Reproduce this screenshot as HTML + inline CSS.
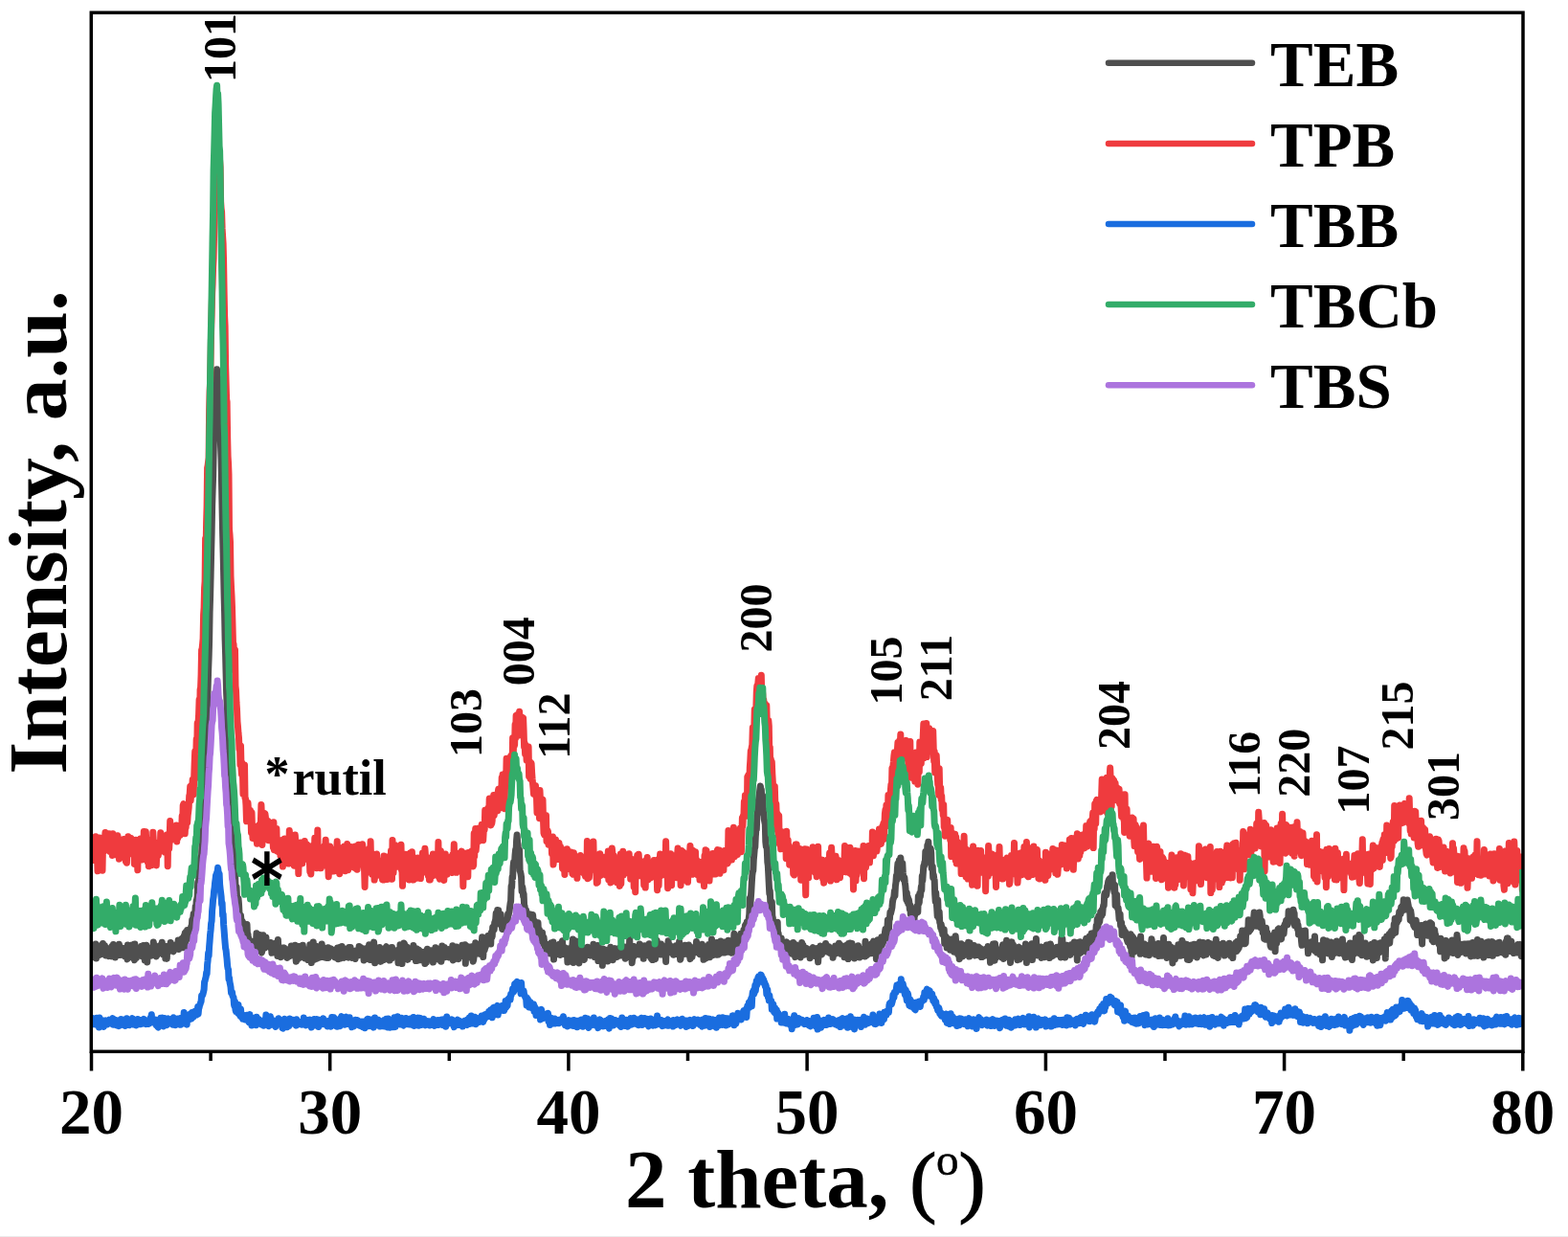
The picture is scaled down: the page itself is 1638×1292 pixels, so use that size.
<!DOCTYPE html>
<html><head><meta charset="utf-8"><style>
html,body{margin:0;padding:0;background:#fff;width:1638px;height:1292px;overflow:hidden}
svg{display:block}
</style></head><body>
<svg width="1638" height="1292" viewBox="0 0 1638 1292">
<rect x="0" y="0" width="1638" height="1292" fill="#fff"/>
<defs><clipPath id="pc"><rect x="95.3" y="13.2" width="1495.7" height="1085.1"/></clipPath></defs>
<g fill="none" stroke-linejoin="round" stroke-linecap="butt" clip-path="url(#pc)">
<path d="M95.5 994.2 96.0 1000.0 96.5 999.4 97.0 991.8 97.5 992.7 98.0 991.7 98.5 996.5 99.0 993.8 99.5 997.3 100.0 985.9 100.5 1000.9 101.0 993.6 101.5 997.0 102.0 993.4 102.5 992.4 103.0 996.1 103.5 997.7 104.0 993.1 104.5 993.4 105.0 997.0 105.5 990.2 106.0 987.4 106.5 995.8 107.0 991.1 107.5 985.6 108.0 990.5 108.5 992.0 109.0 988.8 109.5 987.5 110.0 994.2 110.5 998.0 111.0 993.0 111.4 990.8 111.9 995.7 112.4 997.2 112.9 992.7 113.4 996.4 113.9 998.6 114.4 993.1 114.9 990.5 115.4 995.6 115.9 995.1 116.4 998.9 116.9 988.4 117.4 991.1 117.9 990.4 118.4 986.4 118.9 994.6 119.4 996.4 119.9 990.8 120.4 1000.1 120.9 997.7 121.4 996.8 121.9 995.8 122.4 998.2 122.9 988.2 123.4 996.7 123.9 996.7 124.4 986.3 124.9 995.6 125.4 992.9 125.9 997.5 126.4 992.1 126.9 993.9 127.4 995.5 127.9 990.2 128.4 996.7 128.9 993.6 129.4 996.2 129.9 991.7 130.4 998.8 130.9 996.7 131.4 993.2 131.9 996.8 132.4 999.5 132.9 1001.9 133.4 987.1 133.9 997.9 134.4 996.0 134.9 993.6 135.4 989.6 135.9 999.5 136.4 988.4 136.9 996.5 137.4 999.7 137.9 986.9 138.4 992.6 138.9 988.2 139.4 995.0 139.9 1000.6 140.4 1002.8 140.9 986.1 141.4 991.4 141.9 997.0 142.4 1000.9 142.9 995.8 143.3 990.6 143.8 995.2 144.3 993.8 144.8 993.0 145.3 990.6 145.8 995.6 146.3 995.2 146.8 993.4 147.3 992.8 147.8 988.2 148.3 991.7 148.8 999.1 149.3 992.9 149.8 987.4 150.3 999.6 150.8 996.1 151.3 1003.0 151.8 994.0 152.3 991.7 152.8 987.3 153.3 999.5 153.8 1005.0 154.3 990.0 154.8 990.8 155.3 996.2 155.8 989.9 156.3 992.4 156.8 992.0 157.3 994.4 157.8 998.3 158.3 993.6 158.8 997.5 159.3 991.6 159.8 994.8 160.3 984.0 160.8 987.0 161.3 996.8 161.8 990.7 162.3 995.8 162.8 995.6 163.3 999.0 163.8 996.7 164.3 997.6 164.8 992.6 165.3 989.9 165.8 989.8 166.3 990.8 166.8 987.9 167.3 990.4 167.8 992.4 168.3 993.8 168.8 991.2 169.3 984.2 169.8 992.2 170.3 993.5 170.8 997.2 171.3 994.9 171.8 989.5 172.3 989.0 172.8 1001.0 173.3 995.4 173.8 1000.0 174.3 1001.3 174.8 988.2 175.2 993.4 175.7 993.6 176.2 994.0 176.7 993.8 177.2 992.2 177.7 991.9 178.2 984.4 178.7 990.2 179.2 987.5 179.7 991.2 180.2 988.4 180.7 993.0 181.2 993.7 181.7 991.3 182.2 991.2 182.7 990.0 183.2 987.4 183.7 988.4 184.2 986.7 184.7 990.4 185.2 988.5 185.7 990.7 186.2 982.0 186.7 991.5 187.2 983.9 187.7 983.7 188.2 985.7 188.7 983.7 189.2 987.1 189.7 982.8 190.2 980.2 190.7 980.7 191.2 989.7 191.7 983.6 192.2 977.7 192.7 982.3 193.2 974.8 193.7 988.8 194.2 973.5 194.7 981.6 195.2 981.1 195.7 971.4 196.2 978.2 196.7 980.3 197.2 976.9 197.7 974.9 198.2 976.7 198.7 972.0 199.2 971.4 199.7 967.8 200.2 969.6 200.7 961.0 201.2 966.8 201.7 959.2 202.2 954.5 202.7 958.7 203.2 962.1 203.7 956.3 204.2 947.0 204.7 949.3 205.2 941.0 205.7 939.0 206.2 936.2 206.7 921.5 207.1 928.2 207.6 918.1 208.1 914.5 208.6 905.5 209.1 899.4 209.6 895.6 210.1 896.4 210.6 892.7 211.1 877.2 211.6 873.5 212.1 858.2 212.6 840.9 213.1 839.2 213.6 829.0 214.1 812.7 214.6 802.7 215.1 789.7 215.6 768.3 216.1 749.6 216.6 738.2 217.1 720.3 217.6 700.9 218.1 687.2 218.6 670.0 219.1 639.4 219.6 622.6 220.1 601.6 220.6 578.3 221.1 557.4 221.6 529.1 222.1 512.5 222.6 497.5 223.1 472.6 223.6 448.4 224.1 437.6 224.6 426.4 225.1 410.9 225.6 397.8 226.1 401.0 226.6 385.7 227.1 393.4 227.6 394.2 228.1 395.1 228.6 414.6 229.1 422.4 229.6 429.8 230.1 453.8 230.6 467.2 231.1 480.3 231.6 506.3 232.1 532.0 232.6 555.7 233.1 575.9 233.6 597.7 234.1 621.7 234.6 640.4 235.1 667.6 235.6 683.5 236.1 703.8 236.6 723.7 237.1 734.6 237.6 753.1 238.1 778.9 238.6 788.8 239.0 800.2 239.5 816.2 240.0 825.0 240.5 839.9 241.0 846.5 241.5 860.7 242.0 861.9 242.5 883.3 243.0 883.2 243.5 886.0 244.0 898.9 244.5 904.6 245.0 912.8 245.5 912.6 246.0 924.5 246.5 943.4 247.0 926.2 247.5 937.4 248.0 938.3 248.5 944.0 249.0 938.4 249.5 944.3 250.0 954.2 250.5 954.6 251.0 964.4 251.5 956.3 252.0 962.3 252.5 976.3 253.0 961.9 253.5 963.0 254.0 968.3 254.5 969.8 255.0 975.0 255.5 973.2 256.0 970.5 256.5 975.8 257.0 987.6 257.5 982.5 258.0 965.6 258.5 978.0 259.0 975.6 259.5 982.9 260.0 980.1 260.5 990.0 261.0 986.2 261.5 986.6 262.0 984.0 262.5 983.5 263.0 985.6 263.5 990.3 264.0 987.3 264.5 983.8 265.0 991.2 265.5 986.8 266.0 985.8 266.5 982.9 267.0 984.1 267.5 984.0 268.0 974.7 268.5 991.6 269.0 989.7 269.5 986.3 270.0 991.9 270.5 989.2 270.9 988.9 271.4 976.4 271.9 986.2 272.4 989.5 272.9 994.1 273.4 995.0 273.9 993.0 274.4 981.5 274.9 976.8 275.4 988.8 275.9 986.2 276.4 990.2 276.9 985.2 277.4 986.6 277.9 979.0 278.4 987.5 278.9 983.5 279.4 987.0 279.9 987.6 280.4 985.2 280.9 987.2 281.4 986.0 281.9 989.6 282.4 988.8 282.9 984.5 283.4 984.7 283.9 995.3 284.4 987.5 284.9 992.7 285.4 990.4 285.9 986.6 286.4 986.1 286.9 990.3 287.4 991.2 287.9 993.1 288.4 985.1 288.9 988.4 289.4 990.8 289.9 998.6 290.4 981.4 290.9 993.9 291.4 989.8 291.9 994.2 292.4 990.3 292.9 994.3 293.4 999.7 293.9 994.5 294.4 995.0 294.9 994.8 295.4 990.0 295.9 995.8 296.4 992.6 296.9 990.0 297.4 993.5 297.9 992.7 298.4 997.1 298.9 993.7 299.4 991.6 299.9 1000.4 300.4 998.4 300.9 999.7 301.4 996.8 301.9 993.7 302.3 992.4 302.8 993.1 303.3 998.5 303.8 994.8 304.3 987.9 304.8 994.3 305.3 988.2 305.8 995.2 306.3 989.2 306.8 989.0 307.3 995.1 307.8 994.2 308.3 987.3 308.8 997.9 309.3 1004.2 309.8 988.2 310.3 1002.7 310.8 991.7 311.3 992.6 311.8 994.0 312.3 988.4 312.8 1000.5 313.3 997.0 313.8 991.5 314.3 993.6 314.8 988.2 315.3 993.3 315.8 999.0 316.3 987.3 316.8 993.0 317.3 995.6 317.8 999.5 318.3 1000.9 318.8 992.9 319.3 991.7 319.8 997.0 320.3 993.4 320.8 993.6 321.3 999.8 321.8 1002.5 322.3 996.2 322.8 994.2 323.3 997.6 323.8 986.8 324.3 995.0 324.8 990.4 325.3 1005.6 325.8 998.3 326.3 995.7 326.8 994.3 327.3 984.0 327.8 998.3 328.3 1002.3 328.8 991.9 329.3 998.2 329.8 998.3 330.3 988.3 330.8 999.3 331.3 1001.1 331.8 996.2 332.3 994.9 332.8 998.7 333.3 988.4 333.8 995.6 334.2 999.9 334.7 989.8 335.2 999.6 335.7 993.4 336.2 986.1 336.7 994.8 337.2 991.0 337.7 996.7 338.2 990.1 338.7 999.9 339.2 992.0 339.7 996.8 340.2 992.7 340.7 993.9 341.2 1000.5 341.7 996.2 342.2 993.6 342.7 989.8 343.2 1000.4 343.7 998.5 344.2 993.9 344.7 996.4 345.2 990.8 345.7 990.9 346.2 991.7 346.7 996.9 347.2 996.7 347.7 992.1 348.2 998.6 348.7 998.8 349.2 996.1 349.7 999.9 350.2 994.1 350.7 994.9 351.2 997.5 351.7 995.2 352.2 998.9 352.7 989.9 353.2 1001.7 353.7 992.0 354.2 994.7 354.7 989.4 355.2 998.1 355.7 1001.0 356.2 1000.1 356.7 999.1 357.2 988.6 357.7 992.0 358.2 993.4 358.7 991.3 359.2 1000.4 359.7 996.3 360.2 995.4 360.7 997.6 361.2 991.3 361.7 991.5 362.2 991.6 362.7 997.7 363.2 997.0 363.7 998.0 364.2 1000.2 364.7 989.5 365.2 993.0 365.7 996.2 366.1 989.6 366.6 993.2 367.1 1000.0 367.6 1000.4 368.1 1000.3 368.6 995.7 369.1 994.6 369.6 1000.3 370.1 993.9 370.6 997.0 371.1 1001.4 371.6 993.9 372.1 992.9 372.6 995.5 373.1 998.2 373.6 997.7 374.1 996.3 374.6 998.0 375.1 988.5 375.6 991.8 376.1 996.3 376.6 991.5 377.1 989.7 377.6 990.3 378.1 991.6 378.6 994.8 379.1 991.1 379.6 996.6 380.1 1003.1 380.6 995.0 381.1 1001.2 381.6 996.9 382.1 990.7 382.6 994.5 383.1 991.3 383.6 999.0 384.1 990.6 384.6 1001.5 385.1 998.2 385.6 986.7 386.1 999.1 386.6 1002.5 387.1 992.2 387.6 1000.0 388.1 987.8 388.6 996.8 389.1 988.4 389.6 997.8 390.1 987.8 390.6 984.1 391.1 997.4 391.6 1005.8 392.1 993.1 392.6 999.3 393.1 996.2 393.6 994.3 394.1 998.4 394.6 1002.9 395.1 990.3 395.6 998.2 396.1 997.2 396.6 989.5 397.1 1002.8 397.6 1004.3 398.0 991.5 398.5 1003.4 399.0 996.0 399.5 995.0 400.0 1002.4 400.5 996.7 401.0 997.2 401.5 1002.4 402.0 1001.4 402.5 999.7 403.0 989.6 403.5 988.8 404.0 1000.7 404.5 991.7 405.0 996.4 405.5 991.0 406.0 995.0 406.5 990.2 407.0 1003.0 407.5 991.3 408.0 995.2 408.5 995.0 409.0 1001.1 409.5 989.5 410.0 995.7 410.5 994.9 411.0 998.1 411.5 997.9 412.0 993.8 412.5 996.9 413.0 994.2 413.5 997.9 414.0 995.4 414.5 992.9 415.0 995.7 415.5 997.4 416.0 1005.8 416.5 993.7 417.0 997.2 417.5 1002.3 418.0 986.7 418.5 988.2 419.0 990.6 419.5 995.4 420.0 1006.6 420.5 997.6 421.0 1001.2 421.5 994.9 422.0 985.0 422.5 985.7 423.0 1000.4 423.5 996.7 424.0 990.2 424.5 1000.8 425.0 989.1 425.5 1000.9 426.0 1002.3 426.5 992.5 427.0 991.0 427.5 999.6 428.0 991.1 428.5 999.7 429.0 990.6 429.5 999.5 429.9 996.3 430.4 994.0 430.9 992.0 431.4 997.0 431.9 987.6 432.4 994.7 432.9 994.2 433.4 998.9 433.9 990.4 434.4 1003.5 434.9 994.6 435.4 990.9 435.9 1002.0 436.4 1003.3 436.9 995.1 437.4 992.0 437.9 996.0 438.4 992.9 438.9 994.6 439.4 1002.8 439.9 997.7 440.4 996.6 440.9 997.5 441.4 995.7 441.9 999.7 442.4 999.8 442.9 994.3 443.4 996.4 443.9 1006.6 444.4 997.8 444.9 995.2 445.4 1005.0 445.9 996.0 446.4 991.2 446.9 999.0 447.4 992.0 447.9 993.8 448.4 997.4 448.9 995.4 449.4 992.6 449.9 993.6 450.4 993.4 450.9 1001.1 451.4 992.8 451.9 993.5 452.4 1005.0 452.9 993.5 453.4 1002.5 453.9 1001.8 454.4 995.3 454.9 989.7 455.4 998.0 455.9 998.9 456.4 1000.2 456.9 996.3 457.4 1001.3 457.9 1002.1 458.4 991.3 458.9 1002.2 459.4 996.7 459.9 993.5 460.4 994.5 460.9 1004.2 461.4 1000.3 461.8 988.1 462.3 996.3 462.8 995.3 463.3 995.1 463.8 993.7 464.3 989.5 464.8 999.7 465.3 991.8 465.8 994.3 466.3 993.2 466.8 992.7 467.3 999.1 467.8 997.6 468.3 992.9 468.8 991.7 469.3 993.8 469.8 1000.1 470.3 996.4 470.8 996.9 471.3 994.4 471.8 994.7 472.3 996.8 472.8 987.7 473.3 1002.9 473.8 992.3 474.3 993.3 474.8 1001.7 475.3 996.7 475.8 995.9 476.3 993.2 476.8 988.9 477.3 996.5 477.8 1001.0 478.3 991.7 478.8 1001.7 479.3 990.7 479.8 992.4 480.3 997.9 480.8 995.6 481.3 998.7 481.8 992.3 482.3 991.0 482.8 987.3 483.3 990.2 483.8 990.8 484.3 989.2 484.8 996.8 485.3 992.5 485.8 986.7 486.3 1006.3 486.8 991.7 487.3 989.8 487.8 1000.8 488.3 1000.4 488.8 990.2 489.3 988.7 489.8 990.7 490.3 1000.1 490.8 993.7 491.3 991.4 491.8 994.8 492.3 1000.2 492.8 988.7 493.2 993.1 493.7 988.6 494.2 1004.2 494.7 1002.5 495.2 998.6 495.7 993.7 496.2 997.1 496.7 984.8 497.2 995.2 497.7 988.0 498.2 987.9 498.7 990.4 499.2 991.8 499.7 995.7 500.2 996.0 500.7 993.9 501.2 988.3 501.7 995.2 502.2 991.4 502.7 996.8 503.2 987.2 503.7 978.7 504.2 988.4 504.7 999.5 505.2 991.6 505.7 988.2 506.2 992.3 506.7 990.0 507.2 989.1 507.7 984.1 508.2 985.8 508.7 985.5 509.2 980.8 509.7 977.6 510.2 982.0 510.7 984.5 511.2 981.8 511.7 979.7 512.2 978.3 512.7 986.0 513.2 974.2 513.7 976.0 514.2 978.4 514.7 968.4 515.2 967.7 515.7 969.6 516.2 971.0 516.7 963.6 517.2 962.6 517.7 960.4 518.2 953.9 518.7 963.5 519.2 957.1 519.7 950.4 520.2 957.4 520.7 950.7 521.2 954.3 521.7 959.4 522.2 956.0 522.7 965.5 523.2 955.1 523.7 963.6 524.2 965.7 524.7 970.4 525.1 968.6 525.6 966.1 526.1 965.7 526.6 965.3 527.1 970.5 527.6 962.3 528.1 966.9 528.6 963.4 529.1 963.8 529.6 960.2 530.1 969.0 530.6 954.7 531.1 956.2 531.6 953.5 532.1 951.7 532.6 947.4 533.1 943.3 533.6 941.3 534.1 925.5 534.6 927.0 535.1 916.1 535.6 917.0 536.1 905.1 536.6 900.5 537.1 899.1 537.6 900.5 538.1 892.5 538.6 887.5 539.1 889.6 539.6 877.6 540.1 871.9 540.6 879.7 541.1 882.0 541.6 891.3 542.1 898.8 542.6 887.8 543.1 909.5 543.6 910.7 544.1 913.0 544.6 916.4 545.1 931.0 545.6 925.9 546.1 928.5 546.6 935.9 547.1 933.5 547.6 945.6 548.1 946.5 548.6 951.6 549.1 954.5 549.6 950.6 550.1 963.1 550.6 954.6 551.1 964.4 551.6 954.6 552.1 964.2 552.6 959.7 553.1 964.0 553.6 961.4 554.1 954.9 554.6 959.7 555.1 965.1 555.6 967.6 556.1 958.4 556.6 955.5 557.0 961.1 557.5 964.2 558.0 962.5 558.5 962.0 559.0 969.6 559.5 970.6 560.0 970.2 560.5 963.4 561.0 968.6 561.5 968.2 562.0 963.7 562.5 974.8 563.0 972.4 563.5 970.9 564.0 980.3 564.5 978.5 565.0 980.0 565.5 982.6 566.0 981.6 566.5 973.9 567.0 978.7 567.5 985.8 568.0 979.0 568.5 983.4 569.0 985.8 569.5 991.2 570.0 991.3 570.5 990.2 571.0 986.1 571.5 991.6 572.0 990.4 572.5 987.9 573.0 995.1 573.5 991.7 574.0 986.7 574.5 996.0 575.0 989.6 575.5 993.7 576.0 984.7 576.5 991.6 577.0 987.8 577.5 987.9 578.0 984.0 578.5 1002.1 579.0 992.2 579.5 994.1 580.0 998.0 580.5 992.8 581.0 995.7 581.5 987.6 582.0 994.6 582.5 992.0 583.0 996.2 583.5 994.9 584.0 988.1 584.5 986.1 585.0 989.8 585.5 997.6 586.0 996.3 586.5 996.3 587.0 985.7 587.5 982.8 588.0 991.9 588.5 993.3 588.9 992.1 589.4 996.4 589.9 994.1 590.4 989.7 590.9 991.1 591.4 995.6 591.9 995.3 592.4 994.7 592.9 1005.0 593.4 993.9 593.9 995.6 594.4 990.8 594.9 993.6 595.4 997.5 595.9 997.7 596.4 994.5 596.9 997.0 597.4 995.5 597.9 987.0 598.4 980.9 598.9 1005.4 599.4 998.9 599.9 995.1 600.4 987.7 600.9 989.7 601.4 1001.3 601.9 983.1 602.4 993.9 602.9 999.2 603.4 996.0 603.9 998.7 604.4 994.8 604.9 1005.9 605.4 990.9 605.9 989.4 606.4 996.6 606.9 1001.7 607.4 995.2 607.9 1000.0 608.4 993.1 608.9 990.2 609.4 1001.6 609.9 1002.4 610.4 1002.2 610.9 993.5 611.4 990.4 611.9 990.3 612.4 994.5 612.9 998.0 613.4 997.7 613.9 989.2 614.4 996.3 614.9 995.6 615.4 995.9 615.9 995.4 616.4 994.6 616.9 998.1 617.4 996.0 617.9 996.5 618.4 992.5 618.9 997.2 619.4 995.0 619.9 986.2 620.4 997.6 620.8 994.3 621.3 999.6 621.8 994.8 622.3 995.1 622.8 996.4 623.3 995.4 623.8 993.5 624.3 987.6 624.8 1003.6 625.3 988.6 625.8 994.0 626.3 998.4 626.8 997.2 627.3 998.0 627.8 998.9 628.3 1001.1 628.8 996.8 629.3 1008.3 629.8 991.0 630.3 996.5 630.8 993.9 631.3 993.1 631.8 996.8 632.3 1001.9 632.8 992.3 633.3 992.3 633.8 998.6 634.3 997.8 634.8 1004.0 635.3 999.9 635.8 996.4 636.3 993.9 636.8 996.3 637.3 994.6 637.8 989.3 638.3 995.4 638.8 994.5 639.3 994.3 639.8 993.4 640.3 1002.7 640.8 998.3 641.3 999.4 641.8 992.5 642.3 990.7 642.8 994.0 643.3 996.3 643.8 993.6 644.3 994.3 644.8 999.4 645.3 996.4 645.8 990.8 646.3 993.2 646.8 992.2 647.3 995.9 647.8 989.9 648.3 994.3 648.8 998.1 649.3 995.1 649.8 991.0 650.3 992.3 650.8 995.5 651.3 997.1 651.8 998.6 652.3 994.3 652.7 989.1 653.2 1001.2 653.7 996.2 654.2 996.7 654.7 996.2 655.2 990.3 655.7 993.4 656.2 996.0 656.7 999.4 657.2 995.1 657.7 981.1 658.2 993.7 658.7 996.3 659.2 1000.4 659.7 997.9 660.2 1005.7 660.7 1001.0 661.2 1000.6 661.7 998.8 662.2 988.6 662.7 998.4 663.2 997.3 663.7 992.3 664.2 997.2 664.7 996.4 665.2 992.5 665.7 994.0 666.2 993.4 666.7 995.5 667.2 992.7 667.7 996.9 668.2 986.1 668.7 993.2 669.2 987.1 669.7 992.3 670.2 996.7 670.7 994.5 671.2 993.9 671.7 994.7 672.2 1001.3 672.7 989.5 673.2 998.3 673.7 987.7 674.2 992.3 674.7 995.0 675.2 990.5 675.7 995.2 676.2 997.5 676.7 989.0 677.2 993.9 677.7 992.6 678.2 985.7 678.7 993.4 679.2 990.7 679.7 1000.1 680.2 990.3 680.7 1001.6 681.2 991.8 681.7 1002.6 682.2 996.5 682.7 996.1 683.2 997.6 683.7 998.0 684.1 1000.2 684.6 1001.6 685.1 992.5 685.6 988.5 686.1 982.2 686.6 992.3 687.1 997.3 687.6 995.6 688.1 994.4 688.6 992.4 689.1 991.1 689.6 992.6 690.1 995.6 690.6 986.1 691.1 997.0 691.6 987.4 692.1 993.1 692.6 991.0 693.1 992.2 693.6 989.2 694.1 988.7 694.6 992.7 695.1 988.9 695.6 1004.5 696.1 991.8 696.6 990.8 697.1 991.2 697.6 988.9 698.1 982.8 698.6 992.5 699.1 994.9 699.6 986.9 700.1 993.6 700.6 988.2 701.1 993.4 701.6 995.1 702.1 995.6 702.6 995.4 703.1 990.4 703.6 997.3 704.1 991.4 704.6 994.9 705.1 996.5 705.6 992.0 706.1 987.7 706.6 996.0 707.1 988.4 707.6 989.4 708.1 988.4 708.6 997.0 709.1 992.5 709.6 983.4 710.1 996.5 710.6 1002.3 711.1 1001.1 711.6 990.7 712.1 993.5 712.6 995.4 713.1 997.1 713.6 993.3 714.1 988.3 714.6 996.4 715.1 995.8 715.6 987.2 716.0 991.4 716.5 994.2 717.0 993.0 717.5 995.3 718.0 996.5 718.5 995.3 719.0 992.4 719.5 987.0 720.0 995.7 720.5 999.1 721.0 1001.6 721.5 992.8 722.0 992.8 722.5 999.3 723.0 999.3 723.5 994.4 724.0 996.1 724.5 989.6 725.0 995.5 725.5 989.3 726.0 992.3 726.5 992.4 727.0 990.8 727.5 983.6 728.0 989.3 728.5 994.4 729.0 992.6 729.5 991.2 730.0 994.8 730.5 995.9 731.0 996.6 731.5 989.3 732.0 993.0 732.5 991.4 733.0 989.0 733.5 986.3 734.0 992.4 734.5 989.0 735.0 1002.3 735.5 992.4 736.0 991.8 736.5 991.0 737.0 1001.0 737.5 988.6 738.0 992.1 738.5 989.4 739.0 992.2 739.5 992.6 740.0 997.6 740.5 986.5 741.0 992.6 741.5 999.8 742.0 990.4 742.5 991.9 743.0 988.8 743.5 981.1 744.0 992.2 744.5 997.8 745.0 990.5 745.5 984.4 746.0 993.7 746.5 992.9 747.0 996.9 747.5 996.5 747.9 991.3 748.4 994.2 748.9 984.5 749.4 997.3 749.9 993.2 750.4 997.1 750.9 997.0 751.4 991.0 751.9 991.6 752.4 988.3 752.9 983.0 753.4 991.5 753.9 992.7 754.4 987.2 754.9 995.1 755.4 992.3 755.9 993.8 756.4 988.4 756.9 983.9 757.4 995.1 757.9 994.2 758.4 991.0 758.9 989.5 759.4 990.1 759.9 990.6 760.4 988.9 760.9 982.2 761.4 994.3 761.9 984.2 762.4 989.2 762.9 989.1 763.4 991.5 763.9 983.1 764.4 995.3 764.9 992.7 765.4 993.0 765.9 995.0 766.4 985.7 766.9 975.2 767.4 990.2 767.9 994.2 768.4 993.2 768.9 985.4 769.4 987.0 769.9 988.3 770.4 978.7 770.9 983.3 771.4 982.9 771.9 992.1 772.4 981.7 772.9 990.9 773.4 983.4 773.9 975.2 774.4 991.5 774.9 976.6 775.4 982.7 775.9 986.4 776.4 975.5 776.9 971.2 777.4 979.8 777.9 974.1 778.4 966.8 778.9 965.7 779.4 966.8 779.8 970.6 780.3 962.9 780.8 964.5 781.3 966.2 781.8 961.5 782.3 959.0 782.8 954.6 783.3 938.3 783.8 946.6 784.3 938.2 784.8 931.4 785.3 922.1 785.8 914.3 786.3 910.6 786.8 909.2 787.3 897.6 787.8 892.4 788.3 886.3 788.8 884.8 789.3 873.4 789.8 866.9 790.3 866.3 790.8 852.3 791.3 850.0 791.8 836.9 792.3 837.9 792.8 832.7 793.3 829.6 793.8 824.6 794.3 820.9 794.8 824.1 795.3 824.6 795.8 833.4 796.3 836.2 796.8 831.2 797.3 844.3 797.8 845.3 798.3 855.7 798.8 858.4 799.3 861.0 799.8 879.2 800.3 883.9 800.8 883.7 801.3 887.7 801.8 900.5 802.3 904.1 802.8 913.9 803.3 924.1 803.8 933.4 804.3 930.5 804.8 942.9 805.3 946.4 805.8 943.5 806.3 941.9 806.8 956.5 807.3 958.7 807.8 969.3 808.3 968.0 808.8 967.6 809.3 973.9 809.8 964.0 810.3 971.4 810.8 971.1 811.3 981.5 811.7 977.8 812.2 963.2 812.7 984.0 813.2 975.1 813.7 983.5 814.2 979.0 814.7 983.0 815.2 985.5 815.7 984.3 816.2 980.0 816.7 991.0 817.2 987.1 817.7 985.8 818.2 989.5 818.7 984.5 819.2 995.6 819.7 988.7 820.2 989.7 820.7 989.9 821.2 984.7 821.7 983.8 822.2 990.2 822.7 991.0 823.2 995.7 823.7 991.9 824.2 985.4 824.7 992.6 825.2 994.1 825.7 995.1 826.2 992.3 826.7 985.6 827.2 996.2 827.7 988.0 828.2 993.9 828.7 984.5 829.2 994.9 829.7 988.2 830.2 996.5 830.7 999.6 831.2 997.1 831.7 986.8 832.2 987.9 832.7 988.3 833.2 995.1 833.7 993.8 834.2 993.0 834.7 993.7 835.2 995.0 835.7 995.3 836.2 999.9 836.7 992.3 837.2 993.5 837.7 984.4 838.2 986.8 838.7 989.6 839.2 987.5 839.7 993.7 840.2 997.3 840.7 990.9 841.2 990.7 841.7 990.6 842.2 993.4 842.7 990.5 843.1 994.8 843.6 994.2 844.1 994.5 844.6 996.3 845.1 993.1 845.6 993.6 846.1 1000.7 846.6 992.8 847.1 996.5 847.6 993.3 848.1 991.0 848.6 991.1 849.1 989.5 849.6 993.1 850.1 990.4 850.6 991.2 851.1 998.5 851.6 992.5 852.1 998.2 852.6 994.3 853.1 996.9 853.6 990.5 854.1 993.8 854.6 1004.8 855.1 996.8 855.6 997.6 856.1 994.2 856.6 997.0 857.1 988.1 857.6 989.5 858.1 995.1 858.6 996.8 859.1 991.4 859.6 992.4 860.1 991.6 860.6 992.4 861.1 988.0 861.6 986.9 862.1 992.9 862.6 985.6 863.1 988.9 863.6 990.3 864.1 988.6 864.6 994.3 865.1 991.3 865.6 992.9 866.1 988.8 866.6 990.0 867.1 995.5 867.6 994.8 868.1 991.2 868.6 994.8 869.1 994.0 869.6 993.9 870.1 1000.2 870.6 991.4 871.1 995.0 871.6 995.0 872.1 992.2 872.6 988.1 873.1 996.2 873.6 994.3 874.1 993.4 874.6 993.3 875.0 993.3 875.5 989.2 876.0 994.4 876.5 985.2 877.0 993.0 877.5 986.5 878.0 991.6 878.5 996.3 879.0 992.0 879.5 991.0 880.0 995.3 880.5 991.9 881.0 991.3 881.5 991.3 882.0 999.7 882.5 996.0 883.0 995.1 883.5 987.8 884.0 995.7 884.5 987.3 885.0 995.1 885.5 988.1 886.0 1001.6 886.5 985.5 887.0 998.3 887.5 996.5 888.0 985.1 888.5 991.8 889.0 999.2 889.5 997.9 890.0 985.6 890.5 990.6 891.0 987.7 891.5 988.3 892.0 990.0 892.5 1000.9 893.0 993.3 893.5 991.7 894.0 991.2 894.5 995.6 895.0 995.7 895.5 988.6 896.0 999.1 896.5 987.8 897.0 991.4 897.5 994.5 898.0 1000.0 898.5 991.0 899.0 993.7 899.5 998.2 900.0 995.1 900.5 997.3 901.0 996.9 901.5 993.4 902.0 995.0 902.5 996.2 903.0 992.0 903.5 999.1 904.0 983.3 904.5 987.9 905.0 998.2 905.5 993.7 906.0 988.9 906.5 993.3 906.9 996.4 907.4 989.0 907.9 994.8 908.4 990.7 908.9 990.7 909.4 990.8 909.9 995.8 910.4 985.9 910.9 989.1 911.4 993.4 911.9 985.0 912.4 983.2 912.9 992.5 913.4 989.8 913.9 989.0 914.4 990.0 914.9 984.9 915.4 1001.7 915.9 984.3 916.4 986.4 916.9 981.7 917.4 985.8 917.9 993.9 918.4 986.9 918.9 989.0 919.4 983.8 919.9 993.4 920.4 985.5 920.9 978.7 921.4 987.0 921.9 981.2 922.4 984.8 922.9 981.9 923.4 981.5 923.9 980.0 924.4 974.3 924.9 970.6 925.4 980.2 925.9 974.0 926.4 974.4 926.9 969.6 927.4 961.0 927.9 962.5 928.4 972.3 928.9 960.6 929.4 960.1 929.9 952.9 930.4 954.5 930.9 952.5 931.4 950.3 931.9 947.9 932.4 942.3 932.9 939.3 933.4 938.3 933.9 936.4 934.4 930.8 934.9 935.6 935.4 925.3 935.9 921.7 936.4 914.8 936.9 919.1 937.4 907.3 937.9 902.1 938.4 902.7 938.8 907.9 939.3 898.8 939.8 908.6 940.3 902.4 940.8 895.9 941.3 902.2 941.8 912.1 942.3 901.9 942.8 901.8 943.3 912.0 943.8 918.0 944.3 919.4 944.8 916.4 945.3 921.7 945.8 925.3 946.3 932.2 946.8 939.5 947.3 932.5 947.8 941.6 948.3 937.0 948.8 943.7 949.3 939.4 949.8 942.3 950.3 949.4 950.8 945.4 951.3 954.8 951.8 949.8 952.3 953.7 952.8 953.9 953.3 953.4 953.8 955.9 954.3 960.3 954.8 969.2 955.3 950.1 955.8 956.2 956.3 953.4 956.8 949.2 957.3 953.3 957.8 946.8 958.3 948.7 958.8 952.7 959.3 936.2 959.8 943.9 960.3 942.2 960.8 933.2 961.3 936.7 961.8 932.8 962.3 926.3 962.8 929.7 963.3 914.9 963.8 919.8 964.3 912.2 964.8 904.8 965.3 905.0 965.8 900.8 966.3 902.6 966.8 889.4 967.3 892.4 967.8 889.0 968.3 896.1 968.8 883.0 969.3 891.9 969.8 879.3 970.3 889.0 970.7 887.9 971.2 891.7 971.7 889.1 972.2 886.1 972.7 890.9 973.2 906.8 973.7 905.6 974.2 904.7 974.7 916.5 975.2 913.3 975.7 917.5 976.2 919.5 976.7 934.1 977.2 941.5 977.7 932.5 978.2 941.7 978.7 948.3 979.2 956.7 979.7 940.0 980.2 954.2 980.7 959.2 981.2 952.5 981.7 963.3 982.2 964.7 982.7 969.1 983.2 965.4 983.7 971.6 984.2 968.8 984.7 975.7 985.2 975.2 985.7 974.2 986.2 970.9 986.7 985.5 987.2 984.2 987.7 984.1 988.2 978.3 988.7 980.5 989.2 990.1 989.7 986.8 990.2 980.4 990.7 985.0 991.2 985.9 991.7 985.0 992.2 982.2 992.7 992.3 993.2 989.8 993.7 986.7 994.2 981.0 994.7 985.7 995.2 988.6 995.7 992.7 996.2 987.5 996.7 994.3 997.2 990.3 997.7 986.6 998.2 977.8 998.7 985.1 999.2 983.9 999.7 990.0 1000.2 992.2 1000.7 997.0 1001.2 991.0 1001.7 986.1 1002.2 1001.7 1002.6 992.8 1003.1 990.4 1003.6 990.5 1004.1 985.8 1004.6 994.6 1005.1 993.6 1005.6 999.0 1006.1 996.9 1006.6 996.0 1007.1 997.8 1007.6 991.1 1008.1 990.4 1008.6 992.2 1009.1 987.0 1009.6 991.9 1010.1 991.1 1010.6 995.6 1011.1 992.6 1011.6 984.3 1012.1 992.9 1012.6 999.1 1013.1 984.8 1013.6 989.6 1014.1 993.0 1014.6 987.1 1015.1 990.6 1015.6 993.3 1016.1 987.3 1016.6 994.4 1017.1 994.9 1017.6 987.6 1018.1 993.3 1018.6 998.0 1019.1 992.5 1019.6 995.2 1020.1 996.1 1020.6 992.3 1021.1 997.6 1021.6 995.0 1022.1 989.0 1022.6 995.7 1023.1 997.2 1023.6 997.0 1024.1 990.6 1024.6 995.5 1025.1 999.5 1025.6 994.5 1026.1 998.7 1026.6 999.2 1027.1 993.4 1027.6 996.5 1028.1 992.3 1028.6 998.3 1029.1 993.2 1029.6 991.2 1030.1 993.5 1030.6 993.3 1031.1 995.3 1031.6 995.7 1032.1 988.5 1032.6 990.8 1033.1 995.3 1033.6 995.8 1034.0 994.1 1034.5 1005.3 1035.0 998.7 1035.5 993.4 1036.0 997.0 1036.5 999.7 1037.0 995.4 1037.5 986.1 1038.0 994.2 1038.5 994.0 1039.0 1003.2 1039.5 985.8 1040.0 1000.7 1040.5 993.2 1041.0 998.0 1041.5 992.6 1042.0 994.7 1042.5 998.9 1043.0 994.3 1043.5 998.6 1044.0 993.6 1044.5 992.1 1045.0 993.0 1045.5 991.7 1046.0 993.4 1046.5 1000.0 1047.0 988.8 1047.5 986.7 1048.0 993.9 1048.5 1001.4 1049.0 998.6 1049.5 999.8 1050.0 999.5 1050.5 990.8 1051.0 994.6 1051.5 982.3 1052.0 991.4 1052.5 996.7 1053.0 987.2 1053.5 985.0 1054.0 988.4 1054.5 995.0 1055.0 999.2 1055.5 1005.5 1056.0 1000.4 1056.5 987.4 1057.0 983.9 1057.5 994.8 1058.0 998.8 1058.5 987.0 1059.0 991.9 1059.5 992.2 1060.0 994.3 1060.5 993.4 1061.0 996.4 1061.5 998.7 1062.0 994.3 1062.5 997.3 1063.0 1002.7 1063.5 989.4 1064.0 989.2 1064.5 996.1 1065.0 1001.9 1065.5 994.5 1065.9 998.5 1066.4 992.3 1066.9 997.6 1067.4 990.8 1067.9 996.5 1068.4 995.2 1068.9 995.2 1069.4 999.5 1069.9 998.1 1070.4 990.7 1070.9 997.3 1071.4 985.9 1071.9 997.7 1072.4 1005.5 1072.9 995.7 1073.4 995.6 1073.9 993.7 1074.4 997.1 1074.9 991.4 1075.4 996.4 1075.9 992.2 1076.4 991.6 1076.9 994.0 1077.4 993.2 1077.9 985.8 1078.4 1002.6 1078.9 994.1 1079.4 986.0 1079.9 998.2 1080.4 993.3 1080.9 994.4 1081.4 996.6 1081.9 989.5 1082.4 980.5 1082.9 993.0 1083.4 994.5 1083.9 997.9 1084.4 990.1 1084.9 992.3 1085.4 995.2 1085.9 992.0 1086.4 992.3 1086.9 994.5 1087.4 989.0 1087.9 1000.4 1088.4 989.3 1088.9 993.5 1089.4 991.9 1089.9 990.2 1090.4 995.7 1090.9 997.8 1091.4 999.7 1091.9 995.9 1092.4 991.4 1092.9 997.1 1093.4 986.9 1093.9 993.5 1094.4 995.6 1094.9 995.8 1095.4 988.2 1095.9 986.6 1096.4 1000.5 1096.9 991.0 1097.4 985.9 1097.8 987.7 1098.3 993.2 1098.8 998.3 1099.3 993.1 1099.8 998.4 1100.3 994.1 1100.8 995.1 1101.3 997.4 1101.8 991.4 1102.3 994.3 1102.8 991.3 1103.3 990.2 1103.8 995.8 1104.3 989.3 1104.8 993.3 1105.3 989.4 1105.8 992.5 1106.3 990.5 1106.8 997.6 1107.3 993.1 1107.8 993.1 1108.3 1000.0 1108.8 979.9 1109.3 987.7 1109.8 980.5 1110.3 992.5 1110.8 994.5 1111.3 995.3 1111.8 993.6 1112.3 988.6 1112.8 1000.1 1113.3 993.7 1113.8 991.2 1114.3 987.3 1114.8 994.1 1115.3 990.0 1115.8 990.2 1116.3 993.0 1116.8 993.0 1117.3 988.4 1117.8 997.4 1118.3 987.5 1118.8 986.9 1119.3 993.1 1119.8 992.3 1120.3 992.0 1120.8 989.8 1121.3 991.7 1121.8 989.0 1122.3 984.1 1122.8 994.5 1123.3 986.7 1123.8 990.1 1124.3 994.2 1124.8 991.0 1125.3 1002.9 1125.8 984.6 1126.3 987.3 1126.8 990.9 1127.3 996.3 1127.8 989.1 1128.3 983.8 1128.8 995.0 1129.3 985.7 1129.7 988.7 1130.2 993.3 1130.7 986.3 1131.2 987.0 1131.7 990.9 1132.2 987.7 1132.7 989.6 1133.2 983.9 1133.7 987.2 1134.2 982.7 1134.7 980.3 1135.2 994.5 1135.7 988.4 1136.2 990.1 1136.7 981.4 1137.2 985.0 1137.7 983.8 1138.2 977.9 1138.7 986.0 1139.2 979.9 1139.7 981.5 1140.2 975.1 1140.7 985.4 1141.2 983.6 1141.7 981.2 1142.2 974.6 1142.7 975.2 1143.2 982.0 1143.7 974.3 1144.2 975.6 1144.7 973.8 1145.2 967.0 1145.7 977.2 1146.2 960.3 1146.7 968.4 1147.2 965.4 1147.7 957.0 1148.2 963.7 1148.7 962.6 1149.2 958.5 1149.7 952.6 1150.2 956.0 1150.7 956.7 1151.2 950.4 1151.7 954.7 1152.2 948.5 1152.7 945.6 1153.2 945.9 1153.7 934.5 1154.2 932.7 1154.7 935.0 1155.2 932.8 1155.7 935.1 1156.2 931.6 1156.7 925.6 1157.2 924.3 1157.7 920.8 1158.2 919.4 1158.7 918.3 1159.2 923.8 1159.7 917.6 1160.2 918.3 1160.7 921.0 1161.2 918.8 1161.6 921.1 1162.1 913.7 1162.6 926.5 1163.1 925.3 1163.6 929.4 1164.1 932.2 1164.6 924.6 1165.1 945.7 1165.6 938.2 1166.1 940.7 1166.6 934.6 1167.1 947.6 1167.6 949.1 1168.1 948.2 1168.6 953.2 1169.1 960.0 1169.6 955.1 1170.1 954.7 1170.6 966.6 1171.1 963.9 1171.6 963.8 1172.1 976.4 1172.6 968.6 1173.1 968.7 1173.6 972.1 1174.1 970.6 1174.6 974.6 1175.1 975.5 1175.6 973.1 1176.1 975.9 1176.6 979.4 1177.1 980.7 1177.6 982.4 1178.1 984.1 1178.6 982.5 1179.1 984.4 1179.6 981.1 1180.1 982.3 1180.6 988.5 1181.1 975.8 1181.6 986.6 1182.1 999.3 1182.6 977.7 1183.1 992.9 1183.6 978.9 1184.1 988.5 1184.6 994.4 1185.1 994.1 1185.6 983.8 1186.1 982.4 1186.6 982.0 1187.1 991.7 1187.6 987.0 1188.1 989.0 1188.6 990.3 1189.1 991.1 1189.6 991.8 1190.1 990.2 1190.6 982.7 1191.1 996.3 1191.6 977.9 1192.1 995.6 1192.6 987.6 1193.1 989.5 1193.5 988.2 1194.0 988.9 1194.5 990.6 1195.0 989.5 1195.5 986.0 1196.0 994.6 1196.5 988.4 1197.0 997.0 1197.5 990.4 1198.0 988.1 1198.5 993.2 1199.0 995.2 1199.5 987.3 1200.0 990.1 1200.5 997.7 1201.0 987.1 1201.5 987.8 1202.0 992.3 1202.5 986.3 1203.0 980.8 1203.5 984.3 1204.0 993.3 1204.5 994.6 1205.0 994.4 1205.5 993.5 1206.0 986.4 1206.5 994.8 1207.0 996.9 1207.5 988.8 1208.0 996.1 1208.5 990.3 1209.0 992.8 1209.5 993.6 1210.0 985.5 1210.5 998.5 1211.0 988.3 1211.5 991.6 1212.0 989.9 1212.5 994.1 1213.0 994.0 1213.5 992.2 1214.0 998.3 1214.5 993.4 1215.0 990.4 1215.5 979.5 1216.0 990.9 1216.5 990.9 1217.0 988.3 1217.5 988.4 1218.0 994.8 1218.5 996.8 1219.0 1000.5 1219.5 997.2 1220.0 989.1 1220.5 993.3 1221.0 986.2 1221.5 995.4 1222.0 993.8 1222.5 989.5 1223.0 991.8 1223.5 991.1 1224.0 989.4 1224.5 998.1 1224.9 1005.9 1225.4 995.9 1225.9 996.9 1226.4 993.0 1226.9 990.7 1227.4 1001.9 1227.9 990.7 1228.4 994.0 1228.9 991.8 1229.4 994.9 1229.9 992.1 1230.4 994.9 1230.9 986.7 1231.4 991.8 1231.9 998.3 1232.4 987.7 1232.9 989.3 1233.4 998.3 1233.9 994.1 1234.4 997.0 1234.9 982.4 1235.4 992.9 1235.9 986.7 1236.4 986.1 1236.9 994.1 1237.4 997.5 1237.9 985.7 1238.4 987.4 1238.9 989.7 1239.4 991.7 1239.9 986.4 1240.4 1002.2 1240.9 994.8 1241.4 990.7 1241.9 989.9 1242.4 1002.5 1242.9 1002.1 1243.4 990.1 1243.9 993.7 1244.4 997.8 1244.9 987.0 1245.4 989.6 1245.9 998.2 1246.4 989.1 1246.9 990.3 1247.4 986.2 1247.9 988.8 1248.4 995.2 1248.9 988.5 1249.4 986.4 1249.9 989.3 1250.4 999.9 1250.9 992.9 1251.4 989.6 1251.9 992.8 1252.4 994.0 1252.9 992.6 1253.4 984.1 1253.9 993.4 1254.4 991.1 1254.9 995.8 1255.4 986.0 1255.9 996.7 1256.4 989.8 1256.8 984.4 1257.3 997.9 1257.8 989.7 1258.3 993.6 1258.8 991.2 1259.3 996.8 1259.8 996.8 1260.3 996.9 1260.8 995.1 1261.3 984.7 1261.8 984.4 1262.3 992.8 1262.8 987.6 1263.3 993.9 1263.8 992.6 1264.3 985.6 1264.8 987.2 1265.3 986.8 1265.8 987.9 1266.3 990.9 1266.8 994.8 1267.3 997.7 1267.8 987.4 1268.3 989.2 1268.8 998.6 1269.3 995.7 1269.8 992.7 1270.3 981.2 1270.8 987.2 1271.3 992.3 1271.8 989.0 1272.3 1000.4 1272.8 991.9 1273.3 992.8 1273.8 986.6 1274.3 986.8 1274.8 988.5 1275.3 988.6 1275.8 990.3 1276.3 993.0 1276.8 992.3 1277.3 995.7 1277.8 985.2 1278.3 992.1 1278.8 992.2 1279.3 998.1 1279.8 990.1 1280.3 992.4 1280.8 987.3 1281.3 992.7 1281.8 992.6 1282.3 987.9 1282.8 988.7 1283.3 990.4 1283.8 993.1 1284.3 985.3 1284.8 994.2 1285.3 988.7 1285.8 998.5 1286.3 996.5 1286.8 988.1 1287.3 986.9 1287.8 1000.5 1288.3 992.2 1288.7 991.8 1289.2 987.2 1289.7 988.3 1290.2 992.3 1290.7 991.2 1291.2 984.6 1291.7 993.6 1292.2 989.1 1292.7 983.2 1293.2 991.6 1293.7 986.1 1294.2 990.0 1294.7 983.6 1295.2 987.3 1295.7 978.0 1296.2 986.4 1296.7 977.5 1297.2 984.5 1297.7 971.9 1298.2 982.2 1298.7 985.1 1299.2 983.3 1299.7 985.7 1300.2 974.8 1300.7 985.7 1301.2 985.0 1301.7 971.6 1302.2 972.4 1302.7 972.4 1303.2 973.8 1303.7 973.6 1304.2 960.7 1304.7 973.1 1305.2 968.2 1305.7 963.7 1306.2 971.3 1306.7 964.4 1307.2 969.9 1307.7 966.2 1308.2 961.5 1308.7 967.2 1309.2 964.8 1309.7 958.4 1310.2 952.9 1310.7 957.2 1311.2 962.2 1311.7 958.3 1312.2 967.2 1312.7 960.7 1313.2 960.7 1313.7 962.1 1314.2 957.0 1314.7 961.1 1315.2 959.5 1315.7 952.9 1316.2 956.4 1316.7 968.6 1317.2 964.4 1317.7 966.9 1318.2 961.9 1318.7 966.9 1319.2 974.1 1319.7 972.1 1320.2 970.3 1320.6 980.4 1321.1 974.2 1321.6 973.8 1322.1 981.3 1322.6 969.3 1323.1 980.1 1323.6 973.4 1324.1 975.5 1324.6 976.5 1325.1 980.6 1325.6 980.9 1326.1 982.2 1326.6 982.1 1327.1 987.7 1327.6 989.2 1328.1 985.1 1328.6 985.4 1329.1 980.5 1329.6 977.4 1330.1 984.9 1330.6 982.4 1331.1 985.9 1331.6 973.9 1332.1 993.7 1332.6 975.9 1333.1 981.4 1333.6 985.4 1334.1 974.4 1334.6 977.7 1335.1 970.7 1335.6 972.8 1336.1 969.9 1336.6 978.3 1337.1 978.4 1337.6 974.9 1338.1 981.1 1338.6 980.8 1339.1 973.6 1339.6 971.7 1340.1 970.4 1340.6 968.5 1341.1 975.1 1341.6 969.2 1342.1 965.5 1342.6 964.7 1343.1 966.9 1343.6 961.5 1344.1 963.5 1344.6 960.8 1345.1 965.9 1345.6 964.0 1346.1 951.7 1346.6 956.4 1347.1 959.6 1347.6 954.0 1348.1 959.1 1348.6 956.8 1349.1 957.9 1349.6 955.1 1350.1 957.0 1350.6 958.4 1351.1 950.2 1351.6 953.3 1352.1 953.7 1352.5 966.7 1353.0 961.6 1353.5 963.1 1354.0 963.4 1354.5 961.6 1355.0 961.9 1355.5 970.2 1356.0 966.1 1356.5 976.0 1357.0 971.1 1357.5 971.9 1358.0 971.7 1358.5 973.5 1359.0 975.1 1359.5 982.7 1360.0 987.3 1360.5 972.8 1361.0 979.9 1361.5 982.8 1362.0 976.4 1362.5 978.4 1363.0 979.9 1363.5 971.9 1364.0 986.0 1364.5 983.5 1365.0 983.8 1365.5 985.1 1366.0 986.3 1366.5 995.8 1367.0 986.8 1367.5 990.1 1368.0 984.4 1368.5 988.6 1369.0 985.9 1369.5 986.9 1370.0 983.9 1370.5 984.5 1371.0 990.3 1371.5 991.8 1372.0 990.8 1372.5 985.9 1373.0 990.5 1373.5 978.0 1374.0 993.5 1374.5 989.3 1375.0 990.8 1375.5 994.9 1376.0 988.0 1376.5 994.2 1377.0 988.1 1377.5 992.6 1378.0 988.4 1378.5 991.7 1379.0 996.8 1379.5 987.6 1380.0 987.8 1380.5 989.1 1381.0 992.0 1381.5 1002.8 1382.0 988.2 1382.5 981.8 1383.0 988.0 1383.5 983.9 1384.0 988.5 1384.4 991.0 1384.9 986.8 1385.4 988.0 1385.9 982.8 1386.4 991.9 1386.9 987.8 1387.4 995.9 1387.9 995.8 1388.4 987.4 1388.9 989.6 1389.4 991.5 1389.9 994.6 1390.4 983.9 1390.9 991.0 1391.4 999.5 1391.9 990.9 1392.4 992.3 1392.9 991.4 1393.4 986.1 1393.9 995.6 1394.4 992.6 1394.9 992.1 1395.4 994.6 1395.9 994.9 1396.4 983.1 1396.9 993.6 1397.4 988.9 1397.9 992.2 1398.4 988.3 1398.9 987.7 1399.4 995.7 1399.9 991.5 1400.4 990.3 1400.9 990.2 1401.4 991.9 1401.9 991.4 1402.4 981.1 1402.9 987.7 1403.4 990.5 1403.9 994.8 1404.4 997.6 1404.9 987.4 1405.4 1000.1 1405.9 992.0 1406.4 993.7 1406.9 989.2 1407.4 988.9 1407.9 997.9 1408.4 990.6 1408.9 991.1 1409.4 996.7 1409.9 999.2 1410.4 985.0 1410.9 990.8 1411.4 991.5 1411.9 999.6 1412.4 1002.5 1412.9 991.4 1413.4 993.2 1413.9 995.4 1414.4 996.7 1414.9 990.2 1415.4 995.4 1415.8 988.5 1416.3 979.8 1416.8 985.5 1417.3 992.5 1417.8 995.0 1418.3 981.6 1418.8 983.6 1419.3 991.4 1419.8 976.6 1420.3 994.0 1420.8 996.1 1421.3 978.3 1421.8 994.9 1422.3 990.6 1422.8 997.7 1423.3 992.7 1423.8 990.4 1424.3 991.9 1424.8 995.5 1425.3 992.2 1425.8 991.5 1426.3 984.9 1426.8 993.4 1427.3 991.4 1427.8 999.3 1428.3 991.1 1428.8 990.7 1429.3 988.3 1429.8 994.2 1430.3 990.1 1430.8 987.8 1431.3 997.9 1431.8 998.7 1432.3 988.8 1432.8 986.2 1433.3 995.6 1433.8 986.9 1434.3 1002.9 1434.8 989.8 1435.3 994.6 1435.8 984.5 1436.3 990.0 1436.8 994.8 1437.3 991.9 1437.8 987.4 1438.3 1000.5 1438.8 992.8 1439.3 988.4 1439.8 986.6 1440.3 987.9 1440.8 994.9 1441.3 985.3 1441.8 988.7 1442.3 984.7 1442.8 993.7 1443.3 987.2 1443.8 991.4 1444.3 989.9 1444.8 984.5 1445.3 989.9 1445.8 990.6 1446.3 981.0 1446.8 988.8 1447.3 1001.0 1447.7 983.6 1448.2 987.2 1448.7 978.0 1449.2 985.4 1449.7 980.2 1450.2 985.6 1450.7 981.3 1451.2 975.7 1451.7 985.0 1452.2 978.4 1452.7 974.0 1453.2 977.9 1453.7 972.4 1454.2 977.4 1454.7 974.3 1455.2 971.8 1455.7 975.2 1456.2 965.4 1456.7 974.0 1457.2 959.5 1457.7 974.1 1458.2 966.3 1458.7 962.8 1459.2 959.1 1459.7 963.2 1460.2 958.5 1460.7 956.8 1461.2 960.5 1461.7 952.4 1462.2 951.7 1462.7 953.2 1463.2 954.6 1463.7 947.8 1464.2 948.0 1464.7 946.4 1465.2 948.5 1465.7 951.1 1466.2 939.7 1466.7 942.8 1467.2 942.9 1467.7 945.7 1468.2 949.9 1468.7 943.5 1469.2 945.0 1469.7 949.8 1470.2 940.1 1470.7 943.2 1471.2 945.7 1471.7 948.9 1472.2 951.3 1472.7 949.3 1473.2 960.9 1473.7 951.4 1474.2 955.1 1474.7 962.3 1475.2 962.3 1475.7 960.2 1476.2 963.3 1476.7 966.6 1477.2 964.2 1477.7 968.3 1478.2 962.5 1478.7 967.9 1479.2 961.2 1479.6 965.4 1480.1 965.1 1480.6 976.5 1481.1 969.5 1481.6 973.5 1482.1 968.5 1482.6 972.1 1483.1 972.1 1483.6 969.8 1484.1 977.6 1484.6 966.5 1485.1 976.8 1485.6 985.9 1486.1 970.4 1486.6 974.1 1487.1 966.9 1487.6 973.6 1488.1 965.9 1488.6 976.3 1489.1 971.2 1489.6 965.1 1490.1 967.5 1490.6 966.1 1491.1 972.0 1491.6 977.2 1492.1 971.7 1492.6 968.4 1493.1 970.2 1493.6 974.8 1494.1 963.7 1494.6 977.7 1495.1 977.3 1495.6 965.0 1496.1 981.9 1496.6 969.9 1497.1 976.8 1497.6 983.7 1498.1 971.7 1498.6 971.3 1499.1 975.2 1499.6 976.0 1500.1 980.8 1500.6 979.6 1501.1 980.3 1501.6 980.9 1502.1 982.7 1502.6 980.2 1503.1 985.9 1503.6 984.8 1504.1 980.7 1504.6 993.8 1505.1 980.3 1505.6 989.6 1506.1 983.2 1506.6 988.5 1507.1 989.5 1507.6 991.2 1508.1 994.0 1508.6 984.0 1509.1 1000.9 1509.6 990.0 1510.1 984.7 1510.6 982.4 1511.1 999.2 1511.5 996.2 1512.0 988.9 1512.5 992.5 1513.0 995.1 1513.5 989.8 1514.0 987.5 1514.5 989.3 1515.0 993.3 1515.5 989.8 1516.0 984.2 1516.5 993.2 1517.0 982.1 1517.5 986.5 1518.0 995.5 1518.5 991.1 1519.0 991.1 1519.5 990.6 1520.0 994.8 1520.5 989.9 1521.0 981.4 1521.5 991.3 1522.0 976.5 1522.5 981.0 1523.0 997.4 1523.5 995.0 1524.0 988.2 1524.5 990.0 1525.0 990.8 1525.5 994.9 1526.0 986.9 1526.5 986.4 1527.0 987.6 1527.5 991.1 1528.0 991.6 1528.5 988.7 1529.0 993.9 1529.5 985.9 1530.0 990.1 1530.5 987.4 1531.0 986.0 1531.5 996.0 1532.0 989.1 1532.5 986.0 1533.0 990.7 1533.5 986.0 1534.0 993.2 1534.5 994.4 1535.0 995.2 1535.5 985.8 1536.0 989.9 1536.5 998.9 1537.0 989.6 1537.5 996.3 1538.0 997.4 1538.5 984.4 1539.0 996.0 1539.5 994.0 1540.0 994.5 1540.5 998.2 1541.0 992.7 1541.5 990.9 1542.0 993.3 1542.5 989.0 1543.0 992.8 1543.4 981.5 1543.9 998.4 1544.4 988.2 1544.9 993.0 1545.4 992.0 1545.9 991.0 1546.4 991.1 1546.9 990.9 1547.4 983.2 1547.9 988.1 1548.4 995.9 1548.9 986.0 1549.4 985.8 1549.9 1000.1 1550.4 996.0 1550.9 997.6 1551.4 990.5 1551.9 991.7 1552.4 994.0 1552.9 993.1 1553.4 990.1 1553.9 983.9 1554.4 987.2 1554.9 983.7 1555.4 997.6 1555.9 988.7 1556.4 989.7 1556.9 991.7 1557.4 990.5 1557.9 992.8 1558.4 987.6 1558.9 983.6 1559.4 998.3 1559.9 987.2 1560.4 988.3 1560.9 986.8 1561.4 987.9 1561.9 990.5 1562.4 993.7 1562.9 985.6 1563.4 991.6 1563.9 987.3 1564.4 995.7 1564.9 984.8 1565.4 990.7 1565.9 993.5 1566.4 984.2 1566.9 990.8 1567.4 990.9 1567.9 986.7 1568.4 989.3 1568.9 994.7 1569.4 991.3 1569.9 988.4 1570.4 989.3 1570.9 992.2 1571.4 995.9 1571.9 993.7 1572.4 993.4 1572.9 997.2 1573.4 983.3 1573.9 983.8 1574.4 980.0 1574.9 993.9 1575.3 980.0 1575.8 989.9 1576.3 993.5 1576.8 983.9 1577.3 987.2 1577.8 988.9 1578.3 993.3 1578.8 983.3 1579.3 991.5 1579.8 993.2 1580.3 990.7 1580.8 990.7 1581.3 995.6 1581.8 991.0 1582.3 989.9 1582.8 988.6 1583.3 992.9 1583.8 988.8 1584.3 992.9 1584.8 990.5 1585.3 995.0 1585.8 986.5 1586.3 990.4 1586.8 991.6 1587.3 991.9 1587.8 995.0 1588.3 991.8 1588.8 994.0 1589.3 998.7 1589.8 993.8 1590.3 985.4 1590.8 983.7" stroke="#4f4f4f" stroke-width="7"/><path d="M95.5 892.4 96.0 882.5 96.5 888.8 97.0 884.4 97.5 898.5 98.0 897.5 98.5 875.4 99.0 888.7 99.5 883.3 100.0 873.7 100.5 892.3 101.0 884.8 101.5 890.4 102.0 909.8 102.5 898.8 103.0 896.7 103.5 882.3 104.0 875.0 104.5 898.1 105.0 883.3 105.5 886.7 106.0 882.7 106.5 887.2 107.0 909.2 107.5 883.3 108.0 883.6 108.5 888.2 109.0 889.0 109.5 874.9 110.0 869.4 110.5 880.8 111.0 884.3 111.4 878.8 111.9 876.7 112.4 877.3 112.9 882.5 113.4 885.1 113.9 870.7 114.4 881.0 114.9 889.6 115.4 885.0 115.9 873.3 116.4 882.8 116.9 886.0 117.4 893.5 117.9 870.7 118.4 892.7 118.9 881.8 119.4 888.1 119.9 892.7 120.4 877.9 120.9 878.5 121.4 885.1 121.9 893.1 122.4 881.0 122.9 872.8 123.4 879.6 123.9 889.8 124.4 897.2 124.9 881.3 125.4 883.1 125.9 884.4 126.4 884.9 126.9 877.2 127.4 881.9 127.9 888.2 128.4 887.1 128.9 886.3 129.4 876.6 129.9 880.9 130.4 879.4 130.9 896.1 131.4 899.9 131.9 889.3 132.4 901.2 132.9 883.3 133.4 883.4 133.9 873.8 134.4 888.3 134.9 881.8 135.4 887.0 135.9 890.7 136.4 883.8 136.9 875.5 137.4 885.7 137.9 885.4 138.4 886.4 138.9 892.5 139.4 884.1 139.9 883.6 140.4 902.4 140.9 896.2 141.4 885.2 141.9 877.3 142.4 881.9 142.9 889.7 143.3 894.0 143.8 908.8 144.3 883.8 144.8 887.5 145.3 882.8 145.8 886.9 146.3 882.5 146.8 876.0 147.3 895.7 147.8 887.3 148.3 898.1 148.8 881.3 149.3 888.5 149.8 892.2 150.3 868.4 150.8 873.6 151.3 893.0 151.8 886.9 152.3 868.7 152.8 879.0 153.3 876.0 153.8 881.3 154.3 900.3 154.8 880.4 155.3 904.8 155.8 883.3 156.3 878.8 156.8 900.3 157.3 894.5 157.8 898.5 158.3 903.8 158.8 895.4 159.3 896.9 159.8 869.2 160.3 877.6 160.8 889.4 161.3 887.1 161.8 891.9 162.3 880.6 162.8 895.5 163.3 903.9 163.8 890.4 164.3 892.7 164.8 889.5 165.3 893.4 165.8 886.6 166.3 879.7 166.8 886.2 167.3 885.2 167.8 869.7 168.3 886.2 168.8 884.1 169.3 885.6 169.8 878.4 170.3 887.9 170.8 889.1 171.3 876.4 171.8 885.9 172.3 890.0 172.8 889.4 173.3 873.6 173.8 872.4 174.3 882.0 174.8 871.7 175.2 904.7 175.7 873.3 176.2 873.2 176.7 886.4 177.2 875.6 177.7 857.6 178.2 877.9 178.7 869.7 179.2 873.6 179.7 863.0 180.2 869.2 180.7 875.7 181.2 876.1 181.7 865.9 182.2 869.1 182.7 867.3 183.2 876.1 183.7 872.8 184.2 861.9 184.7 879.0 185.2 865.8 185.7 875.3 186.2 862.4 186.7 873.1 187.2 868.4 187.7 869.2 188.2 872.6 188.7 871.1 189.2 867.6 189.7 866.6 190.2 852.2 190.7 862.4 191.2 841.3 191.7 839.7 192.2 856.5 192.7 856.0 193.2 870.7 193.7 861.5 194.2 864.1 194.7 849.1 195.2 854.5 195.7 859.4 196.2 851.5 196.7 847.8 197.2 843.3 197.7 831.4 198.2 829.2 198.7 821.6 199.2 836.1 199.7 826.9 200.2 820.0 200.7 826.4 201.2 814.2 201.7 825.7 202.2 829.9 202.7 812.1 203.2 797.0 203.7 784.8 204.2 812.8 204.7 792.9 205.2 772.0 205.7 787.2 206.2 755.2 206.7 760.0 207.1 754.8 207.6 746.1 208.1 730.8 208.6 755.5 209.1 720.3 209.6 718.2 210.1 704.9 210.6 678.9 211.1 677.5 211.6 672.8 212.1 667.1 212.6 642.0 213.1 634.8 213.6 613.7 214.1 607.2 214.6 562.5 215.1 574.8 215.6 546.0 216.1 528.5 216.6 488.6 217.1 486.2 217.6 482.2 218.1 478.1 218.6 429.1 219.1 408.6 219.6 398.4 220.1 375.4 220.6 346.1 221.1 329.2 221.6 306.7 222.1 296.3 222.6 278.8 223.1 269.7 223.6 244.7 224.1 226.6 224.6 207.5 225.1 202.3 225.6 173.3 226.1 194.2 226.6 169.8 227.1 176.0 227.6 152.9 228.1 170.1 228.6 166.5 229.1 165.5 229.6 167.7 230.1 174.5 230.6 210.6 231.1 217.7 231.6 221.6 232.1 238.2 232.6 246.6 233.1 254.3 233.6 273.9 234.1 305.0 234.6 329.8 235.1 341.0 235.6 380.7 236.1 399.2 236.6 416.9 237.1 419.6 237.6 454.8 238.1 476.8 238.6 484.8 239.0 495.3 239.5 552.7 240.0 558.4 240.5 566.2 241.0 601.6 241.5 612.9 242.0 621.9 242.5 634.3 243.0 653.4 243.5 673.1 244.0 672.4 244.5 681.4 245.0 700.3 245.5 678.7 246.0 716.3 246.5 721.1 247.0 733.8 247.5 740.7 248.0 753.6 248.5 759.0 249.0 765.7 249.5 770.5 250.0 782.4 250.5 779.2 251.0 798.9 251.5 778.9 252.0 801.7 252.5 808.8 253.0 796.8 253.5 808.9 254.0 829.4 254.5 819.3 255.0 815.6 255.5 798.9 256.0 833.5 256.5 834.1 257.0 841.6 257.5 857.8 258.0 840.7 258.5 844.3 259.0 838.6 259.5 846.5 260.0 848.7 260.5 857.9 261.0 857.6 261.5 846.6 262.0 850.8 262.5 869.7 263.0 848.8 263.5 866.2 264.0 875.6 264.5 867.3 265.0 864.5 265.5 875.9 266.0 867.1 266.5 864.3 267.0 863.1 267.5 876.6 268.0 872.8 268.5 881.3 269.0 863.9 269.5 864.4 270.0 863.6 270.5 870.6 270.9 861.6 271.4 877.1 271.9 871.7 272.4 859.2 272.9 840.5 273.4 851.3 273.9 882.4 274.4 868.1 274.9 870.1 275.4 864.7 275.9 872.5 276.4 850.5 276.9 849.8 277.4 853.3 277.9 869.6 278.4 875.8 278.9 873.8 279.4 868.3 279.9 857.6 280.4 877.7 280.9 867.8 281.4 870.7 281.9 870.6 282.4 867.3 282.9 865.4 283.4 867.2 283.9 861.2 284.4 876.4 284.9 873.0 285.4 885.0 285.9 858.7 286.4 887.7 286.9 876.5 287.4 876.3 287.9 870.8 288.4 871.3 288.9 865.5 289.4 888.8 289.9 878.8 290.4 888.2 290.9 889.8 291.4 877.6 291.9 880.6 292.4 880.1 292.9 893.5 293.4 885.4 293.9 886.2 294.4 891.8 294.9 884.6 295.4 905.1 295.9 877.1 296.4 898.2 296.9 899.9 297.4 876.0 297.9 895.3 298.4 890.0 298.9 895.8 299.4 876.4 299.9 890.3 300.4 878.9 300.9 885.3 301.4 902.1 301.9 887.6 302.3 867.6 302.8 875.9 303.3 878.6 303.8 899.2 304.3 883.1 304.8 875.1 305.3 900.6 305.8 892.6 306.3 893.6 306.8 882.9 307.3 904.2 307.8 889.6 308.3 872.1 308.8 880.2 309.3 883.1 309.8 889.7 310.3 898.6 310.8 884.5 311.3 885.8 311.8 912.6 312.3 892.5 312.8 886.8 313.3 892.2 313.8 880.1 314.3 897.2 314.8 901.4 315.3 886.8 315.8 901.9 316.3 889.7 316.8 895.3 317.3 885.6 317.8 885.1 318.3 878.5 318.8 894.9 319.3 890.2 319.8 890.6 320.3 882.4 320.8 882.1 321.3 887.2 321.8 897.8 322.3 896.2 322.8 887.0 323.3 896.3 323.8 910.3 324.3 894.7 324.8 912.9 325.3 897.9 325.8 906.5 326.3 888.9 326.8 905.1 327.3 882.8 327.8 896.4 328.3 891.0 328.8 875.3 329.3 881.3 329.8 905.1 330.3 899.1 330.8 906.8 331.3 896.4 331.8 867.0 332.3 897.0 332.8 889.3 333.3 890.0 333.8 890.5 334.2 887.6 334.7 885.8 335.2 906.8 335.7 899.3 336.2 888.9 336.7 891.1 337.2 904.4 337.7 898.9 338.2 897.2 338.7 883.7 339.2 891.3 339.7 884.7 340.2 877.3 340.7 904.0 341.2 892.5 341.7 891.7 342.2 886.6 342.7 902.9 343.2 915.7 343.7 901.4 344.2 904.7 344.7 884.1 345.2 897.7 345.7 898.1 346.2 910.3 346.7 896.3 347.2 887.3 347.7 895.6 348.2 892.2 348.7 910.1 349.2 902.7 349.7 899.7 350.2 898.2 350.7 904.6 351.2 891.9 351.7 887.9 352.2 878.8 352.7 908.0 353.2 901.6 353.7 902.9 354.2 897.3 354.7 912.7 355.2 887.7 355.7 908.5 356.2 889.1 356.7 892.8 357.2 885.6 357.7 898.1 358.2 894.5 358.7 901.4 359.2 891.8 359.7 884.1 360.2 902.8 360.7 909.7 361.2 904.5 361.7 897.0 362.2 901.4 362.7 881.5 363.2 894.5 363.7 908.7 364.2 902.1 364.7 889.7 365.2 906.0 365.7 896.6 366.1 904.9 366.6 884.6 367.1 893.0 367.6 901.2 368.1 901.0 368.6 903.4 369.1 898.1 369.6 896.4 370.1 902.8 370.6 906.6 371.1 884.0 371.6 895.4 372.1 896.6 372.6 900.1 373.1 908.2 373.6 886.1 374.1 903.8 374.6 882.3 375.1 891.6 375.6 893.9 376.1 896.3 376.6 893.1 377.1 894.1 377.6 895.8 378.1 896.5 378.6 881.7 379.1 885.9 379.6 895.1 380.1 904.3 380.6 908.8 381.1 926.4 381.6 900.4 382.1 892.0 382.6 901.2 383.1 906.0 383.6 900.9 384.1 889.6 384.6 898.7 385.1 899.3 385.6 886.5 386.1 888.4 386.6 911.2 387.1 878.8 387.6 901.6 388.1 897.5 388.6 913.2 389.1 905.9 389.6 892.0 390.1 912.1 390.6 894.9 391.1 919.1 391.6 916.0 392.1 899.6 392.6 907.7 393.1 902.2 393.6 892.0 394.1 910.6 394.6 904.6 395.1 908.7 395.6 910.8 396.1 914.1 396.6 910.6 397.1 900.1 397.6 901.8 398.0 904.9 398.5 899.9 399.0 898.9 399.5 918.7 400.0 905.8 400.5 919.1 401.0 894.0 401.5 901.0 402.0 897.3 402.5 897.8 403.0 898.8 403.5 900.4 404.0 897.5 404.5 918.6 405.0 908.0 405.5 894.7 406.0 896.6 406.5 908.8 407.0 907.0 407.5 896.2 408.0 910.6 408.5 888.5 409.0 897.6 409.5 918.3 410.0 877.6 410.5 900.2 411.0 911.5 411.5 900.9 412.0 894.9 412.5 894.0 413.0 882.8 413.5 890.0 414.0 903.1 414.5 897.2 415.0 902.4 415.5 901.2 416.0 905.3 416.5 887.1 417.0 899.8 417.5 899.6 418.0 899.9 418.5 894.5 419.0 882.3 419.5 908.9 420.0 910.6 420.5 925.3 421.0 909.9 421.5 918.5 422.0 908.7 422.5 899.6 423.0 907.9 423.5 892.3 424.0 905.6 424.5 902.3 425.0 893.4 425.5 914.9 426.0 914.0 426.5 907.8 427.0 911.2 427.5 919.1 428.0 902.4 428.5 890.9 429.0 894.7 429.5 910.3 429.9 905.9 430.4 889.8 430.9 916.3 431.4 905.9 431.9 919.1 432.4 914.6 432.9 899.9 433.4 905.0 433.9 897.2 434.4 896.3 434.9 901.4 435.4 909.0 435.9 917.2 436.4 895.9 436.9 911.0 437.4 904.8 437.9 902.4 438.4 915.1 438.9 901.2 439.4 917.6 439.9 901.5 440.4 896.0 440.9 912.0 441.4 891.0 441.9 893.6 442.4 903.1 442.9 904.9 443.4 902.4 443.9 886.3 444.4 892.4 444.9 909.9 445.4 910.2 445.9 895.6 446.4 907.6 446.9 907.1 447.4 914.8 447.9 898.3 448.4 919.0 448.9 902.4 449.4 918.9 449.9 914.0 450.4 895.7 450.9 902.3 451.4 907.9 451.9 914.8 452.4 892.1 452.9 900.4 453.4 911.0 453.9 909.6 454.4 895.1 454.9 896.6 455.4 909.1 455.9 895.3 456.4 907.1 456.9 913.6 457.4 905.0 457.9 879.5 458.4 915.9 458.9 915.6 459.4 918.1 459.9 912.8 460.4 888.7 460.9 918.0 461.4 907.8 461.8 913.4 462.3 902.9 462.8 902.1 463.3 902.1 463.8 919.4 464.3 906.8 464.8 902.2 465.3 892.0 465.8 908.5 466.3 904.1 466.8 905.4 467.3 913.2 467.8 910.6 468.3 903.7 468.8 905.6 469.3 904.4 469.8 910.2 470.3 909.9 470.8 904.6 471.3 895.0 471.8 911.0 472.3 911.4 472.8 892.7 473.3 906.3 473.8 898.9 474.3 881.7 474.8 901.8 475.3 911.1 475.8 895.1 476.3 895.1 476.8 911.3 477.3 891.1 477.8 892.4 478.3 898.1 478.8 906.8 479.3 906.7 479.8 895.6 480.3 897.4 480.8 901.0 481.3 896.2 481.8 891.5 482.3 889.1 482.8 905.9 483.3 896.8 483.8 925.7 484.3 904.2 484.8 890.9 485.3 897.7 485.8 900.6 486.3 900.8 486.8 900.9 487.3 900.6 487.8 894.6 488.3 901.7 488.8 915.8 489.3 890.5 489.8 890.6 490.3 900.5 490.8 905.0 491.3 900.5 491.8 903.7 492.3 891.2 492.8 888.9 493.2 896.6 493.7 896.2 494.2 905.0 494.7 903.2 495.2 870.5 495.7 894.4 496.2 879.9 496.7 865.5 497.2 888.3 497.7 882.2 498.2 879.6 498.7 869.8 499.2 871.4 499.7 878.0 500.2 864.9 500.7 877.0 501.2 878.0 501.7 874.4 502.2 877.5 502.7 872.9 503.2 861.3 503.7 861.4 504.2 871.2 504.7 877.8 505.2 868.8 505.7 861.3 506.2 866.4 506.7 846.3 507.2 852.7 507.7 857.2 508.2 858.8 508.7 855.0 509.2 854.2 509.7 844.2 510.2 848.7 510.7 855.2 511.2 834.1 511.7 838.9 512.2 845.7 512.7 861.9 513.2 853.1 513.7 860.4 514.2 857.2 514.7 839.2 515.2 841.8 515.7 830.4 516.2 851.7 516.7 846.6 517.2 844.5 517.7 844.4 518.2 841.8 518.7 838.7 519.2 838.7 519.7 846.9 520.2 827.4 520.7 824.4 521.2 833.8 521.7 844.2 522.2 834.9 522.7 830.1 523.2 839.4 523.7 831.9 524.2 812.2 524.7 819.9 525.1 808.9 525.6 825.7 526.1 822.6 526.6 830.0 527.1 844.7 527.6 817.8 528.1 822.1 528.6 816.9 529.1 792.2 529.6 809.8 530.1 808.2 530.6 815.5 531.1 802.6 531.6 795.8 532.1 811.0 532.6 802.0 533.1 791.2 533.6 789.4 534.1 790.5 534.6 797.8 535.1 800.0 535.6 770.7 536.1 790.6 536.6 776.6 537.1 776.0 537.6 778.4 538.1 756.8 538.6 770.9 539.1 747.5 539.6 752.8 540.1 746.8 540.6 768.7 541.1 766.6 541.6 756.9 542.1 753.7 542.6 743.3 543.1 764.7 543.6 761.9 544.1 758.0 544.6 749.6 545.1 748.9 545.6 753.4 546.1 769.0 546.6 750.0 547.1 762.8 547.6 780.2 548.1 776.2 548.6 787.5 549.1 778.3 549.6 781.8 550.1 794.2 550.6 790.6 551.1 791.0 551.6 786.1 552.1 780.0 552.6 811.0 553.1 795.9 553.6 795.5 554.1 813.3 554.6 799.2 555.1 797.2 555.6 806.7 556.1 813.6 556.6 818.8 557.0 822.9 557.5 829.1 558.0 820.6 558.5 826.8 559.0 824.0 559.5 820.7 560.0 832.1 560.5 833.2 561.0 849.0 561.5 838.8 562.0 828.2 562.5 842.1 563.0 835.8 563.5 854.7 564.0 825.6 564.5 837.2 565.0 839.0 565.5 848.2 566.0 847.7 566.5 835.8 567.0 835.1 567.5 856.2 568.0 870.1 568.5 871.8 569.0 856.3 569.5 866.2 570.0 855.5 570.5 851.8 571.0 878.6 571.5 875.1 572.0 867.3 572.5 868.5 573.0 882.2 573.5 878.1 574.0 873.4 574.5 880.6 575.0 879.2 575.5 876.7 576.0 875.1 576.5 891.6 577.0 879.7 577.5 874.1 578.0 903.1 578.5 898.9 579.0 893.0 579.5 888.4 580.0 891.7 580.5 877.1 581.0 891.3 581.5 894.7 582.0 891.0 582.5 897.6 583.0 886.9 583.5 896.4 584.0 880.6 584.5 895.5 585.0 890.5 585.5 884.3 586.0 893.5 586.5 897.8 587.0 892.4 587.5 907.0 588.0 892.2 588.5 907.8 588.9 906.2 589.4 894.1 589.9 913.4 590.4 887.6 590.9 905.5 591.4 901.4 591.9 908.2 592.4 886.7 592.9 890.4 593.4 893.9 593.9 902.0 594.4 902.8 594.9 902.4 595.4 899.9 595.9 895.9 596.4 889.9 596.9 898.8 597.4 907.8 597.9 912.5 598.4 898.5 598.9 913.3 599.4 890.8 599.9 910.7 600.4 893.5 600.9 906.0 601.4 894.9 601.9 894.9 602.4 898.9 602.9 917.3 603.4 898.0 603.9 910.0 604.4 905.8 604.9 907.2 605.4 907.4 605.9 910.4 606.4 893.4 606.9 905.1 607.4 908.0 607.9 899.4 608.4 908.2 608.9 895.4 609.4 911.7 609.9 898.5 610.4 902.5 610.9 912.5 611.4 915.2 611.9 899.9 612.4 899.3 612.9 914.5 613.4 878.6 613.9 917.8 614.4 917.4 614.9 895.5 615.4 916.5 615.9 908.9 616.4 909.8 616.9 884.0 617.4 901.0 617.9 903.8 618.4 901.8 618.9 902.0 619.4 903.0 619.9 879.1 620.4 903.8 620.8 899.3 621.3 904.9 621.8 901.2 622.3 905.8 622.8 908.4 623.3 922.3 623.8 898.2 624.3 921.5 624.8 903.6 625.3 897.6 625.8 892.4 626.3 913.9 626.8 891.8 627.3 914.4 627.8 909.2 628.3 900.7 628.8 899.8 629.3 910.5 629.8 907.4 630.3 912.9 630.8 906.0 631.3 901.3 631.8 911.0 632.3 894.9 632.8 913.9 633.3 906.5 633.8 895.6 634.3 896.6 634.8 903.0 635.3 889.1 635.8 919.0 636.3 915.1 636.8 895.9 637.3 905.0 637.8 921.9 638.3 909.8 638.8 896.6 639.3 885.9 639.8 890.8 640.3 917.2 640.8 909.0 641.3 893.8 641.8 912.7 642.3 902.7 642.8 899.8 643.3 901.2 643.8 901.7 644.3 921.7 644.8 897.2 645.3 902.3 645.8 918.6 646.3 920.2 646.8 896.9 647.3 925.4 647.8 916.4 648.3 892.1 648.8 923.0 649.3 892.2 649.8 912.5 650.3 895.2 650.8 889.3 651.3 914.1 651.8 910.0 652.3 905.3 652.7 907.9 653.2 905.1 653.7 903.6 654.2 896.0 654.7 911.5 655.2 906.3 655.7 903.7 656.2 900.7 656.7 903.4 657.2 891.7 657.7 903.1 658.2 896.8 658.7 918.1 659.2 897.1 659.7 901.8 660.2 906.2 660.7 913.5 661.2 910.3 661.7 906.2 662.2 926.3 662.7 905.8 663.2 909.0 663.7 931.7 664.2 897.6 664.7 915.1 665.2 910.2 665.7 893.6 666.2 900.1 666.7 913.8 667.2 892.3 667.7 904.2 668.2 914.7 668.7 903.7 669.2 908.5 669.7 899.6 670.2 900.0 670.7 900.1 671.2 902.6 671.7 911.9 672.2 906.6 672.7 924.5 673.2 911.1 673.7 908.5 674.2 927.1 674.7 904.8 675.2 898.3 675.7 907.3 676.2 895.6 676.7 910.7 677.2 918.7 677.7 911.9 678.2 902.0 678.7 904.5 679.2 910.4 679.7 916.9 680.2 902.0 680.7 901.9 681.2 916.1 681.7 907.9 682.2 909.0 682.7 910.4 683.2 898.5 683.7 904.4 684.1 915.8 684.6 904.3 685.1 903.9 685.6 908.6 686.1 909.4 686.6 929.7 687.1 898.1 687.6 907.1 688.1 924.8 688.6 906.1 689.1 909.3 689.6 892.0 690.1 914.9 690.6 913.9 691.1 913.5 691.6 904.0 692.1 909.2 692.6 905.1 693.1 913.7 693.6 905.6 694.1 913.1 694.6 893.1 695.1 902.6 695.6 878.8 696.1 904.3 696.6 912.9 697.1 903.2 697.6 927.8 698.1 896.2 698.6 902.4 699.1 896.9 699.6 900.8 700.1 901.1 700.6 891.7 701.1 896.3 701.6 924.7 702.1 903.1 702.6 914.1 703.1 893.5 703.6 904.4 704.1 910.5 704.6 903.8 705.1 900.6 705.6 903.7 706.1 905.7 706.6 913.3 707.1 916.8 707.6 892.9 708.1 886.0 708.6 903.5 709.1 905.4 709.6 912.1 710.1 915.4 710.6 899.0 711.1 924.7 711.6 907.7 712.1 888.6 712.6 914.3 713.1 907.8 713.6 907.9 714.1 890.2 714.6 902.3 715.1 906.7 715.6 903.7 716.0 911.6 716.5 917.0 717.0 919.5 717.5 916.9 718.0 903.7 718.5 921.3 719.0 907.5 719.5 913.1 720.0 902.7 720.5 891.8 721.0 883.5 721.5 906.7 722.0 898.5 722.5 904.8 723.0 913.3 723.5 890.4 724.0 888.2 724.5 907.3 725.0 908.3 725.5 902.2 726.0 899.8 726.5 889.7 727.0 903.9 727.5 897.7 728.0 908.8 728.5 913.6 729.0 899.4 729.5 908.5 730.0 906.3 730.5 911.1 731.0 919.0 731.5 910.7 732.0 911.1 732.5 911.9 733.0 900.3 733.5 904.3 734.0 907.6 734.5 915.9 735.0 916.4 735.5 925.6 736.0 893.8 736.5 903.7 737.0 887.7 737.5 898.9 738.0 888.4 738.5 914.9 739.0 910.9 739.5 893.6 740.0 906.8 740.5 910.6 741.0 920.0 741.5 911.3 742.0 904.6 742.5 902.5 743.0 909.2 743.5 906.0 744.0 898.6 744.5 891.5 745.0 912.9 745.5 896.0 746.0 900.1 746.5 910.1 747.0 901.9 747.5 913.0 747.9 891.6 748.4 909.3 748.9 889.4 749.4 887.6 749.9 891.8 750.4 902.6 750.9 895.0 751.4 888.1 751.9 912.3 752.4 891.7 752.9 899.5 753.4 902.8 753.9 895.7 754.4 903.4 754.9 905.6 755.4 898.5 755.9 909.0 756.4 893.3 756.9 888.6 757.4 900.2 757.9 888.8 758.4 901.2 758.9 896.3 759.4 892.5 759.9 902.0 760.4 901.1 760.9 867.6 761.4 892.1 761.9 896.0 762.4 898.7 762.9 888.4 763.4 882.1 763.9 893.5 764.4 898.1 764.9 871.6 765.4 876.1 765.9 884.0 766.4 864.2 766.9 882.2 767.4 894.7 767.9 875.9 768.4 886.2 768.9 875.4 769.4 886.6 769.9 887.6 770.4 892.5 770.9 879.5 771.4 887.3 771.9 879.5 772.4 869.6 772.9 886.4 773.4 864.9 773.9 870.2 774.4 889.7 774.9 872.6 775.4 854.3 775.9 862.5 776.4 851.9 776.9 853.1 777.4 837.3 777.9 850.6 778.4 830.7 778.9 845.6 779.4 842.1 779.8 843.0 780.3 852.2 780.8 811.4 781.3 811.6 781.8 809.2 782.3 808.8 782.8 817.8 783.3 801.5 783.8 794.2 784.3 784.0 784.8 783.6 785.3 780.2 785.8 778.0 786.3 760.1 786.8 767.6 787.3 768.5 787.8 761.2 788.3 740.9 788.8 755.6 789.3 750.7 789.8 741.4 790.3 722.7 790.8 716.5 791.3 727.3 791.8 714.1 792.3 708.5 792.8 727.5 793.3 726.0 793.8 722.4 794.3 728.2 794.8 724.3 795.3 705.3 795.8 728.3 796.3 720.2 796.8 725.4 797.3 738.7 797.8 731.1 798.3 745.4 798.8 734.9 799.3 734.9 799.8 736.4 800.3 746.5 800.8 736.8 801.3 757.3 801.8 762.0 802.3 763.3 802.8 752.5 803.3 758.6 803.8 791.0 804.3 780.5 804.8 807.7 805.3 793.0 805.8 808.1 806.3 795.8 806.8 808.1 807.3 816.5 807.8 828.5 808.3 843.1 808.8 840.3 809.3 821.2 809.8 838.7 810.3 840.5 810.8 839.4 811.3 854.2 811.7 866.6 812.2 850.1 812.7 867.7 813.2 873.0 813.7 852.0 814.2 881.3 814.7 882.6 815.2 871.4 815.7 886.8 816.2 874.8 816.7 885.1 817.2 881.9 817.7 869.1 818.2 881.2 818.7 878.5 819.2 876.7 819.7 871.7 820.2 876.4 820.7 873.2 821.2 896.7 821.7 868.3 822.2 888.5 822.7 882.9 823.2 877.6 823.7 897.2 824.2 883.4 824.7 903.2 825.2 890.6 825.7 896.1 826.2 892.3 826.7 900.3 827.2 903.5 827.7 890.8 828.2 895.5 828.7 912.7 829.2 891.0 829.7 914.0 830.2 893.5 830.7 892.3 831.2 881.9 831.7 890.2 832.2 882.0 832.7 893.4 833.2 905.7 833.7 898.8 834.2 893.9 834.7 890.1 835.2 893.6 835.7 886.5 836.2 888.4 836.7 919.2 837.2 903.2 837.7 892.4 838.2 907.6 838.7 915.7 839.2 895.5 839.7 900.7 840.2 889.9 840.7 886.8 841.2 915.2 841.7 934.8 842.2 895.3 842.7 887.0 843.1 916.0 843.6 912.7 844.1 907.3 844.6 916.8 845.1 899.7 845.6 905.6 846.1 910.6 846.6 900.2 847.1 907.8 847.6 901.0 848.1 907.7 848.6 904.9 849.1 884.7 849.6 904.4 850.1 890.0 850.6 895.5 851.1 887.9 851.6 911.5 852.1 900.6 852.6 900.1 853.1 915.7 853.6 910.6 854.1 901.9 854.6 884.2 855.1 910.2 855.6 901.5 856.1 900.6 856.6 911.0 857.1 898.1 857.6 903.3 858.1 912.6 858.6 909.6 859.1 898.3 859.6 918.0 860.1 915.1 860.6 922.2 861.1 903.7 861.6 906.3 862.1 914.3 862.6 908.5 863.1 905.6 863.6 903.3 864.1 901.4 864.6 898.1 865.1 898.2 865.6 908.2 866.1 901.4 866.6 890.9 867.1 904.8 867.6 920.1 868.1 917.2 868.6 885.2 869.1 896.3 869.6 911.7 870.1 905.1 870.6 905.0 871.1 903.1 871.6 904.8 872.1 894.6 872.6 915.5 873.1 894.3 873.6 902.9 874.1 918.8 874.6 914.5 875.0 904.1 875.5 904.1 876.0 898.5 876.5 899.4 877.0 901.8 877.5 916.7 878.0 899.9 878.5 909.4 879.0 908.1 879.5 907.8 880.0 901.3 880.5 910.8 881.0 905.4 881.5 904.8 882.0 899.3 882.5 883.4 883.0 910.6 883.5 910.8 884.0 898.9 884.5 901.9 885.0 906.2 885.5 894.3 886.0 910.1 886.5 910.1 887.0 911.3 887.5 911.9 888.0 885.2 888.5 908.0 889.0 898.8 889.5 913.4 890.0 912.8 890.5 910.4 891.0 901.9 891.5 929.0 892.0 901.9 892.5 892.5 893.0 911.4 893.5 888.4 894.0 920.1 894.5 911.4 895.0 914.3 895.5 911.5 896.0 905.3 896.5 888.9 897.0 895.5 897.5 906.3 898.0 898.9 898.5 904.1 899.0 894.0 899.5 892.8 900.0 902.8 900.5 906.8 901.0 899.6 901.5 890.1 902.0 883.4 902.5 917.8 903.0 887.7 903.5 889.9 904.0 890.9 904.5 905.9 905.0 890.0 905.5 901.9 906.0 899.1 906.5 885.2 906.9 897.0 907.4 883.5 907.9 893.0 908.4 901.0 908.9 891.3 909.4 884.4 909.9 888.5 910.4 890.1 910.9 894.3 911.4 868.9 911.9 872.4 912.4 893.7 912.9 887.2 913.4 887.6 913.9 888.6 914.4 884.2 914.9 880.5 915.4 884.8 915.9 889.1 916.4 884.9 916.9 880.8 917.4 869.6 917.9 880.4 918.4 866.0 918.9 869.2 919.4 875.5 919.9 873.7 920.4 881.4 920.9 877.7 921.4 872.4 921.9 863.0 922.4 864.0 922.9 860.0 923.4 876.5 923.9 862.5 924.4 849.9 924.9 845.8 925.4 863.1 925.9 840.9 926.4 850.0 926.9 845.7 927.4 851.4 927.9 830.5 928.4 840.3 928.9 835.1 929.4 837.8 929.9 840.2 930.4 825.4 930.9 819.4 931.4 826.8 931.9 802.4 932.4 814.4 932.9 800.5 933.4 795.6 933.9 789.3 934.4 785.8 934.9 806.5 935.4 804.4 935.9 794.8 936.4 801.2 936.9 789.7 937.4 782.9 937.9 775.6 938.4 791.4 938.8 790.5 939.3 793.5 939.8 773.2 940.3 777.4 940.8 766.9 941.3 790.0 941.8 785.8 942.3 784.0 942.8 779.4 943.3 778.6 943.8 777.2 944.3 791.7 944.8 776.4 945.3 791.7 945.8 787.2 946.3 776.3 946.8 773.4 947.3 780.9 947.8 789.2 948.3 778.7 948.8 798.0 949.3 804.0 949.8 799.6 950.3 779.7 950.8 774.6 951.3 805.7 951.8 812.3 952.3 795.3 952.8 804.5 953.3 797.5 953.8 794.3 954.3 809.8 954.8 795.3 955.3 808.3 955.8 816.2 956.3 798.4 956.8 816.5 957.3 785.8 957.8 805.9 958.3 796.3 958.8 819.2 959.3 794.2 959.8 784.9 960.3 806.3 960.8 775.0 961.3 792.0 961.8 778.9 962.3 797.5 962.8 781.8 963.3 789.1 963.8 779.0 964.3 767.4 964.8 755.9 965.3 791.7 965.8 775.6 966.3 761.4 966.8 768.2 967.3 779.7 967.8 755.6 968.3 790.6 968.8 766.5 969.3 765.4 969.8 781.2 970.3 771.5 970.7 760.7 971.2 779.8 971.7 776.5 972.2 784.3 972.7 766.6 973.2 766.5 973.7 785.1 974.2 777.3 974.7 763.4 975.2 780.9 975.7 795.1 976.2 785.1 976.7 807.0 977.2 793.2 977.7 800.2 978.2 788.9 978.7 799.9 979.2 808.9 979.7 819.3 980.2 818.9 980.7 830.4 981.2 802.8 981.7 826.8 982.2 828.3 982.7 822.8 983.2 835.2 983.7 831.4 984.2 845.3 984.7 840.7 985.2 851.4 985.7 840.5 986.2 863.6 986.7 857.7 987.2 873.2 987.7 857.2 988.2 855.8 988.7 863.9 989.2 860.1 989.7 856.5 990.2 868.3 990.7 869.2 991.2 865.3 991.7 869.3 992.2 865.2 992.7 877.3 993.2 864.5 993.7 894.6 994.2 880.0 994.7 889.9 995.2 870.6 995.7 886.3 996.2 882.8 996.7 894.4 997.2 894.2 997.7 871.2 998.2 898.6 998.7 874.2 999.2 901.9 999.7 889.4 1000.2 879.2 1000.7 897.9 1001.2 892.2 1001.7 883.0 1002.2 885.9 1002.6 898.0 1003.1 881.0 1003.6 886.3 1004.1 912.6 1004.6 888.1 1005.1 899.3 1005.6 900.5 1006.1 905.7 1006.6 905.3 1007.1 873.2 1007.6 893.0 1008.1 909.2 1008.6 890.7 1009.1 915.9 1009.6 901.2 1010.1 887.4 1010.6 904.7 1011.1 918.1 1011.6 893.4 1012.1 905.4 1012.6 891.8 1013.1 894.9 1013.6 901.7 1014.1 905.7 1014.6 904.4 1015.1 903.2 1015.6 924.3 1016.1 891.2 1016.6 883.9 1017.1 907.2 1017.6 903.7 1018.1 888.3 1018.6 918.7 1019.1 895.6 1019.6 889.0 1020.1 906.6 1020.6 908.8 1021.1 925.3 1021.6 888.2 1022.1 890.8 1022.6 900.4 1023.1 898.9 1023.6 902.5 1024.1 896.5 1024.6 888.5 1025.1 899.2 1025.6 910.3 1026.1 911.2 1026.6 897.4 1027.1 908.9 1027.6 907.8 1028.1 899.1 1028.6 900.6 1029.1 904.4 1029.6 930.8 1030.1 905.7 1030.6 895.6 1031.1 902.7 1031.6 898.9 1032.1 915.2 1032.6 883.6 1033.1 893.9 1033.6 912.4 1034.0 908.5 1034.5 904.7 1035.0 911.4 1035.5 891.8 1036.0 908.1 1036.5 893.7 1037.0 892.3 1037.5 909.5 1038.0 897.0 1038.5 901.3 1039.0 910.8 1039.5 894.7 1040.0 910.7 1040.5 926.4 1041.0 902.9 1041.5 914.1 1042.0 912.3 1042.5 892.8 1043.0 891.8 1043.5 905.0 1044.0 884.5 1044.5 905.4 1045.0 907.5 1045.5 909.5 1046.0 909.4 1046.5 917.9 1047.0 901.9 1047.5 918.1 1048.0 910.2 1048.5 910.2 1049.0 903.7 1049.5 914.4 1050.0 897.9 1050.5 912.2 1051.0 915.9 1051.5 898.8 1052.0 896.1 1052.5 897.9 1053.0 904.8 1053.5 908.7 1054.0 913.7 1054.5 923.5 1055.0 920.8 1055.5 907.9 1056.0 901.5 1056.5 893.6 1057.0 913.2 1057.5 910.2 1058.0 902.5 1058.5 903.6 1059.0 904.1 1059.5 880.4 1060.0 904.7 1060.5 908.3 1061.0 903.8 1061.5 894.7 1062.0 905.3 1062.5 909.4 1063.0 922.0 1063.5 914.7 1064.0 910.2 1064.5 903.9 1065.0 891.4 1065.5 899.6 1065.9 890.9 1066.4 903.0 1066.9 914.1 1067.4 913.8 1067.9 912.4 1068.4 903.7 1068.9 913.0 1069.4 900.7 1069.9 884.4 1070.4 904.5 1070.9 903.6 1071.4 886.4 1071.9 898.1 1072.4 879.6 1072.9 898.6 1073.4 914.8 1073.9 896.9 1074.4 915.8 1074.9 905.3 1075.4 896.0 1075.9 886.0 1076.4 910.3 1076.9 909.4 1077.4 888.7 1077.9 898.9 1078.4 913.6 1078.9 895.7 1079.4 906.7 1079.9 884.1 1080.4 894.0 1080.9 909.8 1081.4 891.4 1081.9 888.9 1082.4 889.3 1082.9 899.1 1083.4 887.5 1083.9 901.6 1084.4 908.0 1084.9 917.3 1085.4 898.7 1085.9 918.0 1086.4 907.8 1086.9 900.3 1087.4 907.4 1087.9 916.9 1088.4 916.7 1088.9 909.5 1089.4 901.3 1089.9 910.1 1090.4 904.1 1090.9 903.6 1091.4 904.4 1091.9 919.3 1092.4 890.3 1092.9 901.0 1093.4 891.2 1093.9 909.9 1094.4 912.3 1094.9 914.5 1095.4 898.0 1095.9 901.8 1096.4 908.7 1096.9 902.9 1097.4 903.9 1097.8 902.9 1098.3 903.5 1098.8 899.7 1099.3 905.0 1099.8 886.6 1100.3 896.5 1100.8 887.6 1101.3 899.5 1101.8 893.1 1102.3 905.2 1102.8 912.0 1103.3 887.9 1103.8 892.2 1104.3 902.7 1104.8 913.3 1105.3 906.7 1105.8 903.4 1106.3 898.4 1106.8 894.5 1107.3 902.3 1107.8 903.2 1108.3 899.8 1108.8 892.5 1109.3 882.4 1109.8 889.5 1110.3 893.8 1110.8 886.1 1111.3 900.1 1111.8 883.1 1112.3 893.6 1112.8 899.7 1113.3 903.9 1113.8 898.1 1114.3 907.1 1114.8 889.5 1115.3 887.5 1115.8 905.1 1116.3 885.9 1116.8 892.5 1117.3 877.0 1117.8 904.1 1118.3 899.8 1118.8 885.4 1119.3 875.4 1119.8 894.2 1120.3 894.0 1120.8 902.2 1121.3 908.3 1121.8 892.4 1122.3 887.6 1122.8 886.9 1123.3 885.8 1123.8 875.0 1124.3 879.0 1124.8 886.2 1125.3 870.8 1125.8 873.3 1126.3 897.0 1126.8 878.3 1127.3 891.8 1127.8 894.0 1128.3 882.9 1128.8 890.0 1129.3 879.7 1129.7 872.3 1130.2 878.8 1130.7 879.8 1131.2 879.5 1131.7 878.2 1132.2 872.9 1132.7 885.9 1133.2 873.0 1133.7 870.0 1134.2 881.9 1134.7 862.5 1135.2 871.0 1135.7 884.2 1136.2 869.7 1136.7 881.6 1137.2 864.5 1137.7 860.9 1138.2 863.1 1138.7 858.2 1139.2 859.0 1139.7 857.0 1140.2 867.6 1140.7 862.6 1141.2 855.5 1141.7 849.1 1142.2 885.6 1142.7 851.7 1143.2 865.7 1143.7 839.8 1144.2 842.6 1144.7 860.1 1145.2 836.5 1145.7 835.5 1146.2 843.8 1146.7 836.0 1147.2 838.9 1147.7 841.8 1148.2 847.4 1148.7 839.5 1149.2 839.3 1149.7 847.9 1150.2 847.6 1150.7 829.5 1151.2 814.0 1151.7 821.0 1152.2 839.7 1152.7 823.9 1153.2 820.8 1153.7 822.3 1154.2 840.9 1154.7 825.4 1155.2 820.5 1155.7 816.8 1156.2 812.3 1156.7 849.2 1157.2 821.4 1157.7 822.8 1158.2 818.0 1158.7 830.9 1159.2 811.0 1159.7 802.1 1160.2 814.9 1160.7 823.7 1161.2 842.2 1161.6 820.1 1162.1 812.9 1162.6 819.3 1163.1 814.4 1163.6 814.9 1164.1 823.8 1164.6 826.4 1165.1 818.0 1165.6 835.6 1166.1 825.2 1166.6 827.9 1167.1 822.9 1167.6 832.3 1168.1 833.8 1168.6 837.3 1169.1 824.3 1169.6 839.3 1170.1 829.0 1170.6 836.7 1171.1 844.1 1171.6 852.8 1172.1 835.3 1172.6 830.3 1173.1 843.6 1173.6 855.3 1174.1 841.8 1174.6 869.5 1175.1 829.7 1175.6 863.4 1176.1 861.5 1176.6 862.4 1177.1 845.1 1177.6 867.4 1178.1 866.9 1178.6 869.0 1179.1 856.2 1179.6 857.3 1180.1 873.2 1180.6 865.4 1181.1 859.9 1181.6 856.5 1182.1 868.2 1182.6 853.9 1183.1 873.5 1183.6 870.6 1184.1 855.3 1184.6 875.5 1185.1 883.7 1185.6 875.6 1186.1 861.5 1186.6 869.4 1187.1 884.1 1187.6 864.6 1188.1 874.3 1188.6 889.7 1189.1 876.9 1189.6 874.9 1190.1 888.9 1190.6 897.4 1191.1 886.5 1191.6 870.8 1192.1 868.7 1192.6 882.4 1193.1 868.2 1193.5 885.4 1194.0 895.5 1194.5 862.0 1195.0 886.3 1195.5 891.7 1196.0 884.0 1196.5 893.4 1197.0 895.0 1197.5 900.8 1198.0 917.1 1198.5 894.7 1199.0 883.5 1199.5 882.8 1200.0 881.2 1200.5 900.2 1201.0 897.1 1201.5 898.7 1202.0 896.5 1202.5 910.3 1203.0 905.8 1203.5 905.4 1204.0 889.5 1204.5 893.3 1205.0 884.2 1205.5 890.7 1206.0 898.1 1206.5 885.8 1207.0 891.7 1207.5 917.4 1208.0 896.6 1208.5 884.2 1209.0 886.9 1209.5 898.3 1210.0 907.4 1210.5 898.7 1211.0 908.1 1211.5 903.0 1212.0 889.5 1212.5 910.3 1213.0 896.2 1213.5 918.8 1214.0 895.3 1214.5 899.8 1215.0 896.1 1215.5 898.9 1216.0 906.0 1216.5 900.0 1217.0 913.3 1217.5 906.2 1218.0 917.4 1218.5 903.1 1219.0 914.9 1219.5 914.2 1220.0 901.4 1220.5 927.3 1221.0 917.6 1221.5 908.4 1222.0 901.4 1222.5 902.7 1223.0 901.9 1223.5 906.4 1224.0 893.0 1224.5 904.5 1224.9 898.2 1225.4 920.1 1225.9 911.6 1226.4 920.3 1226.9 927.2 1227.4 909.1 1227.9 923.9 1228.4 908.3 1228.9 910.8 1229.4 895.8 1229.9 905.7 1230.4 918.7 1230.9 909.8 1231.4 901.6 1231.9 905.3 1232.4 898.2 1232.9 898.9 1233.4 891.7 1233.9 916.1 1234.4 916.0 1234.9 904.5 1235.4 892.8 1235.9 903.4 1236.4 925.0 1236.9 893.1 1237.4 901.0 1237.9 901.4 1238.4 913.6 1238.9 893.8 1239.4 908.5 1239.9 898.2 1240.4 902.7 1240.9 894.5 1241.4 911.2 1241.9 901.5 1242.4 900.6 1242.9 916.8 1243.4 909.7 1243.9 929.0 1244.4 910.4 1244.9 907.3 1245.4 907.7 1245.9 932.8 1246.4 918.5 1246.9 903.9 1247.4 909.7 1247.9 901.7 1248.4 913.0 1248.9 901.9 1249.4 901.4 1249.9 911.0 1250.4 919.7 1250.9 915.0 1251.4 913.9 1251.9 907.2 1252.4 883.7 1252.9 905.2 1253.4 904.8 1253.9 911.9 1254.4 923.5 1254.9 914.0 1255.4 890.1 1255.9 906.9 1256.4 904.4 1256.8 913.6 1257.3 906.1 1257.8 888.3 1258.3 897.9 1258.8 903.5 1259.3 886.9 1259.8 905.3 1260.3 903.7 1260.8 916.7 1261.3 905.3 1261.8 900.4 1262.3 905.1 1262.8 906.5 1263.3 915.6 1263.8 897.0 1264.3 884.6 1264.8 932.6 1265.3 913.4 1265.8 906.4 1266.3 929.2 1266.8 895.0 1267.3 898.3 1267.8 901.6 1268.3 910.5 1268.8 901.3 1269.3 913.2 1269.8 902.2 1270.3 918.1 1270.8 910.0 1271.3 889.5 1271.8 905.1 1272.3 894.3 1272.8 903.9 1273.3 905.1 1273.8 926.6 1274.3 902.7 1274.8 889.3 1275.3 905.8 1275.8 893.4 1276.3 922.1 1276.8 911.3 1277.3 919.5 1277.8 900.3 1278.3 894.0 1278.8 906.7 1279.3 890.5 1279.8 894.3 1280.3 896.2 1280.8 901.9 1281.3 888.5 1281.8 883.1 1282.3 916.6 1282.8 897.4 1283.3 900.7 1283.8 908.0 1284.3 906.3 1284.8 895.5 1285.3 897.3 1285.8 916.9 1286.3 913.2 1286.8 908.1 1287.3 916.6 1287.8 882.1 1288.3 901.3 1288.7 897.0 1289.2 880.7 1289.7 902.3 1290.2 904.9 1290.7 900.7 1291.2 880.3 1291.7 895.3 1292.2 899.0 1292.7 894.2 1293.2 898.7 1293.7 900.3 1294.2 908.7 1294.7 896.7 1295.2 919.3 1295.7 895.3 1296.2 895.4 1296.7 899.5 1297.2 890.6 1297.7 887.5 1298.2 901.9 1298.7 868.5 1299.2 871.3 1299.7 907.8 1300.2 894.0 1300.7 891.4 1301.2 888.3 1301.7 887.2 1302.2 874.5 1302.7 880.1 1303.2 872.1 1303.7 892.4 1304.2 886.6 1304.7 882.0 1305.2 882.7 1305.7 876.9 1306.2 866.3 1306.7 893.3 1307.2 882.5 1307.7 873.9 1308.2 880.8 1308.7 886.9 1309.2 885.6 1309.7 880.2 1310.2 881.4 1310.7 871.0 1311.2 886.1 1311.7 882.1 1312.2 882.0 1312.7 860.2 1313.2 879.1 1313.7 879.5 1314.2 881.0 1314.7 848.2 1315.2 855.6 1315.7 876.7 1316.2 865.2 1316.7 878.6 1317.2 874.4 1317.7 884.1 1318.2 870.8 1318.7 866.4 1319.2 882.4 1319.7 875.1 1320.2 866.9 1320.6 859.6 1321.1 910.0 1321.6 876.5 1322.1 878.1 1322.6 861.9 1323.1 871.5 1323.6 880.4 1324.1 885.5 1324.6 890.3 1325.1 875.8 1325.6 888.1 1326.1 894.9 1326.6 879.0 1327.1 883.5 1327.6 866.8 1328.1 876.6 1328.6 871.2 1329.1 891.2 1329.6 882.9 1330.1 900.2 1330.6 886.4 1331.1 892.3 1331.6 889.4 1332.1 886.1 1332.6 873.5 1333.1 899.8 1333.6 882.4 1334.1 865.0 1334.6 876.9 1335.1 871.3 1335.6 893.1 1336.1 891.4 1336.6 895.6 1337.1 901.4 1337.6 873.0 1338.1 860.3 1338.6 868.9 1339.1 881.5 1339.6 850.2 1340.1 870.2 1340.6 883.7 1341.1 866.3 1341.6 872.8 1342.1 864.4 1342.6 889.8 1343.1 891.2 1343.6 861.4 1344.1 862.5 1344.6 871.6 1345.1 876.7 1345.6 873.8 1346.1 875.7 1346.6 878.7 1347.1 880.8 1347.6 887.3 1348.1 870.6 1348.6 864.2 1349.1 868.2 1349.6 891.1 1350.1 877.7 1350.6 876.7 1351.1 883.3 1351.6 882.7 1352.1 894.2 1352.5 863.6 1353.0 874.1 1353.5 880.2 1354.0 881.5 1354.5 870.3 1355.0 858.8 1355.5 873.0 1356.0 869.6 1356.5 876.3 1357.0 889.0 1357.5 885.9 1358.0 868.6 1358.5 873.3 1359.0 883.5 1359.5 893.7 1360.0 882.7 1360.5 886.4 1361.0 870.1 1361.5 881.0 1362.0 878.8 1362.5 889.3 1363.0 885.4 1363.5 880.1 1364.0 878.7 1364.5 892.2 1365.0 884.3 1365.5 902.6 1366.0 893.5 1366.5 889.9 1367.0 902.1 1367.5 881.8 1368.0 903.2 1368.5 887.5 1369.0 902.3 1369.5 888.8 1370.0 886.6 1370.5 878.2 1371.0 897.2 1371.5 901.9 1372.0 883.7 1372.5 915.3 1373.0 898.0 1373.5 887.3 1374.0 918.0 1374.5 895.0 1375.0 913.7 1375.5 871.7 1376.0 921.0 1376.5 901.8 1377.0 900.1 1377.5 903.5 1378.0 889.2 1378.5 909.9 1379.0 905.3 1379.5 904.3 1380.0 895.6 1380.5 889.9 1381.0 905.1 1381.5 909.7 1382.0 903.1 1382.5 899.9 1383.0 896.9 1383.5 909.1 1384.0 916.5 1384.4 900.8 1384.9 894.0 1385.4 926.7 1385.9 887.3 1386.4 905.2 1386.9 901.7 1387.4 915.6 1387.9 901.5 1388.4 886.6 1388.9 891.8 1389.4 904.1 1389.9 902.8 1390.4 896.6 1390.9 897.6 1391.4 887.9 1391.9 888.7 1392.4 897.1 1392.9 896.5 1393.4 901.9 1393.9 891.8 1394.4 918.7 1394.9 886.2 1395.4 912.0 1395.9 908.9 1396.4 919.1 1396.9 917.2 1397.4 890.7 1397.9 907.2 1398.4 911.2 1398.9 913.0 1399.4 908.8 1399.9 898.2 1400.4 916.5 1400.9 902.7 1401.4 899.1 1401.9 905.7 1402.4 899.5 1402.9 897.3 1403.4 905.1 1403.9 929.6 1404.4 907.0 1404.9 904.7 1405.4 899.5 1405.9 907.3 1406.4 892.3 1406.9 908.6 1407.4 906.5 1407.9 904.7 1408.4 908.5 1408.9 901.9 1409.4 910.3 1409.9 909.0 1410.4 909.2 1410.9 903.7 1411.4 912.3 1411.9 901.9 1412.4 916.2 1412.9 902.5 1413.4 916.0 1413.9 906.0 1414.4 903.2 1414.9 893.6 1415.4 909.6 1415.8 906.9 1416.3 903.8 1416.8 907.3 1417.3 904.5 1417.8 894.2 1418.3 891.7 1418.8 909.2 1419.3 904.8 1419.8 917.8 1420.3 922.5 1420.8 910.9 1421.3 909.0 1421.8 908.2 1422.3 903.6 1422.8 896.3 1423.3 876.8 1423.8 909.8 1424.3 908.0 1424.8 902.6 1425.3 903.4 1425.8 911.5 1426.3 910.9 1426.8 903.7 1427.3 899.3 1427.8 907.5 1428.3 909.3 1428.8 922.9 1429.3 892.3 1429.8 905.9 1430.3 892.3 1430.8 896.3 1431.3 923.5 1431.8 896.4 1432.3 899.0 1432.8 894.4 1433.3 908.2 1433.8 895.5 1434.3 883.1 1434.8 900.5 1435.3 906.9 1435.8 898.3 1436.3 899.8 1436.8 891.1 1437.3 888.5 1437.8 897.3 1438.3 885.8 1438.8 892.2 1439.3 886.5 1439.8 893.4 1440.3 903.0 1440.8 894.5 1441.3 905.4 1441.8 897.4 1442.3 892.0 1442.8 883.9 1443.3 893.1 1443.8 880.2 1444.3 898.3 1444.8 877.1 1445.3 875.9 1445.8 880.4 1446.3 871.7 1446.8 888.2 1447.3 878.8 1447.7 881.0 1448.2 890.6 1448.7 862.1 1449.2 880.2 1449.7 885.1 1450.2 890.5 1450.7 880.8 1451.2 871.8 1451.7 886.3 1452.2 885.1 1452.7 896.4 1453.2 894.6 1453.7 870.3 1454.2 884.4 1454.7 871.7 1455.2 858.4 1455.7 873.9 1456.2 878.4 1456.7 841.4 1457.2 876.0 1457.7 853.6 1458.2 876.1 1458.7 861.4 1459.2 859.3 1459.7 870.3 1460.2 852.3 1460.7 874.9 1461.2 844.1 1461.7 846.7 1462.2 841.1 1462.7 856.2 1463.2 849.6 1463.7 857.5 1464.2 859.9 1464.7 856.7 1465.2 859.2 1465.7 859.2 1466.2 847.7 1466.7 841.4 1467.2 839.3 1467.7 856.4 1468.2 844.4 1468.7 840.6 1469.2 842.4 1469.7 849.2 1470.2 854.3 1470.7 850.4 1471.2 843.7 1471.7 859.9 1472.2 833.8 1472.7 853.4 1473.2 867.6 1473.7 861.1 1474.2 871.1 1474.7 861.6 1475.2 867.2 1475.7 863.0 1476.2 859.4 1476.7 868.3 1477.2 875.0 1477.7 847.2 1478.2 859.4 1478.7 847.7 1479.2 859.8 1479.6 857.1 1480.1 865.7 1480.6 868.1 1481.1 881.0 1481.6 884.3 1482.1 865.0 1482.6 868.6 1483.1 880.0 1483.6 868.2 1484.1 871.0 1484.6 857.3 1485.1 882.9 1485.6 878.7 1486.1 867.2 1486.6 864.1 1487.1 867.0 1487.6 882.0 1488.1 873.4 1488.6 866.6 1489.1 875.7 1489.6 887.6 1490.1 891.8 1490.6 893.1 1491.1 881.8 1491.6 883.6 1492.1 884.4 1492.6 888.5 1493.1 888.2 1493.6 873.7 1494.1 876.4 1494.6 880.3 1495.1 891.4 1495.6 880.1 1496.1 878.1 1496.6 896.0 1497.1 900.9 1497.6 878.5 1498.1 886.5 1498.6 899.5 1499.1 885.0 1499.6 898.4 1500.1 876.3 1500.6 888.4 1501.1 897.4 1501.6 906.4 1502.1 901.3 1502.6 876.9 1503.1 878.2 1503.6 885.1 1504.1 902.0 1504.6 901.5 1505.1 905.4 1505.6 902.0 1506.1 890.1 1506.6 892.4 1507.1 887.8 1507.6 904.9 1508.1 884.9 1508.6 898.1 1509.1 900.2 1509.6 910.0 1510.1 891.0 1510.6 902.6 1511.1 889.3 1511.5 909.2 1512.0 896.0 1512.5 896.7 1513.0 890.7 1513.5 894.3 1514.0 894.1 1514.5 894.7 1515.0 912.0 1515.5 891.4 1516.0 903.5 1516.5 909.4 1517.0 890.5 1517.5 880.8 1518.0 906.3 1518.5 885.9 1519.0 894.5 1519.5 901.2 1520.0 904.9 1520.5 899.8 1521.0 895.7 1521.5 912.2 1522.0 904.9 1522.5 921.4 1523.0 894.2 1523.5 902.1 1524.0 902.7 1524.5 908.4 1525.0 905.5 1525.5 903.6 1526.0 922.3 1526.5 901.9 1527.0 907.8 1527.5 905.4 1528.0 897.8 1528.5 910.9 1529.0 885.8 1529.5 914.9 1530.0 888.9 1530.5 900.9 1531.0 905.0 1531.5 899.3 1532.0 899.1 1532.5 915.7 1533.0 927.3 1533.5 914.3 1534.0 905.8 1534.5 898.3 1535.0 896.9 1535.5 916.1 1536.0 913.0 1536.5 917.2 1537.0 914.2 1537.5 917.3 1538.0 898.8 1538.5 897.0 1539.0 894.8 1539.5 904.4 1540.0 902.8 1540.5 905.7 1541.0 893.1 1541.5 906.4 1542.0 912.5 1542.5 905.5 1543.0 878.8 1543.4 904.6 1543.9 901.4 1544.4 913.7 1544.9 903.3 1545.4 911.0 1545.9 901.2 1546.4 908.1 1546.9 914.3 1547.4 902.3 1547.9 907.9 1548.4 906.5 1548.9 910.9 1549.4 903.9 1549.9 909.6 1550.4 887.5 1550.9 902.8 1551.4 913.0 1551.9 911.5 1552.4 895.9 1552.9 897.4 1553.4 908.9 1553.9 908.6 1554.4 909.6 1554.9 905.8 1555.4 906.2 1555.9 915.1 1556.4 896.3 1556.9 892.0 1557.4 914.9 1557.9 897.9 1558.4 911.8 1558.9 898.8 1559.4 894.7 1559.9 920.0 1560.4 904.6 1560.9 891.8 1561.4 903.2 1561.9 903.6 1562.4 903.3 1562.9 906.8 1563.4 894.3 1563.9 902.5 1564.4 909.6 1564.9 911.2 1565.4 906.1 1565.9 897.6 1566.4 886.5 1566.9 919.2 1567.4 894.6 1567.9 901.0 1568.4 905.5 1568.9 909.6 1569.4 905.1 1569.9 897.6 1570.4 905.0 1570.9 925.1 1571.4 929.3 1571.9 903.3 1572.4 911.6 1572.9 888.8 1573.4 907.5 1573.9 912.3 1574.4 902.6 1574.9 922.8 1575.3 913.9 1575.8 911.4 1576.3 880.6 1576.8 899.7 1577.3 912.3 1577.8 900.9 1578.3 888.8 1578.8 900.1 1579.3 920.1 1579.8 912.1 1580.3 913.9 1580.8 907.5 1581.3 921.1 1581.8 879.0 1582.3 894.3 1582.8 924.0 1583.3 915.7 1583.8 908.0 1584.3 902.5 1584.8 888.5 1585.3 901.7 1585.8 904.4 1586.3 896.9 1586.8 918.9 1587.3 915.6 1587.8 903.1 1588.3 914.3 1588.8 905.4 1589.3 908.3 1589.8 901.2 1590.3 929.4 1590.8 891.5" stroke="#ef3b3e" stroke-width="7"/><path d="M95.5 1067.1 96.0 1069.9 96.5 1069.9 97.0 1063.5 97.5 1065.2 98.0 1067.2 98.5 1065.5 99.0 1065.8 99.5 1066.8 100.0 1067.1 100.5 1070.1 101.0 1063.3 101.5 1070.0 102.0 1066.9 102.5 1068.9 103.0 1066.6 103.5 1073.1 104.0 1063.1 104.5 1070.3 105.0 1066.4 105.5 1066.9 106.0 1070.9 106.5 1067.0 107.0 1069.6 107.5 1071.0 108.0 1066.0 108.5 1072.4 109.0 1070.5 109.5 1067.0 110.0 1068.0 110.5 1065.8 111.0 1068.2 111.4 1069.6 111.9 1069.9 112.4 1068.0 112.9 1066.3 113.4 1065.9 113.9 1065.2 114.4 1066.8 114.9 1069.0 115.4 1066.1 115.9 1065.9 116.4 1065.0 116.9 1068.9 117.4 1066.9 117.9 1063.6 118.4 1070.2 118.9 1070.0 119.4 1067.5 119.9 1066.7 120.4 1067.4 120.9 1065.3 121.4 1069.9 121.9 1070.8 122.4 1070.0 122.9 1068.1 123.4 1068.1 123.9 1068.8 124.4 1071.6 124.9 1065.6 125.4 1067.5 125.9 1065.8 126.4 1064.6 126.9 1068.3 127.4 1070.2 127.9 1064.9 128.4 1069.9 128.9 1069.1 129.4 1068.6 129.9 1070.8 130.4 1065.9 130.9 1071.4 131.4 1066.6 131.9 1068.8 132.4 1063.8 132.9 1069.8 133.4 1067.6 133.9 1066.1 134.4 1065.0 134.9 1068.0 135.4 1070.7 135.9 1068.8 136.4 1066.7 136.9 1065.6 137.4 1065.0 137.9 1066.7 138.4 1063.6 138.9 1066.6 139.4 1070.1 139.9 1067.3 140.4 1067.1 140.9 1066.0 141.4 1069.2 141.9 1069.0 142.4 1070.9 142.9 1065.8 143.3 1064.8 143.8 1066.0 144.3 1064.5 144.8 1067.3 145.3 1066.4 145.8 1065.4 146.3 1067.3 146.8 1069.8 147.3 1069.1 147.8 1065.9 148.3 1067.5 148.8 1068.2 149.3 1069.0 149.8 1066.6 150.3 1064.3 150.8 1068.2 151.3 1065.1 151.8 1066.5 152.3 1066.7 152.8 1069.6 153.3 1066.2 153.8 1067.8 154.3 1066.8 154.8 1066.0 155.3 1069.5 155.8 1066.2 156.3 1068.5 156.8 1068.0 157.3 1062.9 157.8 1063.4 158.3 1059.8 158.8 1068.0 159.3 1067.9 159.8 1066.1 160.3 1066.1 160.8 1066.5 161.3 1065.8 161.8 1067.2 162.3 1067.2 162.8 1065.1 163.3 1070.7 163.8 1069.7 164.3 1066.3 164.8 1072.5 165.3 1073.1 165.8 1070.2 166.3 1070.1 166.8 1065.8 167.3 1066.5 167.8 1063.4 168.3 1066.2 168.8 1069.5 169.3 1066.2 169.8 1063.1 170.3 1071.0 170.8 1071.9 171.3 1070.8 171.8 1063.5 172.3 1069.1 172.8 1065.1 173.3 1066.7 173.8 1068.7 174.3 1070.7 174.8 1065.5 175.2 1066.2 175.7 1063.9 176.2 1067.0 176.7 1064.6 177.2 1065.7 177.7 1068.7 178.2 1066.8 178.7 1067.1 179.2 1067.5 179.7 1068.7 180.2 1070.1 180.7 1063.9 181.2 1062.8 181.7 1067.9 182.2 1068.3 182.7 1069.9 183.2 1068.4 183.7 1070.6 184.2 1067.7 184.7 1064.9 185.2 1068.7 185.7 1064.1 186.2 1064.6 186.7 1067.1 187.2 1065.5 187.7 1068.3 188.2 1065.0 188.7 1070.3 189.2 1063.3 189.7 1067.4 190.2 1064.5 190.7 1068.9 191.2 1064.0 191.7 1067.1 192.2 1057.5 192.7 1063.3 193.2 1068.9 193.7 1065.2 194.2 1064.8 194.7 1066.6 195.2 1070.1 195.7 1061.5 196.2 1063.7 196.7 1062.6 197.2 1065.2 197.7 1061.6 198.2 1059.2 198.7 1059.0 199.2 1064.0 199.7 1062.6 200.2 1063.9 200.7 1057.6 201.2 1058.9 201.7 1059.3 202.2 1062.2 202.7 1060.7 203.2 1058.7 203.7 1056.2 204.2 1058.4 204.7 1056.2 205.2 1058.7 205.7 1060.0 206.2 1055.3 206.7 1051.4 207.1 1058.9 207.6 1053.6 208.1 1052.2 208.6 1050.0 209.1 1048.8 209.6 1047.1 210.1 1046.0 210.6 1040.0 211.1 1040.0 211.6 1039.5 212.1 1037.9 212.6 1035.7 213.1 1033.7 213.6 1025.5 214.1 1024.6 214.6 1022.1 215.1 1020.6 215.6 1016.1 216.1 1017.4 216.6 1007.5 217.1 1003.3 217.6 995.4 218.1 998.4 218.6 988.9 219.1 982.9 219.6 975.8 220.1 971.6 220.6 964.5 221.1 962.1 221.6 951.0 222.1 945.8 222.6 939.6 223.1 936.6 223.6 930.6 224.1 927.2 224.6 921.8 225.1 918.1 225.6 913.9 226.1 913.7 226.6 911.4 227.1 910.6 227.6 906.3 228.1 910.4 228.6 912.1 229.1 912.4 229.6 923.7 230.1 928.4 230.6 932.4 231.1 936.6 231.6 944.5 232.1 942.8 232.6 956.1 233.1 954.3 233.6 965.7 234.1 971.7 234.6 978.6 235.1 984.8 235.6 990.5 236.1 992.4 236.6 997.5 237.1 1001.9 237.6 1008.7 238.1 1011.8 238.6 1012.8 239.0 1022.6 239.5 1021.0 240.0 1025.8 240.5 1028.2 241.0 1030.9 241.5 1036.7 242.0 1035.9 242.5 1036.3 243.0 1040.2 243.5 1041.2 244.0 1041.7 244.5 1049.1 245.0 1051.2 245.5 1046.3 246.0 1054.7 246.5 1056.5 247.0 1049.8 247.5 1055.2 248.0 1054.4 248.5 1057.9 249.0 1049.6 249.5 1058.9 250.0 1057.1 250.5 1059.8 251.0 1061.3 251.5 1054.1 252.0 1060.1 252.5 1060.7 253.0 1062.6 253.5 1064.2 254.0 1063.7 254.5 1060.3 255.0 1064.2 255.5 1061.0 256.0 1064.9 256.5 1062.9 257.0 1063.2 257.5 1064.1 258.0 1060.2 258.5 1063.5 259.0 1061.5 259.5 1066.8 260.0 1067.8 260.5 1061.4 261.0 1059.7 261.5 1065.8 262.0 1063.9 262.5 1063.2 263.0 1071.0 263.5 1064.7 264.0 1063.3 264.5 1065.2 265.0 1066.6 265.5 1069.8 266.0 1066.8 266.5 1063.2 267.0 1065.1 267.5 1070.7 268.0 1062.2 268.5 1066.3 269.0 1069.3 269.5 1067.2 270.0 1066.1 270.5 1064.5 270.9 1067.1 271.4 1068.0 271.9 1067.3 272.4 1069.3 272.9 1067.4 273.4 1070.0 273.9 1067.3 274.4 1069.2 274.9 1066.2 275.4 1071.2 275.9 1070.1 276.4 1068.8 276.9 1064.8 277.4 1067.6 277.9 1060.1 278.4 1066.3 278.9 1067.6 279.4 1065.2 279.9 1067.7 280.4 1068.9 280.9 1071.7 281.4 1067.4 281.9 1063.6 282.4 1061.7 282.9 1067.0 283.4 1069.6 283.9 1070.1 284.4 1067.7 284.9 1065.9 285.4 1065.8 285.9 1067.2 286.4 1067.7 286.9 1069.0 287.4 1067.8 287.9 1072.4 288.4 1067.9 288.9 1068.8 289.4 1070.1 289.9 1069.9 290.4 1066.0 290.9 1063.7 291.4 1064.5 291.9 1068.5 292.4 1069.1 292.9 1068.5 293.4 1069.6 293.9 1070.8 294.4 1065.8 294.9 1073.8 295.4 1074.1 295.9 1069.5 296.4 1067.3 296.9 1068.3 297.4 1064.3 297.9 1067.8 298.4 1065.8 298.9 1067.5 299.4 1067.0 299.9 1072.7 300.4 1065.7 300.9 1068.5 301.4 1066.8 301.9 1071.6 302.3 1070.3 302.8 1064.1 303.3 1065.4 303.8 1068.5 304.3 1066.3 304.8 1068.9 305.3 1068.0 305.8 1065.2 306.3 1067.1 306.8 1069.0 307.3 1067.6 307.8 1068.2 308.3 1068.7 308.8 1067.5 309.3 1071.1 309.8 1064.8 310.3 1069.0 310.8 1066.6 311.3 1068.8 311.8 1069.9 312.3 1069.4 312.8 1069.5 313.3 1069.7 313.8 1069.1 314.3 1067.3 314.8 1069.6 315.3 1070.2 315.8 1070.0 316.3 1068.6 316.8 1068.6 317.3 1063.1 317.8 1065.9 318.3 1067.4 318.8 1070.3 319.3 1070.8 319.8 1068.2 320.3 1065.2 320.8 1069.1 321.3 1070.3 321.8 1069.7 322.3 1066.2 322.8 1065.3 323.3 1065.7 323.8 1065.3 324.3 1070.3 324.8 1068.6 325.3 1073.1 325.8 1071.9 326.3 1070.3 326.8 1066.3 327.3 1069.5 327.8 1069.0 328.3 1064.5 328.8 1064.8 329.3 1066.1 329.8 1070.9 330.3 1067.0 330.8 1064.6 331.3 1068.1 331.8 1069.4 332.3 1065.0 332.8 1072.5 333.3 1066.1 333.8 1070.5 334.2 1069.6 334.7 1066.1 335.2 1067.6 335.7 1067.9 336.2 1067.0 336.7 1069.7 337.2 1068.0 337.7 1063.7 338.2 1068.1 338.7 1065.1 339.2 1067.3 339.7 1068.5 340.2 1067.6 340.7 1070.4 341.2 1067.7 341.7 1066.6 342.2 1071.9 342.7 1069.7 343.2 1067.6 343.7 1067.9 344.2 1066.9 344.7 1068.1 345.2 1065.6 345.7 1072.2 346.2 1070.9 346.7 1062.5 347.2 1065.6 347.7 1067.8 348.2 1066.3 348.7 1062.8 349.2 1069.6 349.7 1065.0 350.2 1069.6 350.7 1069.0 351.2 1071.6 351.7 1065.8 352.2 1072.3 352.7 1064.9 353.2 1071.5 353.7 1070.5 354.2 1069.0 354.7 1065.3 355.2 1071.8 355.7 1069.9 356.2 1063.9 356.7 1061.6 357.2 1066.3 357.7 1065.8 358.2 1069.7 358.7 1068.3 359.2 1068.7 359.7 1066.7 360.2 1070.2 360.7 1066.6 361.2 1064.3 361.7 1062.1 362.2 1069.2 362.7 1066.5 363.2 1063.8 363.7 1065.8 364.2 1067.0 364.7 1069.6 365.2 1062.8 365.7 1067.0 366.1 1069.7 366.6 1069.1 367.1 1070.0 367.6 1072.8 368.1 1065.9 368.6 1066.5 369.1 1070.6 369.6 1071.9 370.1 1068.8 370.6 1067.2 371.1 1065.2 371.6 1069.5 372.1 1068.9 372.6 1065.5 373.1 1066.8 373.6 1065.7 374.1 1069.5 374.6 1067.7 375.1 1071.1 375.6 1071.3 376.1 1068.9 376.6 1071.0 377.1 1070.6 377.6 1071.7 378.1 1067.0 378.6 1069.6 379.1 1072.6 379.6 1069.7 380.1 1067.1 380.6 1068.7 381.1 1073.7 381.6 1067.2 382.1 1066.6 382.6 1070.4 383.1 1067.3 383.6 1064.4 384.1 1064.3 384.6 1068.2 385.1 1066.7 385.6 1071.7 386.1 1066.7 386.6 1064.8 387.1 1066.3 387.6 1065.2 388.1 1071.0 388.6 1066.3 389.1 1071.9 389.6 1069.6 390.1 1073.1 390.6 1068.0 391.1 1070.3 391.6 1063.1 392.1 1067.1 392.6 1066.4 393.1 1071.0 393.6 1067.9 394.1 1069.9 394.6 1066.5 395.1 1065.1 395.6 1068.0 396.1 1071.4 396.6 1068.1 397.1 1072.1 397.6 1067.4 398.0 1067.4 398.5 1067.4 399.0 1067.6 399.5 1066.6 400.0 1067.7 400.5 1066.3 401.0 1065.7 401.5 1071.9 402.0 1070.4 402.5 1067.5 403.0 1066.8 403.5 1064.4 404.0 1069.7 404.5 1066.6 405.0 1072.9 405.5 1064.0 406.0 1069.1 406.5 1071.2 407.0 1067.0 407.5 1073.2 408.0 1070.7 408.5 1070.7 409.0 1066.2 409.5 1070.8 410.0 1070.7 410.5 1068.6 411.0 1072.7 411.5 1069.1 412.0 1062.8 412.5 1069.1 413.0 1072.6 413.5 1066.8 414.0 1070.1 414.5 1066.7 415.0 1068.3 415.5 1061.7 416.0 1063.9 416.5 1067.6 417.0 1066.9 417.5 1063.7 418.0 1070.0 418.5 1069.1 419.0 1066.1 419.5 1063.2 420.0 1069.7 420.5 1067.1 421.0 1070.0 421.5 1071.0 422.0 1067.4 422.5 1067.7 423.0 1070.1 423.5 1067.6 424.0 1063.4 424.5 1069.7 425.0 1068.9 425.5 1066.7 426.0 1069.4 426.5 1067.2 427.0 1067.1 427.5 1070.0 428.0 1064.7 428.5 1064.1 429.0 1067.7 429.5 1064.8 429.9 1070.2 430.4 1066.2 430.9 1063.8 431.4 1067.1 431.9 1062.6 432.4 1071.4 432.9 1068.0 433.4 1069.7 433.9 1069.3 434.4 1068.5 434.9 1065.5 435.4 1070.0 435.9 1067.2 436.4 1066.2 436.9 1063.1 437.4 1071.2 437.9 1067.5 438.4 1067.0 438.9 1063.4 439.4 1070.3 439.9 1067.8 440.4 1070.5 440.9 1068.0 441.4 1066.0 441.9 1069.4 442.4 1064.2 442.9 1064.3 443.4 1067.9 443.9 1069.9 444.4 1070.8 444.9 1067.8 445.4 1067.8 445.9 1068.5 446.4 1067.5 446.9 1066.8 447.4 1069.3 447.9 1066.8 448.4 1067.5 448.9 1071.0 449.4 1068.6 449.9 1066.8 450.4 1069.7 450.9 1067.7 451.4 1069.7 451.9 1065.9 452.4 1066.1 452.9 1064.6 453.4 1070.8 453.9 1071.4 454.4 1070.9 454.9 1068.9 455.4 1068.5 455.9 1067.4 456.4 1069.4 456.9 1067.6 457.4 1065.5 457.9 1070.4 458.4 1070.2 458.9 1069.3 459.4 1067.8 459.9 1067.1 460.4 1068.2 460.9 1068.5 461.4 1065.1 461.8 1066.9 462.3 1065.4 462.8 1070.7 463.3 1064.7 463.8 1065.0 464.3 1065.8 464.8 1068.3 465.3 1065.7 465.8 1072.2 466.3 1069.7 466.8 1062.1 467.3 1068.4 467.8 1068.7 468.3 1064.8 468.8 1067.7 469.3 1068.1 469.8 1066.3 470.3 1067.6 470.8 1068.7 471.3 1066.6 471.8 1067.7 472.3 1064.9 472.8 1069.3 473.3 1066.3 473.8 1070.7 474.3 1072.7 474.8 1071.8 475.3 1066.6 475.8 1068.8 476.3 1067.1 476.8 1068.8 477.3 1065.7 477.8 1065.2 478.3 1067.5 478.8 1065.7 479.3 1070.6 479.8 1069.4 480.3 1068.4 480.8 1067.2 481.3 1067.1 481.8 1069.9 482.3 1067.7 482.8 1067.5 483.3 1072.0 483.8 1067.8 484.3 1066.8 484.8 1066.8 485.3 1070.4 485.8 1066.1 486.3 1066.1 486.8 1069.9 487.3 1070.0 487.8 1070.6 488.3 1065.1 488.8 1068.1 489.3 1065.7 489.8 1068.0 490.3 1063.1 490.8 1066.4 491.3 1069.4 491.8 1067.3 492.3 1060.9 492.8 1069.0 493.2 1067.4 493.7 1065.8 494.2 1066.4 494.7 1065.5 495.2 1069.0 495.7 1066.0 496.2 1062.2 496.7 1063.8 497.2 1069.7 497.7 1068.4 498.2 1067.5 498.7 1063.5 499.2 1066.6 499.7 1067.6 500.2 1065.2 500.7 1066.6 501.2 1067.4 501.7 1067.0 502.2 1065.4 502.7 1065.2 503.2 1060.9 503.7 1063.0 504.2 1065.5 504.7 1067.3 505.2 1063.4 505.7 1065.4 506.2 1062.5 506.7 1059.9 507.2 1063.0 507.7 1062.8 508.2 1059.2 508.7 1059.0 509.2 1060.9 509.7 1059.2 510.2 1061.4 510.7 1056.6 511.2 1061.5 511.7 1057.7 512.2 1059.8 512.7 1054.8 513.2 1060.6 513.7 1058.5 514.2 1062.8 514.7 1053.4 515.2 1052.8 515.7 1058.6 516.2 1058.8 516.7 1052.1 517.2 1057.5 517.7 1058.2 518.2 1059.2 518.7 1055.9 519.2 1051.7 519.7 1050.5 520.2 1060.1 520.7 1055.8 521.2 1057.0 521.7 1053.7 522.2 1053.7 522.7 1053.5 523.2 1051.6 523.7 1052.9 524.2 1050.6 524.7 1052.0 525.1 1055.3 525.6 1052.4 526.1 1050.3 526.6 1055.6 527.1 1054.1 527.6 1050.5 528.1 1045.6 528.6 1052.2 529.1 1051.6 529.6 1046.2 530.1 1050.2 530.6 1043.9 531.1 1044.3 531.6 1042.8 532.1 1043.3 532.6 1041.4 533.1 1044.1 533.6 1038.6 534.1 1039.4 534.6 1037.2 535.1 1036.5 535.6 1032.8 536.1 1033.6 536.6 1036.0 537.1 1033.7 537.6 1028.0 538.1 1029.1 538.6 1027.0 539.1 1027.2 539.6 1027.0 540.1 1025.4 540.6 1029.4 541.1 1030.6 541.6 1029.1 542.1 1028.0 542.6 1030.1 543.1 1028.5 543.6 1033.7 544.1 1037.7 544.6 1026.6 545.1 1035.0 545.6 1035.3 546.1 1036.7 546.6 1036.7 547.1 1034.8 547.6 1039.3 548.1 1039.6 548.6 1041.3 549.1 1042.5 549.6 1042.4 550.1 1050.0 550.6 1042.3 551.1 1045.2 551.6 1043.8 552.1 1047.2 552.6 1052.0 553.1 1048.8 553.6 1047.4 554.1 1046.8 554.6 1051.8 555.1 1049.2 555.6 1052.9 556.1 1050.1 556.6 1050.9 557.0 1052.4 557.5 1049.0 558.0 1056.2 558.5 1050.9 559.0 1054.4 559.5 1055.4 560.0 1060.4 560.5 1056.2 561.0 1057.5 561.5 1054.6 562.0 1055.8 562.5 1056.5 563.0 1059.4 563.5 1054.9 564.0 1058.6 564.5 1064.9 565.0 1056.0 565.5 1054.3 566.0 1057.8 566.5 1059.1 567.0 1063.8 567.5 1061.3 568.0 1063.3 568.5 1059.1 569.0 1061.1 569.5 1062.2 570.0 1059.8 570.5 1062.8 571.0 1061.7 571.5 1063.3 572.0 1059.6 572.5 1058.3 573.0 1066.8 573.5 1063.8 574.0 1063.7 574.5 1070.4 575.0 1066.9 575.5 1065.7 576.0 1063.2 576.5 1065.9 577.0 1065.8 577.5 1064.7 578.0 1069.0 578.5 1067.5 579.0 1067.2 579.5 1064.0 580.0 1064.4 580.5 1068.9 581.0 1066.9 581.5 1065.1 582.0 1067.3 582.5 1066.7 583.0 1065.7 583.5 1066.4 584.0 1068.8 584.5 1067.8 585.0 1065.0 585.5 1065.4 586.0 1067.9 586.5 1064.8 587.0 1067.7 587.5 1067.1 588.0 1064.3 588.5 1061.7 588.9 1065.5 589.4 1067.5 589.9 1067.6 590.4 1070.7 590.9 1067.7 591.4 1067.6 591.9 1068.7 592.4 1066.7 592.9 1072.0 593.4 1066.5 593.9 1065.8 594.4 1066.7 594.9 1070.8 595.4 1066.6 595.9 1066.1 596.4 1069.4 596.9 1070.8 597.4 1067.0 597.9 1069.7 598.4 1066.5 598.9 1071.4 599.4 1065.5 599.9 1067.5 600.4 1067.1 600.9 1065.9 601.4 1068.0 601.9 1069.8 602.4 1066.2 602.9 1072.8 603.4 1068.8 603.9 1069.0 604.4 1066.4 604.9 1068.1 605.4 1070.4 605.9 1065.8 606.4 1066.6 606.9 1066.3 607.4 1065.1 607.9 1069.8 608.4 1066.4 608.9 1072.2 609.4 1065.3 609.9 1067.5 610.4 1068.4 610.9 1065.9 611.4 1063.2 611.9 1066.8 612.4 1068.3 612.9 1066.1 613.4 1069.0 613.9 1063.9 614.4 1069.1 614.9 1073.4 615.4 1070.7 615.9 1070.8 616.4 1067.5 616.9 1067.4 617.4 1071.1 617.9 1067.6 618.4 1070.0 618.9 1066.1 619.4 1069.3 619.9 1068.8 620.4 1063.1 620.8 1068.1 621.3 1069.8 621.8 1069.7 622.3 1069.3 622.8 1071.5 623.3 1068.3 623.8 1066.6 624.3 1070.6 624.8 1073.6 625.3 1067.6 625.8 1072.1 626.3 1068.0 626.8 1064.9 627.3 1066.3 627.8 1066.4 628.3 1071.3 628.8 1068.7 629.3 1067.2 629.8 1068.8 630.3 1071.9 630.8 1068.3 631.3 1066.8 631.8 1069.4 632.3 1066.5 632.8 1069.7 633.3 1070.9 633.8 1068.9 634.3 1067.5 634.8 1068.8 635.3 1065.1 635.8 1072.3 636.3 1074.2 636.8 1068.5 637.3 1063.5 637.8 1066.9 638.3 1065.0 638.8 1064.0 639.3 1068.1 639.8 1068.1 640.3 1067.0 640.8 1071.1 641.3 1068.6 641.8 1066.1 642.3 1069.5 642.8 1065.4 643.3 1067.6 643.8 1066.5 644.3 1069.2 644.8 1067.8 645.3 1067.1 645.8 1069.1 646.3 1069.6 646.8 1069.0 647.3 1071.1 647.8 1065.9 648.3 1069.4 648.8 1072.5 649.3 1068.5 649.8 1063.1 650.3 1070.8 650.8 1067.9 651.3 1070.0 651.8 1069.1 652.3 1069.9 652.7 1071.4 653.2 1068.7 653.7 1070.3 654.2 1065.3 654.7 1066.3 655.2 1068.1 655.7 1072.2 656.2 1066.4 656.7 1067.6 657.2 1070.0 657.7 1067.1 658.2 1065.3 658.7 1063.6 659.2 1070.3 659.7 1065.7 660.2 1069.2 660.7 1069.6 661.2 1066.0 661.7 1069.4 662.2 1063.2 662.7 1068.1 663.2 1065.8 663.7 1068.9 664.2 1068.8 664.7 1068.8 665.2 1069.8 665.7 1066.8 666.2 1064.9 666.7 1065.3 667.2 1070.7 667.7 1065.8 668.2 1067.5 668.7 1069.2 669.2 1067.9 669.7 1065.9 670.2 1063.2 670.7 1070.6 671.2 1066.9 671.7 1064.4 672.2 1066.7 672.7 1068.4 673.2 1063.6 673.7 1068.6 674.2 1068.3 674.7 1069.4 675.2 1068.3 675.7 1065.9 676.2 1064.3 676.7 1067.8 677.2 1067.0 677.7 1071.9 678.2 1067.6 678.7 1069.2 679.2 1068.4 679.7 1064.0 680.2 1070.0 680.7 1067.1 681.2 1064.7 681.7 1069.2 682.2 1071.2 682.7 1067.9 683.2 1067.5 683.7 1066.7 684.1 1067.2 684.6 1070.9 685.1 1068.4 685.6 1069.2 686.1 1069.6 686.6 1061.1 687.1 1068.6 687.6 1069.5 688.1 1068.7 688.6 1064.6 689.1 1066.3 689.6 1069.8 690.1 1069.1 690.6 1069.2 691.1 1065.4 691.6 1068.8 692.1 1071.6 692.6 1068.2 693.1 1071.4 693.6 1070.2 694.1 1070.1 694.6 1066.5 695.1 1066.6 695.6 1066.5 696.1 1070.9 696.6 1071.1 697.1 1065.6 697.6 1065.0 698.1 1068.4 698.6 1071.2 699.1 1068.7 699.6 1069.6 700.1 1069.2 700.6 1069.5 701.1 1067.7 701.6 1069.2 702.1 1069.7 702.6 1067.8 703.1 1072.1 703.6 1065.5 704.1 1067.1 704.6 1066.0 705.1 1070.6 705.6 1070.6 706.1 1066.2 706.6 1068.2 707.1 1066.9 707.6 1064.8 708.1 1066.1 708.6 1068.8 709.1 1069.4 709.6 1066.3 710.1 1068.0 710.6 1070.0 711.1 1071.3 711.6 1068.8 712.1 1066.1 712.6 1064.2 713.1 1068.1 713.6 1067.2 714.1 1066.6 714.6 1066.3 715.1 1066.6 715.6 1068.3 716.0 1069.6 716.5 1066.0 717.0 1072.4 717.5 1071.3 718.0 1067.4 718.5 1068.7 719.0 1071.6 719.5 1065.8 720.0 1066.5 720.5 1066.5 721.0 1065.5 721.5 1069.6 722.0 1067.4 722.5 1068.2 723.0 1068.1 723.5 1067.5 724.0 1071.5 724.5 1067.5 725.0 1065.9 725.5 1064.7 726.0 1066.3 726.5 1068.4 727.0 1068.3 727.5 1068.6 728.0 1066.9 728.5 1069.0 729.0 1069.0 729.5 1065.1 730.0 1068.9 730.5 1068.9 731.0 1067.3 731.5 1070.5 732.0 1068.0 732.5 1066.1 733.0 1070.1 733.5 1072.1 734.0 1065.1 734.5 1067.7 735.0 1070.0 735.5 1069.3 736.0 1070.3 736.5 1071.0 737.0 1063.6 737.5 1069.5 738.0 1064.0 738.5 1065.6 739.0 1065.2 739.5 1069.0 740.0 1063.9 740.5 1068.0 741.0 1064.2 741.5 1072.5 742.0 1066.5 742.5 1067.7 743.0 1064.9 743.5 1066.4 744.0 1070.9 744.5 1068.3 745.0 1064.9 745.5 1066.5 746.0 1067.3 746.5 1071.8 747.0 1067.4 747.5 1068.7 747.9 1070.1 748.4 1073.3 748.9 1069.1 749.4 1065.0 749.9 1065.2 750.4 1071.6 750.9 1068.5 751.4 1062.9 751.9 1066.2 752.4 1066.3 752.9 1066.6 753.4 1068.9 753.9 1069.0 754.4 1070.5 754.9 1062.8 755.4 1068.0 755.9 1066.7 756.4 1064.6 756.9 1069.2 757.4 1063.9 757.9 1063.7 758.4 1070.9 758.9 1067.9 759.4 1068.9 759.9 1070.0 760.4 1063.7 760.9 1070.0 761.4 1066.9 761.9 1067.9 762.4 1068.5 762.9 1068.0 763.4 1065.4 763.9 1066.2 764.4 1066.6 764.9 1068.6 765.4 1060.7 765.9 1069.2 766.4 1063.5 766.9 1070.8 767.4 1066.6 767.9 1069.5 768.4 1064.6 768.9 1069.1 769.4 1065.8 769.9 1065.6 770.4 1065.5 770.9 1058.2 771.4 1060.3 771.9 1059.7 772.4 1063.6 772.9 1062.5 773.4 1064.7 773.9 1063.2 774.4 1065.0 774.9 1059.9 775.4 1062.0 775.9 1059.5 776.4 1057.4 776.9 1055.5 777.4 1058.9 777.9 1056.3 778.4 1056.6 778.9 1054.9 779.4 1053.8 779.8 1062.4 780.3 1054.9 780.8 1050.7 781.3 1052.5 781.8 1052.0 782.3 1047.3 782.8 1052.3 783.3 1046.3 783.8 1048.5 784.3 1044.8 784.8 1042.5 785.3 1050.9 785.8 1040.1 786.3 1036.3 786.8 1037.2 787.3 1034.4 787.8 1037.9 788.3 1034.7 788.8 1029.2 789.3 1034.8 789.8 1028.4 790.3 1024.4 790.8 1028.9 791.3 1026.6 791.8 1021.4 792.3 1020.2 792.8 1021.8 793.3 1019.9 793.8 1022.5 794.3 1021.7 794.8 1018.1 795.3 1018.5 795.8 1021.0 796.3 1025.3 796.8 1021.4 797.3 1025.3 797.8 1023.4 798.3 1027.3 798.8 1026.2 799.3 1030.0 799.8 1028.3 800.3 1030.2 800.8 1038.3 801.3 1037.4 801.8 1033.8 802.3 1041.2 802.8 1039.5 803.3 1044.8 803.8 1039.7 804.3 1044.2 804.8 1044.7 805.3 1045.4 805.8 1045.5 806.3 1054.3 806.8 1050.7 807.3 1051.0 807.8 1048.8 808.3 1056.5 808.8 1057.4 809.3 1055.1 809.8 1053.0 810.3 1058.5 810.8 1057.8 811.3 1054.9 811.7 1064.1 812.2 1061.4 812.7 1057.7 813.2 1058.6 813.7 1063.0 814.2 1064.4 814.7 1063.3 815.2 1063.6 815.7 1061.7 816.2 1068.0 816.7 1062.6 817.2 1064.1 817.7 1064.8 818.2 1063.4 818.7 1066.2 819.2 1068.3 819.7 1059.3 820.2 1064.4 820.7 1068.2 821.2 1068.7 821.7 1064.3 822.2 1067.2 822.7 1066.2 823.2 1066.2 823.7 1064.4 824.2 1068.5 824.7 1069.1 825.2 1070.2 825.7 1067.0 826.2 1066.8 826.7 1069.3 827.2 1074.7 827.7 1066.1 828.2 1066.6 828.7 1071.1 829.2 1064.1 829.7 1060.8 830.2 1069.4 830.7 1070.5 831.2 1070.4 831.7 1069.6 832.2 1069.9 832.7 1065.6 833.2 1069.9 833.7 1064.9 834.2 1063.6 834.7 1066.9 835.2 1064.3 835.7 1064.8 836.2 1065.9 836.7 1066.5 837.2 1067.9 837.7 1065.1 838.2 1066.1 838.7 1067.2 839.2 1068.0 839.7 1068.8 840.2 1069.5 840.7 1068.2 841.2 1068.8 841.7 1069.3 842.2 1067.7 842.7 1068.1 843.1 1065.5 843.6 1068.3 844.1 1070.1 844.6 1066.2 845.1 1071.0 845.6 1066.5 846.1 1070.4 846.6 1071.9 847.1 1068.4 847.6 1066.9 848.1 1068.9 848.6 1066.9 849.1 1065.6 849.6 1070.4 850.1 1063.2 850.6 1070.1 851.1 1066.0 851.6 1070.1 852.1 1066.6 852.6 1072.3 853.1 1066.7 853.6 1062.4 854.1 1075.0 854.6 1068.0 855.1 1067.6 855.6 1067.9 856.1 1067.1 856.6 1068.6 857.1 1066.1 857.6 1073.2 858.1 1066.2 858.6 1069.5 859.1 1071.2 859.6 1067.4 860.1 1070.0 860.6 1066.6 861.1 1065.5 861.6 1066.0 862.1 1070.6 862.6 1070.5 863.1 1065.7 863.6 1070.4 864.1 1065.7 864.6 1068.4 865.1 1069.6 865.6 1062.9 866.1 1069.4 866.6 1067.2 867.1 1064.3 867.6 1069.6 868.1 1068.6 868.6 1068.8 869.1 1067.2 869.6 1066.3 870.1 1064.7 870.6 1067.3 871.1 1065.3 871.6 1066.8 872.1 1068.9 872.6 1069.8 873.1 1068.9 873.6 1068.6 874.1 1067.2 874.6 1070.2 875.0 1070.7 875.5 1066.7 876.0 1066.8 876.5 1065.5 877.0 1067.1 877.5 1066.8 878.0 1072.6 878.5 1071.2 879.0 1064.5 879.5 1069.7 880.0 1067.3 880.5 1063.6 881.0 1068.4 881.5 1066.2 882.0 1068.6 882.5 1069.1 883.0 1066.2 883.5 1071.4 884.0 1068.1 884.5 1065.9 885.0 1063.8 885.5 1073.2 886.0 1065.8 886.5 1067.9 887.0 1068.5 887.5 1069.9 888.0 1064.5 888.5 1061.8 889.0 1068.0 889.5 1064.1 890.0 1067.0 890.5 1072.7 891.0 1066.2 891.5 1069.3 892.0 1064.9 892.5 1074.9 893.0 1066.7 893.5 1068.6 894.0 1067.3 894.5 1066.1 895.0 1070.2 895.5 1067.0 896.0 1065.3 896.5 1066.2 897.0 1066.7 897.5 1067.7 898.0 1067.8 898.5 1065.4 899.0 1066.1 899.5 1072.4 900.0 1066.7 900.5 1070.6 901.0 1066.2 901.5 1068.1 902.0 1065.7 902.5 1062.3 903.0 1065.8 903.5 1069.2 904.0 1070.1 904.5 1069.6 905.0 1065.6 905.5 1066.1 906.0 1064.0 906.5 1067.5 906.9 1068.7 907.4 1067.2 907.9 1064.8 908.4 1067.5 908.9 1066.7 909.4 1067.6 909.9 1065.9 910.4 1066.8 910.9 1064.5 911.4 1064.1 911.9 1059.9 912.4 1066.5 912.9 1066.2 913.4 1063.4 913.9 1069.4 914.4 1068.5 914.9 1069.6 915.4 1065.0 915.9 1064.5 916.4 1065.8 916.9 1067.0 917.4 1068.3 917.9 1062.1 918.4 1063.8 918.9 1059.0 919.4 1063.1 919.9 1065.7 920.4 1064.8 920.9 1068.6 921.4 1064.2 921.9 1061.1 922.4 1059.9 922.9 1062.0 923.4 1064.9 923.9 1057.3 924.4 1057.5 924.9 1059.5 925.4 1057.8 925.9 1060.2 926.4 1056.2 926.9 1056.7 927.4 1055.8 927.9 1055.5 928.4 1057.4 928.9 1049.9 929.4 1047.9 929.9 1047.4 930.4 1049.2 930.9 1049.0 931.4 1048.8 931.9 1047.0 932.4 1045.3 932.9 1039.3 933.4 1040.7 933.9 1041.9 934.4 1036.5 934.9 1037.0 935.4 1035.7 935.9 1036.7 936.4 1032.1 936.9 1029.0 937.4 1031.2 937.9 1030.5 938.4 1032.4 938.8 1028.2 939.3 1028.7 939.8 1027.6 940.3 1027.6 940.8 1033.8 941.3 1022.8 941.8 1030.8 942.3 1027.9 942.8 1030.7 943.3 1027.5 943.8 1032.7 944.3 1031.2 944.8 1035.7 945.3 1038.8 945.8 1033.6 946.3 1033.9 946.8 1041.8 947.3 1045.0 947.8 1041.4 948.3 1037.4 948.8 1039.8 949.3 1047.0 949.8 1049.9 950.3 1046.2 950.8 1044.0 951.3 1050.9 951.8 1045.5 952.3 1047.7 952.8 1048.4 953.3 1048.8 953.8 1052.1 954.3 1048.7 954.8 1051.6 955.3 1054.0 955.8 1054.1 956.3 1054.7 956.8 1050.4 957.3 1047.0 957.8 1051.4 958.3 1051.1 958.8 1050.9 959.3 1048.8 959.8 1050.3 960.3 1046.1 960.8 1049.9 961.3 1051.5 961.8 1046.8 962.3 1045.8 962.8 1046.4 963.3 1045.3 963.8 1044.5 964.3 1042.7 964.8 1040.7 965.3 1044.3 965.8 1036.8 966.3 1041.7 966.8 1036.2 967.3 1038.9 967.8 1034.9 968.3 1033.1 968.8 1034.1 969.3 1034.1 969.8 1039.7 970.3 1035.1 970.7 1035.2 971.2 1034.9 971.7 1037.8 972.2 1038.4 972.7 1040.6 973.2 1038.4 973.7 1038.1 974.2 1041.8 974.7 1045.1 975.2 1045.9 975.7 1042.8 976.2 1045.1 976.7 1048.2 977.2 1047.1 977.7 1046.1 978.2 1051.1 978.7 1050.7 979.2 1053.3 979.7 1055.6 980.2 1053.2 980.7 1052.5 981.2 1054.2 981.7 1058.7 982.2 1057.8 982.7 1060.1 983.2 1058.0 983.7 1061.2 984.2 1058.8 984.7 1058.9 985.2 1061.0 985.7 1061.1 986.2 1061.3 986.7 1062.4 987.2 1064.9 987.7 1061.3 988.2 1059.0 988.7 1064.6 989.2 1068.4 989.7 1066.6 990.2 1061.4 990.7 1065.6 991.2 1067.4 991.7 1067.1 992.2 1069.5 992.7 1067.3 993.2 1058.7 993.7 1067.0 994.2 1063.8 994.7 1063.6 995.2 1061.8 995.7 1062.9 996.2 1065.3 996.7 1068.9 997.2 1069.1 997.7 1068.0 998.2 1069.5 998.7 1065.6 999.2 1064.6 999.7 1071.4 1000.2 1067.9 1000.7 1066.0 1001.2 1068.7 1001.7 1065.1 1002.2 1070.8 1002.6 1063.8 1003.1 1065.8 1003.6 1066.7 1004.1 1066.7 1004.6 1064.1 1005.1 1069.3 1005.6 1068.8 1006.1 1067.4 1006.6 1068.7 1007.1 1066.2 1007.6 1069.7 1008.1 1066.0 1008.6 1064.8 1009.1 1067.0 1009.6 1067.0 1010.1 1068.4 1010.6 1069.2 1011.1 1071.7 1011.6 1064.3 1012.1 1063.7 1012.6 1068.3 1013.1 1070.8 1013.6 1070.2 1014.1 1067.4 1014.6 1067.1 1015.1 1067.0 1015.6 1072.0 1016.1 1067.2 1016.6 1068.5 1017.1 1064.8 1017.6 1070.0 1018.1 1067.5 1018.6 1067.2 1019.1 1067.1 1019.6 1067.5 1020.1 1074.4 1020.6 1069.3 1021.1 1069.5 1021.6 1066.0 1022.1 1064.5 1022.6 1062.7 1023.1 1066.5 1023.6 1068.3 1024.1 1068.5 1024.6 1064.4 1025.1 1069.5 1025.6 1066.6 1026.1 1070.7 1026.6 1067.3 1027.1 1068.1 1027.6 1066.2 1028.1 1066.3 1028.6 1068.1 1029.1 1069.4 1029.6 1069.7 1030.1 1066.3 1030.6 1065.0 1031.1 1069.0 1031.6 1071.1 1032.1 1066.8 1032.6 1067.0 1033.1 1066.9 1033.6 1068.8 1034.0 1070.3 1034.5 1065.8 1035.0 1069.1 1035.5 1071.5 1036.0 1069.5 1036.5 1066.2 1037.0 1064.5 1037.5 1068.1 1038.0 1071.3 1038.5 1070.0 1039.0 1071.5 1039.5 1067.2 1040.0 1068.2 1040.5 1066.1 1041.0 1069.4 1041.5 1067.6 1042.0 1066.2 1042.5 1067.2 1043.0 1069.5 1043.5 1070.2 1044.0 1070.0 1044.5 1073.7 1045.0 1069.9 1045.5 1065.9 1046.0 1070.7 1046.5 1066.1 1047.0 1065.5 1047.5 1069.9 1048.0 1066.7 1048.5 1068.2 1049.0 1067.0 1049.5 1067.7 1050.0 1064.0 1050.5 1070.3 1051.0 1071.1 1051.5 1067.6 1052.0 1071.2 1052.5 1070.3 1053.0 1071.1 1053.5 1071.8 1054.0 1065.3 1054.5 1070.2 1055.0 1067.9 1055.5 1070.0 1056.0 1067.6 1056.5 1073.2 1057.0 1072.2 1057.5 1068.2 1058.0 1069.3 1058.5 1068.8 1059.0 1068.9 1059.5 1070.5 1060.0 1065.9 1060.5 1064.8 1061.0 1070.9 1061.5 1069.1 1062.0 1067.2 1062.5 1066.6 1063.0 1064.7 1063.5 1067.6 1064.0 1064.1 1064.5 1068.6 1065.0 1068.9 1065.5 1066.6 1065.9 1070.6 1066.4 1070.0 1066.9 1068.6 1067.4 1066.4 1067.9 1066.6 1068.4 1065.9 1068.9 1063.4 1069.4 1068.1 1069.9 1069.8 1070.4 1064.4 1070.9 1068.9 1071.4 1067.5 1071.9 1068.3 1072.4 1069.8 1072.9 1070.2 1073.4 1066.4 1073.9 1069.8 1074.4 1067.0 1074.9 1061.8 1075.4 1072.9 1075.9 1068.1 1076.4 1067.2 1076.9 1071.2 1077.4 1069.1 1077.9 1066.6 1078.4 1068.5 1078.9 1068.7 1079.4 1067.5 1079.9 1062.2 1080.4 1068.3 1080.9 1065.6 1081.4 1065.4 1081.9 1068.0 1082.4 1073.1 1082.9 1065.0 1083.4 1068.6 1083.9 1064.3 1084.4 1064.0 1084.9 1067.0 1085.4 1070.1 1085.9 1068.5 1086.4 1068.5 1086.9 1070.8 1087.4 1069.0 1087.9 1066.4 1088.4 1065.5 1088.9 1067.1 1089.4 1068.7 1089.9 1067.0 1090.4 1067.3 1090.9 1066.5 1091.4 1065.9 1091.9 1064.9 1092.4 1065.9 1092.9 1072.1 1093.4 1070.4 1093.9 1071.1 1094.4 1068.1 1094.9 1067.5 1095.4 1069.7 1095.9 1066.9 1096.4 1070.5 1096.9 1068.1 1097.4 1069.7 1097.8 1065.9 1098.3 1072.1 1098.8 1068.3 1099.3 1069.4 1099.8 1065.9 1100.3 1066.1 1100.8 1069.4 1101.3 1063.8 1101.8 1070.7 1102.3 1066.3 1102.8 1070.0 1103.3 1066.1 1103.8 1067.6 1104.3 1067.9 1104.8 1069.9 1105.3 1065.6 1105.8 1069.0 1106.3 1068.4 1106.8 1069.5 1107.3 1065.6 1107.8 1067.6 1108.3 1065.8 1108.8 1066.7 1109.3 1070.2 1109.8 1070.4 1110.3 1065.3 1110.8 1067.2 1111.3 1067.4 1111.8 1065.2 1112.3 1066.6 1112.8 1064.9 1113.3 1068.8 1113.8 1065.2 1114.3 1070.9 1114.8 1062.7 1115.3 1068.8 1115.8 1068.9 1116.3 1065.8 1116.8 1063.3 1117.3 1067.8 1117.8 1064.4 1118.3 1069.9 1118.8 1067.5 1119.3 1067.2 1119.8 1067.5 1120.3 1069.0 1120.8 1067.1 1121.3 1068.5 1121.8 1068.0 1122.3 1065.8 1122.8 1069.7 1123.3 1070.9 1123.8 1069.6 1124.3 1067.2 1124.8 1068.5 1125.3 1064.3 1125.8 1064.8 1126.3 1064.7 1126.8 1065.3 1127.3 1068.7 1127.8 1064.6 1128.3 1065.0 1128.8 1062.9 1129.3 1064.8 1129.7 1062.4 1130.2 1068.4 1130.7 1065.8 1131.2 1068.3 1131.7 1069.3 1132.2 1067.1 1132.7 1066.7 1133.2 1066.1 1133.7 1064.6 1134.2 1060.3 1134.7 1065.8 1135.2 1063.6 1135.7 1062.8 1136.2 1063.6 1136.7 1064.8 1137.2 1066.3 1137.7 1062.1 1138.2 1061.3 1138.7 1066.7 1139.2 1065.2 1139.7 1065.6 1140.2 1062.8 1140.7 1059.8 1141.2 1066.0 1141.7 1065.5 1142.2 1060.8 1142.7 1062.9 1143.2 1064.2 1143.7 1067.1 1144.2 1063.7 1144.7 1061.7 1145.2 1059.4 1145.7 1058.4 1146.2 1058.8 1146.7 1056.9 1147.2 1059.4 1147.7 1057.7 1148.2 1056.2 1148.7 1053.7 1149.2 1055.7 1149.7 1054.0 1150.2 1055.0 1150.7 1051.1 1151.2 1054.2 1151.7 1051.6 1152.2 1055.7 1152.7 1048.6 1153.2 1054.3 1153.7 1055.8 1154.2 1048.1 1154.7 1052.4 1155.2 1049.6 1155.7 1043.4 1156.2 1044.4 1156.7 1047.6 1157.2 1045.5 1157.7 1046.5 1158.2 1045.1 1158.7 1047.4 1159.2 1043.2 1159.7 1041.2 1160.2 1042.2 1160.7 1043.8 1161.2 1042.0 1161.6 1044.3 1162.1 1044.3 1162.6 1044.5 1163.1 1045.6 1163.6 1045.4 1164.1 1049.3 1164.6 1047.8 1165.1 1050.1 1165.6 1045.5 1166.1 1049.8 1166.6 1049.3 1167.1 1046.5 1167.6 1056.8 1168.1 1049.5 1168.6 1055.4 1169.1 1055.9 1169.6 1057.6 1170.1 1054.4 1170.6 1050.1 1171.1 1058.3 1171.6 1057.1 1172.1 1059.5 1172.6 1058.1 1173.1 1062.1 1173.6 1060.8 1174.1 1059.2 1174.6 1066.2 1175.1 1059.5 1175.6 1056.1 1176.1 1061.9 1176.6 1063.2 1177.1 1063.7 1177.6 1061.4 1178.1 1062.9 1178.6 1061.2 1179.1 1062.5 1179.6 1065.3 1180.1 1062.7 1180.6 1065.9 1181.1 1063.8 1181.6 1064.7 1182.1 1063.9 1182.6 1067.6 1183.1 1065.3 1183.6 1063.3 1184.1 1065.6 1184.6 1068.2 1185.1 1066.2 1185.6 1063.1 1186.1 1063.9 1186.6 1063.4 1187.1 1069.2 1187.6 1066.4 1188.1 1068.1 1188.6 1068.1 1189.1 1065.4 1189.6 1068.9 1190.1 1066.0 1190.6 1067.1 1191.1 1061.6 1191.6 1066.2 1192.1 1065.5 1192.6 1064.7 1193.1 1067.0 1193.5 1063.6 1194.0 1066.0 1194.5 1060.5 1195.0 1066.1 1195.5 1065.0 1196.0 1070.8 1196.5 1067.2 1197.0 1068.2 1197.5 1059.8 1198.0 1065.7 1198.5 1064.0 1199.0 1070.0 1199.5 1069.1 1200.0 1067.1 1200.5 1067.3 1201.0 1067.1 1201.5 1066.8 1202.0 1068.4 1202.5 1068.3 1203.0 1066.6 1203.5 1065.2 1204.0 1070.8 1204.5 1065.9 1205.0 1065.2 1205.5 1072.5 1206.0 1067.3 1206.5 1066.7 1207.0 1063.8 1207.5 1064.6 1208.0 1070.4 1208.5 1066.3 1209.0 1069.9 1209.5 1064.5 1210.0 1069.1 1210.5 1067.5 1211.0 1066.2 1211.5 1063.0 1212.0 1070.4 1212.5 1067.6 1213.0 1067.2 1213.5 1069.4 1214.0 1064.9 1214.5 1070.7 1215.0 1069.3 1215.5 1068.7 1216.0 1068.8 1216.5 1065.8 1217.0 1067.0 1217.5 1068.4 1218.0 1066.2 1218.5 1070.6 1219.0 1069.4 1219.5 1070.7 1220.0 1063.8 1220.5 1071.1 1221.0 1066.2 1221.5 1065.6 1222.0 1066.7 1222.5 1070.8 1223.0 1068.5 1223.5 1068.4 1224.0 1069.9 1224.5 1070.0 1224.9 1070.1 1225.4 1069.6 1225.9 1068.1 1226.4 1068.6 1226.9 1064.1 1227.4 1067.0 1227.9 1062.1 1228.4 1067.1 1228.9 1067.6 1229.4 1065.5 1229.9 1066.1 1230.4 1069.9 1230.9 1066.5 1231.4 1067.4 1231.9 1071.9 1232.4 1068.1 1232.9 1069.5 1233.4 1068.4 1233.9 1068.7 1234.4 1070.0 1234.9 1066.8 1235.4 1069.1 1235.9 1066.1 1236.4 1066.3 1236.9 1068.7 1237.4 1065.8 1237.9 1061.0 1238.4 1066.7 1238.9 1070.3 1239.4 1064.8 1239.9 1068.6 1240.4 1066.3 1240.9 1063.6 1241.4 1066.4 1241.9 1061.7 1242.4 1070.0 1242.9 1066.2 1243.4 1068.0 1243.9 1067.1 1244.4 1063.5 1244.9 1066.1 1245.4 1069.9 1245.9 1069.0 1246.4 1066.2 1246.9 1065.3 1247.4 1066.8 1247.9 1063.9 1248.4 1067.6 1248.9 1063.1 1249.4 1065.2 1249.9 1069.0 1250.4 1067.0 1250.9 1065.4 1251.4 1067.3 1251.9 1066.3 1252.4 1067.6 1252.9 1069.5 1253.4 1066.7 1253.9 1062.9 1254.4 1068.0 1254.9 1065.1 1255.4 1069.7 1255.9 1069.3 1256.4 1066.9 1256.8 1068.1 1257.3 1063.5 1257.8 1062.8 1258.3 1066.1 1258.8 1067.8 1259.3 1070.2 1259.8 1065.4 1260.3 1064.8 1260.8 1064.9 1261.3 1065.2 1261.8 1067.4 1262.3 1063.6 1262.8 1068.7 1263.3 1063.8 1263.8 1072.3 1264.3 1066.6 1264.8 1067.1 1265.3 1063.0 1265.8 1067.6 1266.3 1062.4 1266.8 1068.9 1267.3 1065.4 1267.8 1067.5 1268.3 1068.1 1268.8 1069.1 1269.3 1070.1 1269.8 1069.5 1270.3 1068.6 1270.8 1065.4 1271.3 1064.1 1271.8 1068.6 1272.3 1067.6 1272.8 1065.6 1273.3 1066.6 1273.8 1069.0 1274.3 1068.9 1274.8 1065.3 1275.3 1063.6 1275.8 1062.2 1276.3 1065.6 1276.8 1065.9 1277.3 1063.5 1277.8 1069.1 1278.3 1071.1 1278.8 1064.8 1279.3 1068.3 1279.8 1066.3 1280.3 1067.9 1280.8 1066.9 1281.3 1066.2 1281.8 1068.6 1282.3 1068.0 1282.8 1065.4 1283.3 1067.4 1283.8 1064.8 1284.3 1066.1 1284.8 1067.6 1285.3 1067.2 1285.8 1062.4 1286.3 1067.4 1286.8 1063.1 1287.3 1066.4 1287.8 1067.4 1288.3 1062.2 1288.7 1063.1 1289.2 1067.5 1289.7 1066.2 1290.2 1060.4 1290.7 1067.5 1291.2 1063.7 1291.7 1062.2 1292.2 1065.5 1292.7 1063.2 1293.2 1064.7 1293.7 1065.0 1294.2 1070.0 1294.7 1066.2 1295.2 1064.5 1295.7 1063.9 1296.2 1064.3 1296.7 1064.4 1297.2 1061.5 1297.7 1063.9 1298.2 1060.8 1298.7 1060.8 1299.2 1061.6 1299.7 1063.9 1300.2 1063.1 1300.7 1053.9 1301.2 1063.4 1301.7 1060.3 1302.2 1059.9 1302.7 1062.8 1303.2 1057.2 1303.7 1056.1 1304.2 1053.4 1304.7 1054.9 1305.2 1059.2 1305.7 1055.0 1306.2 1054.0 1306.7 1057.0 1307.2 1053.3 1307.7 1053.6 1308.2 1053.2 1308.7 1055.7 1309.2 1052.9 1309.7 1053.1 1310.2 1053.7 1310.7 1049.7 1311.2 1053.3 1311.7 1049.6 1312.2 1051.1 1312.7 1052.8 1313.2 1054.3 1313.7 1053.6 1314.2 1056.9 1314.7 1054.9 1315.2 1056.2 1315.7 1054.0 1316.2 1054.0 1316.7 1059.8 1317.2 1052.3 1317.7 1059.3 1318.2 1055.1 1318.7 1058.9 1319.2 1054.6 1319.7 1059.2 1320.2 1059.2 1320.6 1053.8 1321.1 1057.6 1321.6 1061.0 1322.1 1062.2 1322.6 1060.9 1323.1 1059.1 1323.6 1060.6 1324.1 1058.0 1324.6 1058.9 1325.1 1062.0 1325.6 1061.7 1326.1 1063.6 1326.6 1062.5 1327.1 1063.6 1327.6 1062.2 1328.1 1064.0 1328.6 1068.5 1329.1 1060.5 1329.6 1063.2 1330.1 1061.8 1330.6 1064.1 1331.1 1064.1 1331.6 1061.1 1332.1 1063.4 1332.6 1063.5 1333.1 1062.7 1333.6 1063.7 1334.1 1066.2 1334.6 1064.3 1335.1 1062.1 1335.6 1063.2 1336.1 1067.2 1336.6 1060.9 1337.1 1064.9 1337.6 1060.5 1338.1 1058.1 1338.6 1060.1 1339.1 1062.3 1339.6 1060.7 1340.1 1059.4 1340.6 1059.0 1341.1 1058.3 1341.6 1057.8 1342.1 1058.7 1342.6 1054.0 1343.1 1060.6 1343.6 1060.0 1344.1 1059.4 1344.6 1061.0 1345.1 1057.3 1345.6 1058.5 1346.1 1052.2 1346.6 1058.6 1347.1 1057.1 1347.6 1059.4 1348.1 1059.9 1348.6 1057.4 1349.1 1054.9 1349.6 1058.7 1350.1 1059.9 1350.6 1060.2 1351.1 1056.9 1351.6 1056.1 1352.1 1057.9 1352.5 1056.2 1353.0 1053.8 1353.5 1060.0 1354.0 1060.4 1354.5 1061.2 1355.0 1057.9 1355.5 1060.1 1356.0 1057.7 1356.5 1057.3 1357.0 1062.2 1357.5 1057.1 1358.0 1060.8 1358.5 1067.5 1359.0 1065.1 1359.5 1064.1 1360.0 1064.1 1360.5 1062.5 1361.0 1061.8 1361.5 1068.2 1362.0 1063.2 1362.5 1062.4 1363.0 1065.6 1363.5 1064.1 1364.0 1067.5 1364.5 1063.1 1365.0 1062.8 1365.5 1063.9 1366.0 1068.8 1366.5 1067.3 1367.0 1065.9 1367.5 1065.6 1368.0 1066.3 1368.5 1063.3 1369.0 1066.9 1369.5 1064.6 1370.0 1066.4 1370.5 1066.0 1371.0 1066.7 1371.5 1065.0 1372.0 1068.4 1372.5 1067.1 1373.0 1064.5 1373.5 1067.4 1374.0 1065.6 1374.5 1067.3 1375.0 1068.5 1375.5 1065.4 1376.0 1066.5 1376.5 1066.8 1377.0 1066.7 1377.5 1071.5 1378.0 1067.5 1378.5 1064.0 1379.0 1067.0 1379.5 1065.5 1380.0 1072.6 1380.5 1065.3 1381.0 1064.3 1381.5 1068.6 1382.0 1065.7 1382.5 1066.0 1383.0 1066.4 1383.5 1065.4 1384.0 1066.0 1384.4 1061.8 1384.9 1066.8 1385.4 1068.5 1385.9 1071.4 1386.4 1067.2 1386.9 1069.0 1387.4 1065.4 1387.9 1070.5 1388.4 1072.4 1388.9 1067.9 1389.4 1066.3 1389.9 1067.3 1390.4 1070.8 1390.9 1064.2 1391.4 1070.2 1391.9 1064.8 1392.4 1065.2 1392.9 1067.8 1393.4 1068.7 1393.9 1069.5 1394.4 1070.6 1394.9 1064.6 1395.4 1067.4 1395.9 1069.0 1396.4 1067.9 1396.9 1069.9 1397.4 1067.3 1397.9 1066.5 1398.4 1062.0 1398.9 1062.8 1399.4 1069.1 1399.9 1064.5 1400.4 1068.0 1400.9 1068.8 1401.4 1067.0 1401.9 1069.6 1402.4 1065.7 1402.9 1068.6 1403.4 1067.0 1403.9 1063.7 1404.4 1062.5 1404.9 1066.8 1405.4 1071.1 1405.9 1070.0 1406.4 1068.4 1406.9 1069.1 1407.4 1069.4 1407.9 1066.7 1408.4 1070.3 1408.9 1067.9 1409.4 1066.0 1409.9 1076.3 1410.4 1068.8 1410.9 1066.9 1411.4 1069.0 1411.9 1064.3 1412.4 1064.3 1412.9 1071.7 1413.4 1068.7 1413.9 1064.6 1414.4 1063.3 1414.9 1066.9 1415.4 1064.7 1415.8 1070.3 1416.3 1062.6 1416.8 1070.0 1417.3 1064.7 1417.8 1064.1 1418.3 1067.2 1418.8 1064.1 1419.3 1065.7 1419.8 1065.7 1420.3 1061.3 1420.8 1064.2 1421.3 1067.8 1421.8 1062.0 1422.3 1063.7 1422.8 1064.8 1423.3 1069.1 1423.8 1069.1 1424.3 1070.4 1424.8 1064.6 1425.3 1068.8 1425.8 1067.4 1426.3 1063.7 1426.8 1068.0 1427.3 1066.7 1427.8 1065.1 1428.3 1064.1 1428.8 1062.8 1429.3 1067.8 1429.8 1067.7 1430.3 1065.9 1430.8 1065.6 1431.3 1065.1 1431.8 1068.3 1432.3 1066.9 1432.8 1062.2 1433.3 1066.6 1433.8 1067.5 1434.3 1064.8 1434.8 1065.1 1435.3 1064.8 1435.8 1067.6 1436.3 1065.1 1436.8 1065.9 1437.3 1066.2 1437.8 1069.6 1438.3 1062.2 1438.8 1071.3 1439.3 1062.8 1439.8 1065.1 1440.3 1063.6 1440.8 1065.7 1441.3 1066.6 1441.8 1070.8 1442.3 1068.0 1442.8 1063.4 1443.3 1065.4 1443.8 1065.0 1444.3 1063.0 1444.8 1065.9 1445.3 1064.9 1445.8 1063.1 1446.3 1062.3 1446.8 1065.5 1447.3 1063.3 1447.7 1066.2 1448.2 1065.2 1448.7 1060.0 1449.2 1057.6 1449.7 1062.5 1450.2 1060.5 1450.7 1059.4 1451.2 1059.8 1451.7 1064.7 1452.2 1060.4 1452.7 1065.1 1453.2 1062.1 1453.7 1055.7 1454.2 1060.5 1454.7 1062.6 1455.2 1054.3 1455.7 1055.1 1456.2 1057.4 1456.7 1055.9 1457.2 1060.8 1457.7 1054.2 1458.2 1059.9 1458.7 1051.9 1459.2 1052.7 1459.7 1055.1 1460.2 1055.0 1460.7 1053.6 1461.2 1056.7 1461.7 1056.7 1462.2 1056.6 1462.7 1051.2 1463.2 1053.2 1463.7 1050.0 1464.2 1053.8 1464.7 1044.5 1465.2 1048.2 1465.7 1049.1 1466.2 1048.3 1466.7 1053.2 1467.2 1045.9 1467.7 1047.3 1468.2 1046.5 1468.7 1049.4 1469.2 1047.4 1469.7 1052.1 1470.2 1052.2 1470.7 1045.3 1471.2 1045.6 1471.7 1053.0 1472.2 1052.4 1472.7 1048.0 1473.2 1052.2 1473.7 1049.8 1474.2 1055.2 1474.7 1050.6 1475.2 1052.8 1475.7 1055.9 1476.2 1055.4 1476.7 1058.3 1477.2 1057.3 1477.7 1053.1 1478.2 1057.8 1478.7 1055.0 1479.2 1061.6 1479.6 1062.4 1480.1 1061.8 1480.6 1064.7 1481.1 1061.7 1481.6 1063.8 1482.1 1062.8 1482.6 1063.0 1483.1 1063.3 1483.6 1062.3 1484.1 1066.2 1484.6 1059.5 1485.1 1058.6 1485.6 1060.8 1486.1 1066.7 1486.6 1062.5 1487.1 1061.4 1487.6 1061.5 1488.1 1064.8 1488.6 1063.8 1489.1 1067.0 1489.6 1063.5 1490.1 1066.6 1490.6 1062.5 1491.1 1066.0 1491.6 1072.1 1492.1 1064.5 1492.6 1064.7 1493.1 1067.5 1493.6 1062.9 1494.1 1064.3 1494.6 1064.1 1495.1 1066.2 1495.6 1062.3 1496.1 1069.1 1496.6 1066.1 1497.1 1066.3 1497.6 1065.5 1498.1 1065.9 1498.6 1060.5 1499.1 1069.2 1499.6 1064.0 1500.1 1068.2 1500.6 1065.9 1501.1 1065.8 1501.6 1067.5 1502.1 1070.4 1502.6 1066.2 1503.1 1065.0 1503.6 1067.6 1504.1 1060.5 1504.6 1064.4 1505.1 1064.2 1505.6 1065.7 1506.1 1063.3 1506.6 1068.7 1507.1 1065.9 1507.6 1067.0 1508.1 1066.7 1508.6 1065.9 1509.1 1065.1 1509.6 1069.8 1510.1 1068.8 1510.6 1070.4 1511.1 1066.4 1511.5 1067.5 1512.0 1067.7 1512.5 1066.0 1513.0 1066.8 1513.5 1063.0 1514.0 1064.0 1514.5 1064.7 1515.0 1064.1 1515.5 1067.9 1516.0 1067.8 1516.5 1067.9 1517.0 1066.3 1517.5 1069.4 1518.0 1069.1 1518.5 1068.3 1519.0 1066.1 1519.5 1070.7 1520.0 1064.1 1520.5 1063.0 1521.0 1063.8 1521.5 1069.9 1522.0 1067.2 1522.5 1065.6 1523.0 1061.4 1523.5 1066.5 1524.0 1064.6 1524.5 1062.0 1525.0 1069.6 1525.5 1067.1 1526.0 1070.4 1526.5 1067.0 1527.0 1068.4 1527.5 1065.4 1528.0 1068.5 1528.5 1066.1 1529.0 1068.5 1529.5 1067.6 1530.0 1064.4 1530.5 1067.1 1531.0 1067.5 1531.5 1065.4 1532.0 1066.8 1532.5 1069.3 1533.0 1070.0 1533.5 1067.2 1534.0 1061.6 1534.5 1068.9 1535.0 1071.5 1535.5 1066.5 1536.0 1065.0 1536.5 1067.8 1537.0 1067.6 1537.5 1069.2 1538.0 1065.6 1538.5 1071.3 1539.0 1069.3 1539.5 1064.7 1540.0 1069.6 1540.5 1066.8 1541.0 1068.8 1541.5 1068.0 1542.0 1067.2 1542.5 1067.9 1543.0 1066.1 1543.4 1065.3 1543.9 1066.5 1544.4 1066.4 1544.9 1068.0 1545.4 1067.5 1545.9 1063.2 1546.4 1069.1 1546.9 1067.0 1547.4 1069.2 1547.9 1068.7 1548.4 1067.8 1548.9 1068.5 1549.4 1063.7 1549.9 1070.8 1550.4 1071.8 1550.9 1068.6 1551.4 1065.9 1551.9 1068.8 1552.4 1066.3 1552.9 1071.0 1553.4 1066.1 1553.9 1064.3 1554.4 1065.1 1554.9 1065.3 1555.4 1068.8 1555.9 1067.0 1556.4 1067.8 1556.9 1066.3 1557.4 1070.3 1557.9 1067.2 1558.4 1067.6 1558.9 1070.9 1559.4 1067.8 1559.9 1065.9 1560.4 1066.5 1560.9 1069.9 1561.4 1068.0 1561.9 1065.3 1562.4 1069.9 1562.9 1063.6 1563.4 1062.0 1563.9 1064.8 1564.4 1062.6 1564.9 1066.6 1565.4 1067.2 1565.9 1066.5 1566.4 1065.7 1566.9 1064.6 1567.4 1069.3 1567.9 1062.4 1568.4 1068.8 1568.9 1067.7 1569.4 1066.9 1569.9 1068.2 1570.4 1063.4 1570.9 1069.4 1571.4 1068.3 1571.9 1069.8 1572.4 1062.1 1572.9 1067.7 1573.4 1066.8 1573.9 1061.6 1574.4 1066.3 1574.9 1067.2 1575.3 1065.2 1575.8 1068.0 1576.3 1068.4 1576.8 1066.0 1577.3 1066.2 1577.8 1068.9 1578.3 1064.7 1578.8 1068.3 1579.3 1070.3 1579.8 1067.0 1580.3 1068.0 1580.8 1067.1 1581.3 1069.0 1581.8 1063.5 1582.3 1063.0 1582.8 1065.0 1583.3 1065.6 1583.8 1069.4 1584.3 1070.3 1584.8 1068.5 1585.3 1070.1 1585.8 1066.1 1586.3 1065.8 1586.8 1063.4 1587.3 1069.8 1587.8 1068.3 1588.3 1067.0 1588.8 1063.8 1589.3 1064.6 1589.8 1068.2 1590.3 1067.0 1590.8 1069.7" stroke="#1a6ddf" stroke-width="7"/><path d="M95.5 958.3 96.0 952.7 96.5 949.6 97.0 957.1 97.5 967.4 98.0 969.6 98.5 952.4 99.0 960.3 99.5 952.5 100.0 958.7 100.5 939.2 101.0 953.1 101.5 945.7 102.0 966.2 102.5 954.6 103.0 959.9 103.5 957.2 104.0 948.6 104.5 960.9 105.0 963.8 105.5 958.4 106.0 960.5 106.5 964.0 107.0 960.6 107.5 956.3 108.0 946.8 108.5 951.7 109.0 952.2 109.5 961.8 110.0 965.5 110.5 957.2 111.0 963.3 111.4 942.0 111.9 958.8 112.4 949.6 112.9 963.0 113.4 965.0 113.9 964.2 114.4 962.1 114.9 964.3 115.4 968.5 115.9 953.9 116.4 967.1 116.9 955.2 117.4 948.6 117.9 961.0 118.4 962.1 118.9 959.3 119.4 953.3 119.9 961.2 120.4 955.9 120.9 972.8 121.4 959.6 121.9 959.9 122.4 954.1 122.9 961.2 123.4 967.9 123.9 952.9 124.4 955.1 124.9 945.3 125.4 956.9 125.9 967.4 126.4 949.8 126.9 954.8 127.4 952.5 127.9 955.4 128.4 952.3 128.9 954.9 129.4 950.1 129.9 958.4 130.4 963.1 130.9 961.9 131.4 945.3 131.9 965.3 132.4 961.5 132.9 964.2 133.4 951.5 133.9 953.2 134.4 961.2 134.9 968.0 135.4 951.0 135.9 958.7 136.4 959.7 136.9 954.7 137.4 959.1 137.9 953.7 138.4 965.0 138.9 946.7 139.4 958.8 139.9 953.7 140.4 956.5 140.9 951.1 141.4 938.0 141.9 966.3 142.4 961.4 142.9 959.4 143.3 956.6 143.8 958.8 144.3 954.8 144.8 957.5 145.3 965.5 145.8 952.9 146.3 951.4 146.8 968.5 147.3 953.7 147.8 958.1 148.3 955.7 148.8 960.4 149.3 960.7 149.8 957.4 150.3 950.6 150.8 950.7 151.3 957.1 151.8 968.0 152.3 945.4 152.8 955.9 153.3 959.4 153.8 952.9 154.3 957.9 154.8 955.7 155.3 961.3 155.8 966.7 156.3 954.3 156.8 958.1 157.3 959.0 157.8 957.1 158.3 956.2 158.8 942.7 159.3 956.6 159.8 949.3 160.3 953.2 160.8 958.5 161.3 959.3 161.8 952.9 162.3 952.7 162.8 953.8 163.3 948.9 163.8 965.1 164.3 966.3 164.8 954.1 165.3 965.3 165.8 960.0 166.3 948.4 166.8 960.8 167.3 959.1 167.8 955.8 168.3 945.7 168.8 951.0 169.3 940.2 169.8 954.3 170.3 952.6 170.8 947.3 171.3 946.4 171.8 962.4 172.3 944.5 172.8 958.4 173.3 954.4 173.8 961.3 174.3 943.3 174.8 954.0 175.2 961.0 175.7 952.0 176.2 944.0 176.7 940.5 177.2 948.1 177.7 958.7 178.2 961.7 178.7 952.3 179.2 957.3 179.7 957.8 180.2 955.1 180.7 945.8 181.2 955.4 181.7 944.3 182.2 951.0 182.7 955.0 183.2 956.5 183.7 948.6 184.2 956.1 184.7 958.2 185.2 954.4 185.7 947.7 186.2 949.5 186.7 947.2 187.2 947.0 187.7 950.7 188.2 952.5 188.7 945.2 189.2 949.2 189.7 945.5 190.2 944.2 190.7 936.4 191.2 944.2 191.7 940.3 192.2 942.0 192.7 945.6 193.2 943.0 193.7 941.8 194.2 933.1 194.7 925.1 195.2 931.5 195.7 932.5 196.2 932.4 196.7 938.2 197.2 930.1 197.7 935.4 198.2 922.2 198.7 916.1 199.2 926.2 199.7 911.6 200.2 906.4 200.7 910.2 201.2 913.1 201.7 914.9 202.2 905.0 202.7 907.3 203.2 897.9 203.7 884.0 204.2 883.1 204.7 875.1 205.2 879.4 205.7 862.4 206.2 860.9 206.7 858.5 207.1 862.7 207.6 853.4 208.1 840.1 208.6 835.5 209.1 823.9 209.6 832.8 210.1 795.2 210.6 781.8 211.1 770.4 211.6 760.6 212.1 753.4 212.6 746.4 213.1 723.0 213.6 705.6 214.1 687.9 214.6 670.3 215.1 642.3 215.6 629.6 216.1 601.6 216.6 578.4 217.1 553.9 217.6 526.4 218.1 498.9 218.6 458.7 219.1 436.2 219.6 392.2 220.1 356.8 220.6 335.3 221.1 308.2 221.6 277.3 222.1 246.1 222.6 220.2 223.1 177.0 223.6 159.9 224.1 140.1 224.6 118.0 225.1 110.2 225.6 101.0 226.1 92.7 226.6 89.2 227.1 105.0 227.6 97.8 228.1 108.3 228.6 130.5 229.1 152.7 229.6 157.6 230.1 181.7 230.6 223.1 231.1 250.6 231.6 279.3 232.1 303.8 232.6 341.4 233.1 360.7 233.6 394.3 234.1 442.4 234.6 455.9 235.1 492.5 235.6 526.1 236.1 551.8 236.6 569.5 237.1 597.5 237.6 628.4 238.1 644.4 238.6 678.2 239.0 686.9 239.5 717.3 240.0 723.2 240.5 746.8 241.0 756.8 241.5 768.4 242.0 772.5 242.5 796.3 243.0 804.2 243.5 816.1 244.0 820.1 244.5 826.4 245.0 834.3 245.5 847.1 246.0 860.3 246.5 859.0 247.0 860.2 247.5 867.4 248.0 870.5 248.5 872.2 249.0 884.2 249.5 886.6 250.0 892.1 250.5 909.4 251.0 906.7 251.5 912.8 252.0 906.8 252.5 910.8 253.0 906.6 253.5 902.8 254.0 905.9 254.5 915.1 255.0 922.0 255.5 934.3 256.0 921.5 256.5 913.8 257.0 922.1 257.5 928.5 258.0 919.2 258.5 924.2 259.0 931.1 259.5 929.4 260.0 931.9 260.5 930.2 261.0 930.1 261.5 939.0 262.0 936.5 262.5 932.7 263.0 934.6 263.5 931.1 264.0 931.1 264.5 934.0 265.0 932.7 265.5 947.0 266.0 932.8 266.5 933.6 267.0 943.9 267.5 924.9 268.0 930.9 268.5 937.7 269.0 930.9 269.5 928.9 270.0 923.6 270.5 928.4 270.9 923.5 271.4 933.8 271.9 930.4 272.4 924.7 272.9 933.1 273.4 919.3 273.9 919.8 274.4 929.2 274.9 926.0 275.4 916.9 275.9 919.0 276.4 921.9 276.9 919.1 277.4 924.2 277.9 922.1 278.4 925.7 278.9 922.2 279.4 924.9 279.9 920.1 280.4 925.3 280.9 925.3 281.4 927.7 281.9 925.9 282.4 921.7 282.9 924.2 283.4 933.0 283.9 924.0 284.4 926.6 284.9 936.5 285.4 931.4 285.9 932.4 286.4 923.5 286.9 924.2 287.4 932.2 287.9 944.2 288.4 921.1 288.9 922.6 289.4 937.1 289.9 936.0 290.4 929.3 290.9 941.6 291.4 938.0 291.9 934.7 292.4 937.9 292.9 935.8 293.4 941.7 293.9 936.3 294.4 934.4 294.9 937.6 295.4 944.9 295.9 950.1 296.4 940.0 296.9 938.3 297.4 946.9 297.9 952.4 298.4 943.8 298.9 955.9 299.4 942.4 299.9 956.3 300.4 952.3 300.9 938.2 301.4 952.2 301.9 948.0 302.3 948.6 302.8 945.6 303.3 950.5 303.8 946.7 304.3 951.8 304.8 957.8 305.3 959.9 305.8 958.6 306.3 957.4 306.8 955.0 307.3 951.3 307.8 946.0 308.3 959.1 308.8 950.5 309.3 954.5 309.8 945.2 310.3 956.4 310.8 962.2 311.3 953.4 311.8 959.6 312.3 953.4 312.8 955.4 313.3 951.6 313.8 938.4 314.3 957.0 314.8 957.8 315.3 958.5 315.8 965.4 316.3 960.7 316.8 958.0 317.3 951.3 317.8 973.1 318.3 947.3 318.8 953.2 319.3 952.6 319.8 962.2 320.3 957.8 320.8 959.1 321.3 945.2 321.8 952.8 322.3 962.3 322.8 953.0 323.3 948.5 323.8 957.4 324.3 952.6 324.8 956.2 325.3 958.4 325.8 950.3 326.3 956.1 326.8 964.6 327.3 954.9 327.8 955.2 328.3 953.1 328.8 958.6 329.3 959.8 329.8 951.3 330.3 957.4 330.8 966.9 331.3 946.7 331.8 962.8 332.3 962.2 332.8 947.5 333.3 946.7 333.8 953.3 334.2 965.3 334.7 952.9 335.2 957.0 335.7 957.6 336.2 956.3 336.7 969.0 337.2 958.6 337.7 949.7 338.2 958.7 338.7 960.9 339.2 950.3 339.7 958.1 340.2 953.2 340.7 948.9 341.2 951.4 341.7 961.9 342.2 955.9 342.7 946.9 343.2 961.4 343.7 955.1 344.2 938.9 344.7 950.3 345.2 942.5 345.7 953.2 346.2 974.0 346.7 969.6 347.2 958.8 347.7 951.9 348.2 950.0 348.7 952.6 349.2 958.8 349.7 965.0 350.2 957.7 350.7 965.1 351.2 956.6 351.7 944.5 352.2 959.4 352.7 963.8 353.2 961.2 353.7 964.4 354.2 951.9 354.7 956.0 355.2 957.9 355.7 959.9 356.2 961.3 356.7 963.9 357.2 955.3 357.7 951.3 358.2 955.1 358.7 956.7 359.2 955.2 359.7 952.2 360.2 963.4 360.7 964.0 361.2 964.1 361.7 962.9 362.2 961.4 362.7 955.3 363.2 955.7 363.7 960.0 364.2 946.8 364.7 959.7 365.2 946.1 365.7 969.6 366.1 962.2 366.6 954.4 367.1 958.2 367.6 955.2 368.1 967.9 368.6 965.3 369.1 959.1 369.6 955.4 370.1 962.2 370.6 960.2 371.1 958.4 371.6 955.5 372.1 949.2 372.6 950.3 373.1 954.2 373.6 948.7 374.1 953.0 374.6 969.8 375.1 959.0 375.6 963.2 376.1 955.2 376.6 967.2 377.1 959.7 377.6 963.9 378.1 965.8 378.6 961.7 379.1 971.0 379.6 953.4 380.1 957.1 380.6 962.2 381.1 958.6 381.6 962.0 382.1 972.6 382.6 957.4 383.1 960.9 383.6 956.1 384.1 954.2 384.6 947.5 385.1 962.3 385.6 968.0 386.1 959.6 386.6 966.9 387.1 951.2 387.6 958.3 388.1 958.6 388.6 964.1 389.1 959.8 389.6 962.9 390.1 968.7 390.6 952.7 391.1 958.9 391.6 962.1 392.1 955.5 392.6 961.9 393.1 948.8 393.6 953.4 394.1 958.1 394.6 948.5 395.1 973.1 395.6 971.3 396.1 967.5 396.6 965.0 397.1 965.5 397.6 958.2 398.0 958.4 398.5 947.3 399.0 965.7 399.5 958.8 400.0 947.7 400.5 954.8 401.0 963.1 401.5 950.0 402.0 956.8 402.5 946.6 403.0 957.0 403.5 959.6 404.0 945.1 404.5 955.2 405.0 962.8 405.5 957.8 406.0 969.2 406.5 965.5 407.0 967.3 407.5 952.5 408.0 954.4 408.5 962.3 409.0 963.4 409.5 957.0 410.0 958.9 410.5 954.3 411.0 957.3 411.5 962.8 412.0 969.3 412.5 963.9 413.0 965.9 413.5 960.9 414.0 963.7 414.5 966.6 415.0 955.0 415.5 966.6 416.0 964.3 416.5 966.9 417.0 963.4 417.5 956.5 418.0 958.0 418.5 960.9 419.0 945.1 419.5 955.6 420.0 957.0 420.5 957.4 421.0 954.6 421.5 954.1 422.0 959.0 422.5 956.9 423.0 968.9 423.5 960.7 424.0 960.3 424.5 966.0 425.0 960.3 425.5 960.7 426.0 968.1 426.5 966.9 427.0 959.7 427.5 952.9 428.0 957.3 428.5 964.4 429.0 951.0 429.5 959.2 429.9 960.8 430.4 951.9 430.9 968.5 431.4 959.7 431.9 951.8 432.4 955.1 432.9 963.9 433.4 969.7 433.9 963.1 434.4 962.5 434.9 960.2 435.4 971.3 435.9 969.3 436.4 951.6 436.9 961.6 437.4 965.1 437.9 960.4 438.4 964.3 438.9 965.6 439.4 956.1 439.9 969.5 440.4 962.6 440.9 968.2 441.4 963.4 441.9 961.2 442.4 970.0 442.9 964.1 443.4 971.4 443.9 965.5 444.4 975.2 444.9 957.1 445.4 962.4 445.9 957.2 446.4 955.2 446.9 963.1 447.4 952.9 447.9 961.3 448.4 969.9 448.9 965.3 449.4 958.7 449.9 960.4 450.4 966.4 450.9 971.6 451.4 960.4 451.9 962.8 452.4 965.0 452.9 960.9 453.4 964.2 453.9 963.7 454.4 970.1 454.9 958.4 455.4 962.5 455.9 964.1 456.4 957.6 456.9 960.0 457.4 961.9 457.9 953.2 458.4 959.1 458.9 955.1 459.4 958.9 459.9 957.9 460.4 959.0 460.9 966.3 461.4 969.5 461.8 967.0 462.3 957.1 462.8 964.0 463.3 954.3 463.8 965.4 464.3 966.4 464.8 959.8 465.3 962.2 465.8 966.9 466.3 966.3 466.8 958.5 467.3 957.4 467.8 951.6 468.3 959.7 468.8 958.2 469.3 961.7 469.8 965.1 470.3 953.2 470.8 957.1 471.3 959.5 471.8 951.9 472.3 960.4 472.8 958.5 473.3 963.6 473.8 965.5 474.3 965.6 474.8 959.8 475.3 962.8 475.8 962.5 476.3 967.6 476.8 950.0 477.3 959.6 477.8 956.4 478.3 961.6 478.8 967.2 479.3 962.1 479.8 961.6 480.3 956.4 480.8 962.5 481.3 961.9 481.8 954.4 482.3 964.2 482.8 957.4 483.3 947.3 483.8 958.8 484.3 962.9 484.8 962.4 485.3 960.3 485.8 959.1 486.3 963.2 486.8 962.5 487.3 947.8 487.8 954.3 488.3 959.1 488.8 957.8 489.3 963.0 489.8 963.9 490.3 958.5 490.8 955.0 491.3 967.4 491.8 951.6 492.3 955.8 492.8 968.4 493.2 959.6 493.7 959.1 494.2 955.0 494.7 962.0 495.2 971.9 495.7 955.7 496.2 951.9 496.7 959.9 497.2 963.8 497.7 954.0 498.2 946.1 498.7 952.6 499.2 945.1 499.7 955.0 500.2 947.1 500.7 950.8 501.2 947.3 501.7 950.9 502.2 932.8 502.7 946.1 503.2 944.3 503.7 943.8 504.2 932.2 504.7 948.1 505.2 934.7 505.7 940.3 506.2 933.1 506.7 933.7 507.2 930.9 507.7 922.4 508.2 926.9 508.7 937.4 509.2 921.1 509.7 927.3 510.2 914.3 510.7 930.1 511.2 913.7 511.7 913.5 512.2 918.2 512.7 920.9 513.2 908.3 513.7 914.2 514.2 916.7 514.7 912.2 515.2 906.2 515.7 912.4 516.2 915.3 516.7 921.5 517.2 914.3 517.7 895.1 518.2 912.4 518.7 909.9 519.2 904.6 519.7 906.2 520.2 908.0 520.7 898.7 521.2 892.0 521.7 897.1 522.2 901.8 522.7 893.3 523.2 891.7 523.7 886.8 524.2 896.5 524.7 885.3 525.1 888.9 525.6 884.0 526.1 894.3 526.6 890.3 527.1 895.8 527.6 874.7 528.1 870.0 528.6 874.3 529.1 860.8 529.6 862.3 530.1 865.4 530.6 857.3 531.1 857.6 531.6 843.1 532.1 839.9 532.6 837.0 533.1 837.9 533.6 834.6 534.1 830.3 534.6 818.9 535.1 809.4 535.6 807.2 536.1 806.2 536.6 793.7 537.1 795.0 537.6 788.3 538.1 799.6 538.6 798.9 539.1 792.4 539.6 805.0 540.1 801.7 540.6 802.9 541.1 810.9 541.6 812.7 542.1 808.3 542.6 815.2 543.1 815.4 543.6 832.8 544.1 833.5 544.6 844.8 545.1 840.0 545.6 842.1 546.1 860.9 546.6 863.8 547.1 854.2 547.6 873.6 548.1 866.6 548.6 883.7 549.1 880.8 549.6 877.0 550.1 882.0 550.6 884.8 551.1 870.0 551.6 894.0 552.1 889.8 552.6 897.7 553.1 877.3 553.6 900.0 554.1 896.9 554.6 890.9 555.1 910.7 555.6 904.5 556.1 894.6 556.6 896.2 557.0 905.5 557.5 913.6 558.0 906.8 558.5 901.9 559.0 916.5 559.5 903.0 560.0 915.8 560.5 913.1 561.0 909.5 561.5 907.9 562.0 909.6 562.5 914.4 563.0 924.6 563.5 917.4 564.0 914.0 564.5 929.2 565.0 929.1 565.5 925.0 566.0 933.8 566.5 929.1 567.0 940.8 567.5 930.6 568.0 928.4 568.5 931.8 569.0 936.8 569.5 938.4 570.0 935.5 570.5 937.2 571.0 933.7 571.5 939.7 572.0 954.2 572.5 944.2 573.0 940.5 573.5 943.5 574.0 943.9 574.5 948.8 575.0 945.3 575.5 958.4 576.0 947.0 576.5 951.3 577.0 962.6 577.5 954.2 578.0 962.7 578.5 954.4 579.0 961.0 579.5 970.1 580.0 951.7 580.5 961.0 581.0 951.5 581.5 958.5 582.0 955.0 582.5 960.3 583.0 952.6 583.5 947.3 584.0 964.1 584.5 961.5 585.0 969.1 585.5 962.7 586.0 962.4 586.5 956.7 587.0 953.8 587.5 963.3 588.0 955.5 588.5 971.4 588.9 971.8 589.4 966.6 589.9 971.0 590.4 963.1 590.9 960.5 591.4 978.8 591.9 962.6 592.4 972.1 592.9 959.4 593.4 967.0 593.9 969.9 594.4 954.4 594.9 955.5 595.4 960.5 595.9 962.8 596.4 965.4 596.9 960.5 597.4 960.7 597.9 958.9 598.4 959.1 598.9 967.8 599.4 962.4 599.9 958.9 600.4 958.5 600.9 960.8 601.4 955.9 601.9 967.1 602.4 968.5 602.9 957.8 603.4 962.7 603.9 963.9 604.4 971.1 604.9 961.6 605.4 964.2 605.9 960.0 606.4 960.4 606.9 962.3 607.4 986.8 607.9 973.5 608.4 968.8 608.9 968.3 609.4 957.2 609.9 960.7 610.4 971.4 610.9 966.9 611.4 973.7 611.9 967.0 612.4 970.4 612.9 967.7 613.4 970.3 613.9 969.4 614.4 973.9 614.9 963.9 615.4 965.8 615.9 962.9 616.4 967.2 616.9 970.1 617.4 967.8 617.9 955.2 618.4 963.0 618.9 964.0 619.4 965.4 619.9 963.5 620.4 965.2 620.8 973.2 621.3 971.2 621.8 976.4 622.3 957.5 622.8 961.1 623.3 959.8 623.8 973.9 624.3 972.1 624.8 964.1 625.3 964.4 625.8 969.4 626.3 975.9 626.8 977.4 627.3 963.8 627.8 973.4 628.3 966.7 628.8 977.8 629.3 984.1 629.8 971.4 630.3 971.8 630.8 952.0 631.3 971.6 631.8 957.3 632.3 964.3 632.8 973.4 633.3 958.0 633.8 982.6 634.3 964.5 634.8 972.8 635.3 964.5 635.8 972.2 636.3 964.2 636.8 967.5 637.3 953.2 637.8 973.8 638.3 972.1 638.8 965.6 639.3 965.8 639.8 960.9 640.3 963.1 640.8 969.1 641.3 969.5 641.8 972.2 642.3 974.8 642.8 973.8 643.3 970.1 643.8 969.7 644.3 966.3 644.8 975.2 645.3 962.9 645.8 962.5 646.3 969.6 646.8 958.5 647.3 965.4 647.8 957.9 648.3 962.0 648.8 989.2 649.3 957.0 649.8 973.5 650.3 963.5 650.8 960.1 651.3 957.9 651.8 971.0 652.3 964.8 652.7 967.2 653.2 977.4 653.7 958.6 654.2 953.7 654.7 967.9 655.2 975.6 655.7 968.0 656.2 975.8 656.7 974.1 657.2 969.2 657.7 962.3 658.2 967.9 658.7 974.2 659.2 970.1 659.7 966.9 660.2 969.4 660.7 966.9 661.2 972.1 661.7 965.5 662.2 977.1 662.7 969.4 663.2 968.1 663.7 955.8 664.2 953.4 664.7 965.7 665.2 964.0 665.7 978.8 666.2 962.1 666.7 960.7 667.2 971.7 667.7 953.9 668.2 967.1 668.7 958.4 669.2 949.1 669.7 955.2 670.2 965.4 670.7 966.3 671.2 964.6 671.7 960.5 672.2 966.5 672.7 967.9 673.2 966.5 673.7 976.3 674.2 972.1 674.7 960.2 675.2 961.9 675.7 960.0 676.2 966.8 676.7 972.3 677.2 975.7 677.7 966.9 678.2 962.0 678.7 959.1 679.2 955.5 679.7 976.6 680.2 963.6 680.7 962.6 681.2 977.2 681.7 961.7 682.2 965.1 682.7 968.4 683.2 954.1 683.7 957.2 684.1 986.0 684.6 967.9 685.1 953.3 685.6 962.0 686.1 965.0 686.6 969.4 687.1 965.0 687.6 958.2 688.1 965.6 688.6 972.5 689.1 961.8 689.6 958.3 690.1 958.6 690.6 951.0 691.1 973.2 691.6 967.5 692.1 964.8 692.6 966.4 693.1 973.2 693.6 963.0 694.1 957.0 694.6 972.1 695.1 950.9 695.6 963.0 696.1 972.5 696.6 974.8 697.1 964.7 697.6 964.6 698.1 964.3 698.6 963.4 699.1 964.3 699.6 973.8 700.1 968.1 700.6 975.7 701.1 968.5 701.6 962.7 702.1 963.2 702.6 978.6 703.1 961.0 703.6 971.3 704.1 958.8 704.6 968.3 705.1 962.6 705.6 962.0 706.1 959.3 706.6 960.0 707.1 965.7 707.6 973.3 708.1 967.1 708.6 959.0 709.1 967.4 709.6 948.8 710.1 964.0 710.6 978.6 711.1 949.3 711.6 962.4 712.1 970.6 712.6 976.2 713.1 972.2 713.6 961.5 714.1 974.7 714.6 974.2 715.1 962.2 715.6 964.8 716.0 958.6 716.5 962.3 717.0 972.9 717.5 956.8 718.0 971.7 718.5 966.3 719.0 966.5 719.5 960.3 720.0 968.9 720.5 963.2 721.0 962.9 721.5 953.9 722.0 964.2 722.5 961.6 723.0 969.4 723.5 964.8 724.0 963.4 724.5 960.6 725.0 960.1 725.5 959.3 726.0 968.2 726.5 954.6 727.0 954.5 727.5 965.4 728.0 972.8 728.5 965.8 729.0 962.5 729.5 977.0 730.0 965.6 730.5 960.0 731.0 964.6 731.5 969.9 732.0 961.1 732.5 968.5 733.0 961.2 733.5 964.3 734.0 965.3 734.5 947.7 735.0 971.1 735.5 966.9 736.0 965.9 736.5 964.2 737.0 961.5 737.5 971.5 738.0 962.9 738.5 968.3 739.0 952.0 739.5 975.2 740.0 964.0 740.5 964.5 741.0 956.1 741.5 956.9 742.0 965.1 742.5 941.7 743.0 970.2 743.5 957.5 744.0 957.1 744.5 962.2 745.0 973.9 745.5 963.3 746.0 968.7 746.5 953.8 747.0 957.8 747.5 967.1 747.9 954.2 748.4 944.7 748.9 956.9 749.4 958.8 749.9 959.7 750.4 965.5 750.9 964.9 751.4 958.0 751.9 964.2 752.4 959.8 752.9 961.2 753.4 954.3 753.9 964.4 754.4 958.0 754.9 967.7 755.4 950.9 755.9 966.8 756.4 952.1 756.9 962.1 757.4 952.1 757.9 953.2 758.4 963.2 758.9 948.2 759.4 964.1 759.9 971.3 760.4 962.2 760.9 947.7 761.4 961.2 761.9 956.2 762.4 957.6 762.9 956.0 763.4 962.5 763.9 966.1 764.4 957.1 764.9 963.5 765.4 951.0 765.9 968.5 766.4 946.9 766.9 945.5 767.4 949.3 767.9 956.2 768.4 956.5 768.9 939.5 769.4 950.1 769.9 950.2 770.4 962.9 770.9 943.7 771.4 935.6 771.9 932.7 772.4 940.7 772.9 943.7 773.4 940.4 773.9 936.8 774.4 930.5 774.9 933.4 775.4 931.8 775.9 945.4 776.4 926.4 776.9 917.5 777.4 918.8 777.9 917.2 778.4 902.0 778.9 911.8 779.4 909.5 779.8 905.3 780.3 893.8 780.8 894.0 781.3 892.6 781.8 891.0 782.3 882.2 782.8 866.1 783.3 872.7 783.8 871.6 784.3 853.4 784.8 831.3 785.3 845.7 785.8 839.2 786.3 824.6 786.8 813.6 787.3 815.0 787.8 804.4 788.3 790.6 788.8 781.0 789.3 774.9 789.8 772.0 790.3 758.5 790.8 742.8 791.3 739.6 791.8 738.4 792.3 734.6 792.8 724.2 793.3 729.2 793.8 718.2 794.3 727.2 794.8 731.7 795.3 727.4 795.8 725.0 796.3 731.4 796.8 718.5 797.3 746.4 797.8 737.6 798.3 743.5 798.8 754.4 799.3 758.6 799.8 772.7 800.3 779.3 800.8 789.3 801.3 805.7 801.8 809.4 802.3 811.5 802.8 822.4 803.3 826.4 803.8 845.8 804.3 839.9 804.8 851.5 805.3 871.3 805.8 865.5 806.3 874.6 806.8 882.6 807.3 874.5 807.8 891.2 808.3 901.0 808.8 900.5 809.3 907.3 809.8 901.8 810.3 911.4 810.8 912.6 811.3 917.8 811.7 912.3 812.2 919.5 812.7 929.0 813.2 924.3 813.7 933.9 814.2 942.2 814.7 936.2 815.2 936.9 815.7 941.9 816.2 933.9 816.7 937.8 817.2 935.5 817.7 938.2 818.2 955.4 818.7 940.9 819.2 946.7 819.7 945.6 820.2 945.9 820.7 947.6 821.2 948.8 821.7 953.0 822.2 949.6 822.7 954.7 823.2 951.7 823.7 951.4 824.2 952.5 824.7 964.8 825.2 947.3 825.7 954.2 826.2 959.8 826.7 959.3 827.2 950.2 827.7 949.8 828.2 956.5 828.7 964.4 829.2 962.0 829.7 957.3 830.2 955.8 830.7 956.8 831.2 957.4 831.7 950.0 832.2 950.2 832.7 958.5 833.2 970.8 833.7 960.7 834.2 948.7 834.7 952.8 835.2 959.3 835.7 953.7 836.2 961.4 836.7 955.6 837.2 955.3 837.7 952.2 838.2 963.0 838.7 962.5 839.2 963.0 839.7 964.8 840.2 960.0 840.7 968.2 841.2 954.6 841.7 965.6 842.2 958.6 842.7 958.2 843.1 957.0 843.6 964.8 844.1 962.6 844.6 968.1 845.1 956.0 845.6 962.9 846.1 955.8 846.6 964.9 847.1 970.4 847.6 956.0 848.1 968.6 848.6 955.7 849.1 971.0 849.6 963.0 850.1 965.5 850.6 955.4 851.1 972.0 851.6 961.6 852.1 959.4 852.6 968.2 853.1 957.6 853.6 960.7 854.1 960.0 854.6 957.5 855.1 969.0 855.6 972.7 856.1 956.6 856.6 972.0 857.1 969.1 857.6 960.3 858.1 966.4 858.6 974.7 859.1 958.6 859.6 959.1 860.1 956.5 860.6 975.3 861.1 968.8 861.6 957.7 862.1 961.7 862.6 966.7 863.1 961.1 863.6 969.7 864.1 963.0 864.6 970.3 865.1 964.8 865.6 964.1 866.1 959.1 866.6 964.8 867.1 967.8 867.6 953.2 868.1 966.3 868.6 970.7 869.1 968.5 869.6 965.4 870.1 961.7 870.6 956.4 871.1 957.4 871.6 960.7 872.1 956.5 872.6 963.5 873.1 959.9 873.6 961.1 874.1 970.3 874.6 964.1 875.0 967.1 875.5 952.5 876.0 966.3 876.5 957.9 877.0 972.6 877.5 953.8 878.0 958.2 878.5 967.7 879.0 975.2 879.5 953.9 880.0 961.4 880.5 958.2 881.0 972.4 881.5 975.1 882.0 964.5 882.5 968.3 883.0 959.0 883.5 955.9 884.0 965.9 884.5 960.1 885.0 967.3 885.5 961.0 886.0 970.5 886.5 961.6 887.0 962.4 887.5 968.2 888.0 963.4 888.5 970.5 889.0 958.6 889.5 956.5 890.0 967.4 890.5 964.9 891.0 958.3 891.5 955.0 892.0 957.5 892.5 961.2 893.0 959.8 893.5 954.7 894.0 955.9 894.5 964.2 895.0 967.5 895.5 969.8 896.0 955.9 896.5 953.9 897.0 963.7 897.5 958.2 898.0 964.5 898.5 965.3 899.0 957.3 899.5 958.6 900.0 949.7 900.5 949.7 901.0 963.1 901.5 971.0 902.0 948.3 902.5 949.5 903.0 955.0 903.5 961.9 904.0 946.2 904.5 957.2 905.0 964.8 905.5 942.9 906.0 949.2 906.5 960.0 906.9 962.1 907.4 950.2 907.9 959.9 908.4 959.9 908.9 945.6 909.4 952.9 909.9 949.6 910.4 950.7 910.9 953.3 911.4 944.8 911.9 939.5 912.4 941.8 912.9 941.6 913.4 947.5 913.9 953.6 914.4 944.1 914.9 942.1 915.4 942.5 915.9 949.1 916.4 942.8 916.9 942.8 917.4 937.4 917.9 939.9 918.4 936.6 918.9 944.5 919.4 936.5 919.9 941.9 920.4 935.7 920.9 932.9 921.4 919.1 921.9 926.4 922.4 919.9 922.9 929.4 923.4 923.2 923.9 921.1 924.4 915.2 924.9 921.6 925.4 898.5 925.9 911.9 926.4 902.1 926.9 895.0 927.4 893.3 927.9 893.8 928.4 892.1 928.9 893.0 929.4 878.3 929.9 873.7 930.4 880.0 930.9 876.3 931.4 858.8 931.9 856.1 932.4 857.7 932.9 849.3 933.4 850.6 933.9 837.3 934.4 833.4 934.9 851.5 935.4 835.5 935.9 834.5 936.4 823.5 936.9 813.6 937.4 821.6 937.9 820.9 938.4 808.0 938.8 805.4 939.3 808.9 939.8 803.7 940.3 794.4 940.8 807.5 941.3 808.5 941.8 793.4 942.3 816.2 942.8 799.9 943.3 801.0 943.8 805.2 944.3 813.1 944.8 815.4 945.3 808.4 945.8 822.6 946.3 827.8 946.8 824.2 947.3 817.5 947.8 828.0 948.3 833.9 948.8 846.0 949.3 841.6 949.8 850.2 950.3 867.7 950.8 852.8 951.3 853.9 951.8 862.8 952.3 866.9 952.8 869.1 953.3 862.4 953.8 855.5 954.3 852.3 954.8 859.2 955.3 862.7 955.8 857.3 956.3 855.3 956.8 861.7 957.3 860.2 957.8 858.3 958.3 871.8 958.8 864.8 959.3 849.1 959.8 860.8 960.3 852.0 960.8 845.5 961.3 844.3 961.8 861.9 962.3 841.8 962.8 834.2 963.3 835.9 963.8 838.7 964.3 832.1 964.8 827.3 965.3 820.3 965.8 819.6 966.3 813.1 966.8 819.9 967.3 821.3 967.8 819.8 968.3 815.7 968.8 823.9 969.3 818.1 969.8 819.6 970.3 809.9 970.7 815.4 971.2 816.5 971.7 828.0 972.2 822.8 972.7 825.2 973.2 827.8 973.7 842.1 974.2 832.6 974.7 834.9 975.2 845.1 975.7 847.2 976.2 860.5 976.7 863.3 977.2 862.3 977.7 863.7 978.2 869.1 978.7 881.6 979.2 879.9 979.7 885.3 980.2 870.2 980.7 881.8 981.2 891.6 981.7 900.1 982.2 903.6 982.7 903.5 983.2 895.0 983.7 909.6 984.2 906.7 984.7 900.9 985.2 911.3 985.7 916.8 986.2 922.9 986.7 928.7 987.2 927.1 987.7 928.0 988.2 926.6 988.7 931.5 989.2 926.3 989.7 939.3 990.2 936.4 990.7 944.2 991.2 942.6 991.7 937.9 992.2 940.9 992.7 942.3 993.2 943.9 993.7 928.6 994.2 939.6 994.7 958.5 995.2 947.8 995.7 956.9 996.2 945.4 996.7 939.7 997.2 948.1 997.7 948.4 998.2 946.3 998.7 959.2 999.2 961.3 999.7 948.4 1000.2 965.5 1000.7 959.4 1001.2 946.7 1001.7 961.0 1002.2 957.2 1002.6 955.3 1003.1 945.5 1003.6 958.5 1004.1 951.3 1004.6 967.6 1005.1 950.0 1005.6 947.4 1006.1 959.9 1006.6 949.9 1007.1 966.8 1007.6 952.0 1008.1 962.4 1008.6 951.9 1009.1 955.0 1009.6 959.3 1010.1 954.2 1010.6 963.1 1011.1 954.5 1011.6 967.9 1012.1 964.8 1012.6 949.2 1013.1 972.0 1013.6 961.6 1014.1 954.4 1014.6 961.6 1015.1 960.6 1015.6 965.1 1016.1 965.4 1016.6 967.6 1017.1 952.3 1017.6 962.0 1018.1 956.5 1018.6 950.7 1019.1 955.5 1019.6 953.9 1020.1 963.0 1020.6 958.8 1021.1 963.0 1021.6 960.2 1022.1 961.7 1022.6 963.9 1023.1 955.9 1023.6 960.0 1024.1 959.9 1024.6 957.8 1025.1 954.8 1025.6 962.9 1026.1 965.1 1026.6 972.8 1027.1 962.5 1027.6 962.9 1028.1 954.4 1028.6 960.9 1029.1 969.3 1029.6 974.0 1030.1 964.6 1030.6 971.9 1031.1 972.2 1031.6 975.0 1032.1 966.5 1032.6 958.0 1033.1 962.9 1033.6 969.5 1034.0 958.3 1034.5 961.7 1035.0 956.6 1035.5 958.3 1036.0 952.8 1036.5 969.2 1037.0 957.7 1037.5 962.5 1038.0 965.1 1038.5 960.0 1039.0 955.0 1039.5 958.1 1040.0 955.2 1040.5 962.6 1041.0 957.9 1041.5 968.9 1042.0 959.6 1042.5 965.1 1043.0 956.0 1043.5 950.6 1044.0 959.6 1044.5 967.8 1045.0 968.0 1045.5 969.3 1046.0 959.2 1046.5 959.5 1047.0 962.6 1047.5 959.7 1048.0 965.2 1048.5 967.1 1049.0 967.7 1049.5 956.8 1050.0 971.1 1050.5 949.8 1051.0 959.7 1051.5 958.3 1052.0 961.5 1052.5 960.0 1053.0 968.8 1053.5 956.8 1054.0 966.3 1054.5 954.6 1055.0 961.5 1055.5 964.0 1056.0 967.8 1056.5 954.3 1057.0 947.9 1057.5 972.4 1058.0 955.9 1058.5 959.9 1059.0 960.6 1059.5 970.5 1060.0 966.3 1060.5 969.3 1061.0 970.1 1061.5 964.9 1062.0 960.4 1062.5 970.2 1063.0 968.1 1063.5 963.8 1064.0 950.3 1064.5 958.1 1065.0 964.6 1065.5 958.9 1065.9 967.8 1066.4 978.5 1066.9 962.5 1067.4 964.2 1067.9 967.4 1068.4 973.1 1068.9 948.5 1069.4 958.8 1069.9 970.9 1070.4 961.7 1070.9 951.1 1071.4 965.3 1071.9 953.6 1072.4 967.7 1072.9 968.1 1073.4 959.5 1073.9 954.5 1074.4 965.1 1074.9 959.6 1075.4 960.0 1075.9 958.1 1076.4 958.7 1076.9 955.6 1077.4 967.1 1077.9 969.0 1078.4 956.4 1078.9 953.7 1079.4 966.5 1079.9 969.9 1080.4 965.2 1080.9 969.0 1081.4 966.7 1081.9 962.2 1082.4 960.0 1082.9 956.9 1083.4 961.1 1083.9 950.5 1084.4 970.9 1084.9 954.5 1085.4 963.3 1085.9 963.9 1086.4 961.0 1086.9 961.3 1087.4 956.5 1087.9 958.9 1088.4 966.2 1088.9 965.9 1089.4 953.0 1089.9 961.0 1090.4 950.3 1090.9 960.8 1091.4 961.8 1091.9 952.7 1092.4 970.4 1092.9 952.7 1093.4 968.9 1093.9 950.7 1094.4 965.7 1094.9 949.1 1095.4 957.9 1095.9 952.8 1096.4 962.9 1096.9 955.8 1097.4 959.6 1097.8 962.3 1098.3 954.6 1098.8 957.0 1099.3 962.3 1099.8 954.7 1100.3 963.2 1100.8 949.4 1101.3 973.4 1101.8 967.5 1102.3 951.3 1102.8 955.5 1103.3 958.2 1103.8 964.0 1104.3 965.1 1104.8 967.1 1105.3 967.7 1105.8 953.2 1106.3 961.3 1106.8 959.2 1107.3 964.0 1107.8 959.2 1108.3 948.8 1108.8 957.0 1109.3 975.7 1109.8 960.1 1110.3 967.5 1110.8 959.4 1111.3 958.0 1111.8 959.9 1112.3 958.3 1112.8 965.1 1113.3 956.8 1113.8 947.8 1114.3 965.0 1114.8 962.8 1115.3 956.7 1115.8 958.3 1116.3 964.0 1116.8 961.5 1117.3 952.8 1117.8 967.5 1118.3 975.0 1118.8 958.9 1119.3 952.4 1119.8 965.3 1120.3 967.3 1120.8 952.8 1121.3 948.8 1121.8 949.6 1122.3 954.8 1122.8 950.9 1123.3 954.7 1123.8 954.6 1124.3 946.8 1124.8 959.0 1125.3 965.5 1125.8 943.7 1126.3 954.7 1126.8 953.1 1127.3 950.9 1127.8 955.8 1128.3 948.5 1128.8 959.9 1129.3 952.3 1129.7 947.7 1130.2 956.5 1130.7 954.1 1131.2 962.1 1131.7 953.7 1132.2 949.9 1132.7 963.9 1133.2 952.8 1133.7 953.2 1134.2 959.7 1134.7 946.4 1135.2 948.7 1135.7 943.9 1136.2 960.3 1136.7 941.9 1137.2 939.6 1137.7 938.6 1138.2 956.4 1138.7 950.8 1139.2 938.7 1139.7 937.4 1140.2 955.7 1140.7 936.0 1141.2 939.0 1141.7 932.9 1142.2 951.7 1142.7 930.1 1143.2 924.0 1143.7 932.5 1144.2 931.4 1144.7 925.8 1145.2 921.2 1145.7 912.0 1146.2 915.7 1146.7 931.0 1147.2 906.2 1147.7 922.2 1148.2 926.0 1148.7 917.2 1149.2 908.2 1149.7 911.2 1150.2 907.9 1150.7 888.3 1151.2 897.2 1151.7 884.1 1152.2 873.9 1152.7 889.9 1153.2 875.3 1153.7 878.9 1154.2 865.8 1154.7 877.3 1155.2 871.8 1155.7 863.2 1156.2 856.9 1156.7 855.8 1157.2 859.4 1157.7 852.6 1158.2 848.9 1158.7 858.1 1159.2 856.0 1159.7 860.1 1160.2 859.3 1160.7 846.8 1161.2 856.0 1161.6 851.0 1162.1 849.6 1162.6 861.0 1163.1 860.7 1163.6 867.6 1164.1 865.0 1164.6 874.9 1165.1 872.6 1165.6 878.4 1166.1 886.7 1166.6 894.4 1167.1 884.4 1167.6 877.3 1168.1 883.4 1168.6 904.3 1169.1 910.8 1169.6 908.3 1170.1 915.3 1170.6 906.6 1171.1 908.2 1171.6 922.4 1172.1 921.7 1172.6 922.8 1173.1 925.6 1173.6 923.7 1174.1 915.5 1174.6 935.1 1175.1 931.4 1175.6 926.9 1176.1 930.1 1176.6 940.2 1177.1 932.1 1177.6 930.5 1178.1 941.3 1178.6 945.4 1179.1 947.1 1179.6 947.6 1180.1 945.2 1180.6 943.1 1181.1 933.1 1181.6 945.0 1182.1 942.9 1182.6 957.8 1183.1 945.0 1183.6 950.8 1184.1 954.4 1184.6 942.8 1185.1 943.1 1185.6 958.9 1186.1 958.9 1186.6 941.3 1187.1 952.6 1187.6 961.0 1188.1 947.8 1188.6 953.5 1189.1 954.1 1189.6 951.5 1190.1 950.7 1190.6 937.5 1191.1 947.3 1191.6 952.4 1192.1 956.1 1192.6 966.2 1193.1 970.7 1193.5 964.1 1194.0 956.8 1194.5 948.9 1195.0 954.7 1195.5 962.8 1196.0 955.3 1196.5 957.9 1197.0 964.5 1197.5 950.8 1198.0 952.2 1198.5 966.2 1199.0 960.5 1199.5 963.1 1200.0 958.9 1200.5 950.9 1201.0 965.7 1201.5 954.9 1202.0 960.7 1202.5 961.3 1203.0 960.6 1203.5 950.6 1204.0 960.9 1204.5 949.7 1205.0 960.0 1205.5 955.4 1206.0 967.5 1206.5 954.3 1207.0 957.1 1207.5 957.0 1208.0 945.9 1208.5 956.5 1209.0 957.7 1209.5 953.1 1210.0 957.0 1210.5 959.8 1211.0 960.5 1211.5 961.5 1212.0 964.8 1212.5 965.3 1213.0 956.4 1213.5 960.2 1214.0 958.0 1214.5 955.3 1215.0 955.0 1215.5 951.4 1216.0 959.4 1216.5 964.2 1217.0 955.6 1217.5 955.2 1218.0 952.5 1218.5 950.0 1219.0 951.3 1219.5 959.3 1220.0 947.8 1220.5 968.2 1221.0 963.2 1221.5 958.5 1222.0 954.4 1222.5 963.8 1223.0 956.1 1223.5 970.4 1224.0 957.4 1224.5 961.1 1224.9 953.0 1225.4 965.0 1225.9 961.3 1226.4 961.4 1226.9 968.7 1227.4 952.9 1227.9 946.8 1228.4 946.0 1228.9 953.9 1229.4 956.1 1229.9 955.9 1230.4 961.3 1230.9 965.0 1231.4 953.7 1231.9 965.9 1232.4 954.9 1232.9 952.1 1233.4 962.9 1233.9 963.6 1234.4 962.5 1234.9 952.0 1235.4 966.9 1235.9 960.8 1236.4 953.4 1236.9 958.5 1237.4 959.5 1237.9 958.0 1238.4 954.6 1238.9 968.7 1239.4 955.2 1239.9 960.6 1240.4 957.9 1240.9 959.8 1241.4 948.1 1241.9 970.6 1242.4 967.5 1242.9 957.9 1243.4 965.3 1243.9 958.7 1244.4 963.2 1244.9 957.6 1245.4 948.5 1245.9 954.4 1246.4 954.6 1246.9 953.8 1247.4 945.5 1247.9 956.6 1248.4 961.6 1248.9 960.3 1249.4 953.0 1249.9 968.3 1250.4 956.6 1250.9 960.2 1251.4 956.6 1251.9 952.8 1252.4 958.7 1252.9 952.0 1253.4 951.0 1253.9 946.2 1254.4 958.9 1254.9 961.6 1255.4 957.5 1255.9 955.4 1256.4 956.4 1256.8 962.8 1257.3 954.6 1257.8 957.4 1258.3 959.9 1258.8 956.9 1259.3 959.7 1259.8 961.7 1260.3 955.9 1260.8 969.5 1261.3 953.4 1261.8 957.6 1262.3 959.2 1262.8 957.3 1263.3 950.6 1263.8 957.7 1264.3 951.6 1264.8 956.5 1265.3 960.7 1265.8 962.1 1266.3 957.2 1266.8 954.4 1267.3 970.5 1267.8 956.6 1268.3 968.4 1268.8 952.4 1269.3 958.6 1269.8 966.9 1270.3 951.7 1270.8 949.7 1271.3 963.0 1271.8 966.7 1272.3 962.0 1272.8 959.6 1273.3 953.6 1273.8 958.9 1274.3 962.1 1274.8 954.3 1275.3 946.6 1275.8 963.3 1276.3 949.2 1276.8 948.1 1277.3 953.3 1277.8 962.8 1278.3 948.1 1278.8 956.1 1279.3 967.2 1279.8 958.1 1280.3 954.2 1280.8 950.4 1281.3 945.7 1281.8 963.6 1282.3 946.7 1282.8 955.6 1283.3 960.5 1283.8 950.7 1284.3 952.9 1284.8 960.2 1285.3 954.5 1285.8 960.9 1286.3 960.1 1286.8 962.1 1287.3 943.9 1287.8 954.2 1288.3 952.5 1288.7 950.5 1289.2 940.8 1289.7 949.9 1290.2 958.2 1290.7 955.8 1291.2 945.1 1291.7 948.2 1292.2 947.6 1292.7 952.7 1293.2 942.9 1293.7 942.4 1294.2 937.0 1294.7 949.7 1295.2 955.7 1295.7 945.7 1296.2 946.0 1296.7 946.2 1297.2 933.4 1297.7 943.0 1298.2 947.3 1298.7 943.2 1299.2 934.4 1299.7 929.6 1300.2 928.7 1300.7 938.6 1301.2 926.1 1301.7 929.0 1302.2 928.1 1302.7 923.2 1303.2 917.7 1303.7 924.2 1304.2 915.2 1304.7 915.5 1305.2 923.4 1305.7 919.0 1306.2 899.7 1306.7 904.5 1307.2 914.5 1307.7 902.7 1308.2 911.9 1308.7 912.3 1309.2 911.2 1309.7 914.6 1310.2 895.2 1310.7 897.2 1311.2 899.2 1311.7 899.2 1312.2 908.0 1312.7 905.3 1313.2 897.9 1313.7 900.8 1314.2 896.9 1314.7 903.1 1315.2 898.2 1315.7 919.2 1316.2 914.0 1316.7 908.3 1317.2 911.0 1317.7 918.3 1318.2 915.0 1318.7 924.4 1319.2 919.3 1319.7 934.1 1320.2 925.6 1320.6 916.3 1321.1 918.3 1321.6 922.7 1322.1 938.2 1322.6 926.7 1323.1 935.6 1323.6 922.3 1324.1 935.4 1324.6 926.6 1325.1 931.2 1325.6 935.0 1326.1 927.3 1326.6 951.0 1327.1 930.2 1327.6 934.7 1328.1 948.7 1328.6 944.4 1329.1 924.0 1329.6 941.8 1330.1 946.1 1330.6 933.3 1331.1 939.7 1331.6 935.1 1332.1 934.9 1332.6 950.1 1333.1 945.3 1333.6 933.8 1334.1 931.0 1334.6 942.8 1335.1 939.1 1335.6 935.1 1336.1 937.9 1336.6 927.6 1337.1 930.3 1337.6 929.5 1338.1 940.8 1338.6 932.1 1339.1 924.9 1339.6 925.5 1340.1 935.6 1340.6 930.0 1341.1 923.3 1341.6 923.2 1342.1 928.8 1342.6 921.1 1343.1 920.2 1343.6 916.3 1344.1 904.3 1344.6 921.9 1345.1 916.2 1345.6 921.4 1346.1 934.7 1346.6 912.6 1347.1 917.8 1347.6 911.4 1348.1 908.7 1348.6 908.1 1349.1 910.8 1349.6 913.5 1350.1 924.3 1350.6 916.3 1351.1 911.1 1351.6 921.4 1352.1 910.6 1352.5 921.5 1353.0 919.7 1353.5 916.1 1354.0 923.5 1354.5 928.9 1355.0 927.3 1355.5 913.1 1356.0 915.2 1356.5 926.7 1357.0 927.0 1357.5 921.3 1358.0 936.2 1358.5 935.9 1359.0 941.7 1359.5 937.2 1360.0 947.4 1360.5 933.8 1361.0 936.6 1361.5 944.1 1362.0 943.5 1362.5 932.6 1363.0 938.1 1363.5 947.5 1364.0 945.5 1364.5 941.0 1365.0 944.4 1365.5 946.0 1366.0 946.3 1366.5 951.0 1367.0 952.8 1367.5 944.5 1368.0 964.2 1368.5 952.2 1369.0 950.0 1369.5 962.9 1370.0 951.7 1370.5 944.7 1371.0 944.2 1371.5 949.0 1372.0 949.1 1372.5 942.4 1373.0 951.1 1373.5 948.4 1374.0 961.9 1374.5 956.9 1375.0 949.2 1375.5 960.9 1376.0 953.6 1376.5 942.6 1377.0 955.0 1377.5 964.2 1378.0 955.9 1378.5 951.7 1379.0 956.2 1379.5 952.2 1380.0 959.6 1380.5 957.8 1381.0 954.2 1381.5 961.3 1382.0 966.8 1382.5 958.5 1383.0 964.5 1383.5 961.8 1384.0 955.6 1384.4 957.1 1384.9 966.1 1385.4 959.4 1385.9 963.0 1386.4 947.4 1386.9 961.9 1387.4 946.5 1387.9 969.4 1388.4 959.3 1388.9 962.8 1389.4 953.3 1389.9 957.0 1390.4 950.7 1390.9 951.6 1391.4 958.8 1391.9 955.4 1392.4 955.7 1392.9 956.5 1393.4 966.1 1393.9 963.8 1394.4 969.4 1394.9 956.2 1395.4 954.2 1395.9 959.2 1396.4 962.5 1396.9 949.1 1397.4 961.9 1397.9 956.0 1398.4 960.9 1398.9 959.9 1399.4 956.2 1399.9 953.1 1400.4 956.3 1400.9 964.7 1401.4 947.3 1401.9 959.0 1402.4 957.0 1402.9 956.7 1403.4 959.1 1403.9 960.6 1404.4 957.9 1404.9 966.1 1405.4 956.1 1405.9 971.4 1406.4 946.1 1406.9 967.9 1407.4 955.7 1407.9 950.3 1408.4 952.2 1408.9 954.7 1409.4 958.8 1409.9 957.3 1410.4 965.9 1410.9 956.8 1411.4 955.9 1411.9 955.5 1412.4 961.1 1412.9 958.0 1413.4 967.2 1413.9 954.2 1414.4 955.4 1414.9 954.6 1415.4 952.6 1415.8 954.9 1416.3 951.8 1416.8 943.6 1417.3 946.4 1417.8 950.0 1418.3 940.7 1418.8 951.5 1419.3 960.4 1419.8 958.2 1420.3 946.3 1420.8 946.8 1421.3 952.8 1421.8 951.2 1422.3 959.6 1422.8 956.8 1423.3 957.5 1423.8 954.2 1424.3 961.6 1424.8 957.0 1425.3 972.2 1425.8 960.6 1426.3 957.1 1426.8 954.7 1427.3 952.4 1427.8 949.6 1428.3 957.0 1428.8 959.1 1429.3 965.4 1429.8 957.6 1430.3 961.4 1430.8 957.6 1431.3 954.2 1431.8 958.8 1432.3 959.1 1432.8 953.7 1433.3 953.5 1433.8 954.2 1434.3 942.0 1434.8 956.6 1435.3 945.6 1435.8 968.8 1436.3 953.3 1436.8 955.8 1437.3 956.1 1437.8 942.8 1438.3 963.1 1438.8 949.4 1439.3 960.0 1439.8 961.3 1440.3 958.5 1440.8 934.3 1441.3 944.8 1441.8 948.8 1442.3 943.3 1442.8 950.6 1443.3 960.4 1443.8 957.9 1444.3 947.0 1444.8 942.2 1445.3 953.5 1445.8 952.8 1446.3 945.8 1446.8 941.5 1447.3 956.2 1447.7 956.5 1448.2 953.0 1448.7 949.3 1449.2 940.7 1449.7 944.2 1450.2 934.5 1450.7 950.5 1451.2 932.6 1451.7 933.4 1452.2 935.4 1452.7 934.9 1453.2 944.1 1453.7 938.7 1454.2 927.0 1454.7 932.6 1455.2 930.9 1455.7 937.0 1456.2 915.4 1456.7 920.6 1457.2 915.8 1457.7 921.8 1458.2 924.5 1458.7 915.6 1459.2 928.9 1459.7 907.0 1460.2 912.1 1460.7 905.0 1461.2 898.4 1461.7 902.8 1462.2 904.1 1462.7 897.7 1463.2 896.2 1463.7 898.7 1464.2 893.3 1464.7 902.5 1465.2 899.4 1465.7 895.0 1466.2 900.5 1466.7 879.2 1467.2 887.0 1467.7 901.2 1468.2 887.4 1468.7 899.6 1469.2 896.8 1469.7 895.4 1470.2 894.3 1470.7 889.0 1471.2 888.0 1471.7 887.9 1472.2 903.0 1472.7 901.5 1473.2 905.3 1473.7 897.6 1474.2 906.7 1474.7 915.1 1475.2 904.9 1475.7 908.2 1476.2 910.6 1476.7 927.8 1477.2 923.4 1477.7 930.1 1478.2 936.0 1478.7 918.9 1479.2 923.8 1479.6 907.8 1480.1 924.9 1480.6 922.0 1481.1 926.6 1481.6 928.0 1482.1 914.2 1482.6 931.0 1483.1 926.7 1483.6 922.1 1484.1 926.9 1484.6 936.5 1485.1 927.6 1485.6 941.3 1486.1 936.1 1486.6 933.1 1487.1 927.4 1487.6 928.3 1488.1 941.5 1488.6 934.5 1489.1 936.5 1489.6 937.0 1490.1 941.1 1490.6 940.9 1491.1 934.2 1491.6 938.9 1492.1 936.2 1492.6 941.2 1493.1 928.6 1493.6 937.4 1494.1 947.6 1494.6 931.6 1495.1 935.9 1495.6 942.1 1496.1 933.4 1496.6 942.2 1497.1 944.2 1497.6 947.7 1498.1 944.5 1498.6 945.7 1499.1 941.6 1499.6 946.5 1500.1 947.1 1500.6 948.9 1501.1 951.1 1501.6 951.6 1502.1 951.7 1502.6 949.4 1503.1 948.7 1503.6 945.3 1504.1 953.2 1504.6 957.2 1505.1 946.5 1505.6 954.0 1506.1 949.5 1506.6 949.4 1507.1 944.3 1507.6 949.4 1508.1 955.3 1508.6 954.7 1509.1 957.1 1509.6 947.6 1510.1 937.9 1510.6 956.9 1511.1 952.2 1511.5 957.0 1512.0 964.6 1512.5 959.8 1513.0 939.4 1513.5 950.0 1514.0 951.1 1514.5 963.7 1515.0 948.6 1515.5 951.4 1516.0 960.6 1516.5 942.1 1517.0 950.1 1517.5 944.8 1518.0 946.8 1518.5 956.9 1519.0 954.2 1519.5 953.1 1520.0 953.7 1520.5 951.3 1521.0 953.7 1521.5 957.5 1522.0 949.2 1522.5 955.3 1523.0 951.4 1523.5 960.6 1524.0 962.5 1524.5 958.9 1525.0 961.4 1525.5 951.7 1526.0 952.8 1526.5 956.2 1527.0 953.1 1527.5 958.8 1528.0 954.0 1528.5 946.9 1529.0 948.6 1529.5 956.8 1530.0 970.5 1530.5 955.9 1531.0 945.2 1531.5 956.7 1532.0 950.7 1532.5 946.6 1533.0 972.2 1533.5 970.7 1534.0 954.9 1534.5 955.0 1535.0 953.4 1535.5 960.6 1536.0 960.7 1536.5 962.3 1537.0 948.3 1537.5 953.5 1538.0 960.5 1538.5 956.3 1539.0 945.8 1539.5 955.4 1540.0 961.8 1540.5 941.5 1541.0 965.4 1541.5 954.4 1542.0 965.0 1542.5 961.6 1543.0 957.8 1543.4 954.9 1543.9 954.3 1544.4 950.9 1544.9 956.4 1545.4 957.6 1545.9 945.6 1546.4 951.4 1546.9 940.0 1547.4 945.2 1547.9 950.1 1548.4 958.3 1548.9 955.2 1549.4 955.8 1549.9 952.1 1550.4 947.8 1550.9 960.5 1551.4 959.6 1551.9 947.6 1552.4 953.1 1552.9 957.4 1553.4 948.1 1553.9 949.8 1554.4 957.8 1554.9 955.8 1555.4 961.3 1555.9 953.2 1556.4 959.2 1556.9 958.5 1557.4 967.5 1557.9 950.3 1558.4 954.9 1558.9 948.9 1559.4 959.2 1559.9 959.9 1560.4 966.0 1560.9 954.1 1561.4 960.8 1561.9 956.9 1562.4 966.4 1562.9 955.8 1563.4 954.3 1563.9 961.0 1564.4 955.0 1564.9 951.1 1565.4 944.1 1565.9 958.6 1566.4 963.6 1566.9 956.4 1567.4 962.0 1567.9 953.1 1568.4 960.4 1568.9 961.1 1569.4 953.0 1569.9 946.6 1570.4 953.8 1570.9 955.7 1571.4 960.1 1571.9 943.0 1572.4 964.9 1572.9 959.2 1573.4 953.8 1573.9 948.5 1574.4 951.2 1574.9 958.0 1575.3 958.0 1575.8 957.6 1576.3 945.1 1576.8 952.2 1577.3 955.0 1577.8 953.8 1578.3 951.1 1578.8 956.1 1579.3 963.0 1579.8 946.9 1580.3 963.0 1580.8 948.9 1581.3 949.0 1581.8 948.7 1582.3 960.1 1582.8 958.2 1583.3 962.0 1583.8 950.1 1584.3 947.6 1584.8 968.7 1585.3 958.7 1585.8 939.3 1586.3 948.5 1586.8 955.5 1587.3 964.5 1587.8 967.2 1588.3 948.3 1588.8 959.5 1589.3 953.9 1589.8 953.2 1590.3 952.5 1590.8 947.3 1590.6 908.0" stroke="#33ac69" stroke-width="7"/><path d="M95.5 1024.4 96.0 1026.0 96.5 1028.4 97.0 1022.9 97.5 1031.3 98.0 1026.0 98.5 1029.4 99.0 1024.2 99.5 1023.5 100.0 1030.4 100.5 1028.7 101.0 1021.3 101.5 1028.5 102.0 1022.3 102.5 1028.4 103.0 1029.3 103.5 1027.1 104.0 1026.1 104.5 1026.5 105.0 1026.8 105.5 1024.6 106.0 1028.3 106.5 1025.2 107.0 1021.9 107.5 1027.9 108.0 1032.3 108.5 1030.2 109.0 1026.5 109.5 1024.8 110.0 1025.5 110.5 1031.0 111.0 1029.3 111.4 1024.5 111.9 1027.7 112.4 1031.5 112.9 1027.3 113.4 1027.4 113.9 1025.4 114.4 1022.1 114.9 1029.7 115.4 1029.0 115.9 1029.2 116.4 1030.8 116.9 1026.8 117.4 1025.9 117.9 1028.4 118.4 1023.5 118.9 1021.3 119.4 1026.0 119.9 1025.2 120.4 1024.5 120.9 1027.3 121.4 1029.2 121.9 1025.1 122.4 1021.1 122.9 1022.0 123.4 1024.3 123.9 1026.4 124.4 1027.0 124.9 1028.5 125.4 1033.0 125.9 1024.1 126.4 1030.0 126.9 1026.5 127.4 1027.5 127.9 1026.0 128.4 1030.2 128.9 1029.5 129.4 1031.4 129.9 1033.2 130.4 1023.1 130.9 1026.8 131.4 1029.7 131.9 1030.1 132.4 1028.7 132.9 1025.1 133.4 1033.2 133.9 1024.5 134.4 1029.9 134.9 1025.9 135.4 1026.3 135.9 1029.7 136.4 1024.7 136.9 1029.4 137.4 1027.4 137.9 1024.0 138.4 1026.8 138.9 1027.7 139.4 1029.0 139.9 1030.2 140.4 1022.9 140.9 1024.6 141.4 1024.7 141.9 1022.7 142.4 1032.6 142.9 1025.5 143.3 1025.9 143.8 1025.6 144.3 1024.2 144.8 1029.4 145.3 1027.1 145.8 1024.7 146.3 1025.7 146.8 1027.8 147.3 1027.5 147.8 1029.1 148.3 1030.3 148.8 1025.1 149.3 1023.6 149.8 1025.1 150.3 1026.8 150.8 1024.6 151.3 1027.3 151.8 1022.8 152.3 1026.2 152.8 1027.2 153.3 1023.8 153.8 1028.4 154.3 1031.0 154.8 1017.2 155.3 1023.8 155.8 1025.5 156.3 1028.2 156.8 1023.0 157.3 1026.4 157.8 1030.0 158.3 1026.7 158.8 1024.2 159.3 1024.0 159.8 1026.4 160.3 1027.0 160.8 1026.7 161.3 1025.6 161.8 1019.1 162.3 1023.0 162.8 1024.4 163.3 1025.8 163.8 1026.8 164.3 1023.3 164.8 1027.1 165.3 1029.6 165.8 1026.4 166.3 1027.1 166.8 1023.5 167.3 1021.7 167.8 1026.0 168.3 1025.6 168.8 1027.5 169.3 1023.3 169.8 1021.2 170.3 1021.1 170.8 1024.6 171.3 1018.0 171.8 1027.5 172.3 1022.3 172.8 1023.4 173.3 1022.4 173.8 1027.7 174.3 1019.1 174.8 1024.9 175.2 1023.9 175.7 1025.9 176.2 1024.8 176.7 1019.1 177.2 1017.2 177.7 1015.4 178.2 1020.6 178.7 1022.7 179.2 1021.5 179.7 1019.6 180.2 1022.1 180.7 1016.2 181.2 1023.8 181.7 1024.1 182.2 1023.1 182.7 1021.4 183.2 1024.1 183.7 1014.4 184.2 1015.2 184.7 1018.0 185.2 1017.5 185.7 1016.2 186.2 1018.2 186.7 1015.4 187.2 1020.6 187.7 1015.6 188.2 1007.9 188.7 1013.1 189.2 1011.7 189.7 1008.9 190.2 1015.4 190.7 1009.0 191.2 1005.8 191.7 1009.3 192.2 1015.2 192.7 1009.2 193.2 1013.8 193.7 1009.3 194.2 1011.9 194.7 1007.5 195.2 1006.3 195.7 994.6 196.2 998.1 196.7 996.9 197.2 998.8 197.7 1001.2 198.2 999.1 198.7 997.2 199.2 988.1 199.7 989.1 200.2 989.8 200.7 990.0 201.2 986.9 201.7 981.7 202.2 977.8 202.7 982.7 203.2 974.4 203.7 974.2 204.2 972.0 204.7 970.4 205.2 963.7 205.7 959.1 206.2 958.7 206.7 953.0 207.1 952.2 207.6 943.3 208.1 942.3 208.6 935.3 209.1 940.7 209.6 924.0 210.1 922.6 210.6 917.8 211.1 911.3 211.6 903.2 212.1 898.0 212.6 893.8 213.1 892.0 213.6 884.5 214.1 878.8 214.6 864.5 215.1 859.0 215.6 854.5 216.1 844.3 216.6 835.1 217.1 826.5 217.6 820.3 218.1 807.8 218.6 802.0 219.1 790.3 219.6 786.8 220.1 778.2 220.6 768.8 221.1 757.4 221.6 754.0 222.1 752.6 222.6 740.1 223.1 737.2 223.6 726.2 224.1 724.1 224.6 723.7 225.1 723.9 225.6 721.9 226.1 716.7 226.6 724.0 227.1 710.9 227.6 716.2 228.1 726.3 228.6 730.1 229.1 735.3 229.6 732.2 230.1 735.9 230.6 741.5 231.1 749.4 231.6 760.3 232.1 765.1 232.6 772.6 233.1 783.4 233.6 788.9 234.1 798.1 234.6 810.2 235.1 811.9 235.6 822.4 236.1 827.9 236.6 840.4 237.1 842.5 237.6 850.9 238.1 863.1 238.6 862.3 239.0 880.9 239.5 884.0 240.0 888.2 240.5 893.9 241.0 902.5 241.5 907.9 242.0 909.2 242.5 917.8 243.0 919.8 243.5 925.5 244.0 931.5 244.5 936.0 245.0 938.9 245.5 943.3 246.0 946.0 246.5 949.7 247.0 958.4 247.5 961.1 248.0 957.0 248.5 955.9 249.0 967.3 249.5 972.8 250.0 968.8 250.5 972.7 251.0 973.7 251.5 976.4 252.0 975.7 252.5 978.8 253.0 979.7 253.5 981.0 254.0 983.7 254.5 980.3 255.0 988.9 255.5 987.1 256.0 988.4 256.5 986.7 257.0 983.8 257.5 990.3 258.0 990.1 258.5 985.1 259.0 996.5 259.5 998.2 260.0 993.5 260.5 996.4 261.0 1000.0 261.5 998.1 262.0 988.2 262.5 1000.9 263.0 992.3 263.5 996.8 264.0 1003.3 264.5 996.7 265.0 995.1 265.5 999.6 266.0 999.4 266.5 994.4 267.0 1005.4 267.5 1001.3 268.0 1001.3 268.5 1002.3 269.0 1002.8 269.5 1006.8 270.0 1002.6 270.5 1001.7 270.9 1005.3 271.4 1005.1 271.9 1006.6 272.4 1002.3 272.9 1006.7 273.4 1007.3 273.9 1002.9 274.4 1007.8 274.9 1006.5 275.4 1011.1 275.9 1012.2 276.4 1008.6 276.9 1004.6 277.4 1008.2 277.9 1006.0 278.4 1006.5 278.9 1012.9 279.4 1011.2 279.9 1009.0 280.4 1007.1 280.9 1011.1 281.4 1014.8 281.9 1012.9 282.4 1012.2 282.9 1012.5 283.4 1016.1 283.9 1015.0 284.4 1013.3 284.9 1006.9 285.4 1015.5 285.9 1014.3 286.4 1013.9 286.9 1017.7 287.4 1012.3 287.9 1015.8 288.4 1015.6 288.9 1011.2 289.4 1015.1 289.9 1016.4 290.4 1019.5 290.9 1018.1 291.4 1016.8 291.9 1019.3 292.4 1011.1 292.9 1016.3 293.4 1015.5 293.9 1019.5 294.4 1023.4 294.9 1020.6 295.4 1021.6 295.9 1021.4 296.4 1023.9 296.9 1016.1 297.4 1021.0 297.9 1017.3 298.4 1018.6 298.9 1022.3 299.4 1022.9 299.9 1020.3 300.4 1024.0 300.9 1020.9 301.4 1020.8 301.9 1021.4 302.3 1021.7 302.8 1025.0 303.3 1024.9 303.8 1020.8 304.3 1021.6 304.8 1020.9 305.3 1024.0 305.8 1023.6 306.3 1024.2 306.8 1019.7 307.3 1023.8 307.8 1021.4 308.3 1020.3 308.8 1023.5 309.3 1022.6 309.8 1025.1 310.3 1025.1 310.8 1023.8 311.3 1025.5 311.8 1025.0 312.3 1024.0 312.8 1022.0 313.3 1027.3 313.8 1027.2 314.3 1027.6 314.8 1021.9 315.3 1022.0 315.8 1025.5 316.3 1027.5 316.8 1025.2 317.3 1028.4 317.8 1022.4 318.3 1027.0 318.8 1019.9 319.3 1023.2 319.8 1022.5 320.3 1027.4 320.8 1024.0 321.3 1025.9 321.8 1028.4 322.3 1024.2 322.8 1028.7 323.3 1023.4 323.8 1030.0 324.3 1023.4 324.8 1022.9 325.3 1027.6 325.8 1030.4 326.3 1021.3 326.8 1029.4 327.3 1030.0 327.8 1027.7 328.3 1022.7 328.8 1023.8 329.3 1028.2 329.8 1020.5 330.3 1030.1 330.8 1032.0 331.3 1023.2 331.8 1023.7 332.3 1029.1 332.8 1025.1 333.3 1029.1 333.8 1025.9 334.2 1025.8 334.7 1026.9 335.2 1029.3 335.7 1029.2 336.2 1027.3 336.7 1031.5 337.2 1032.0 337.7 1029.9 338.2 1023.5 338.7 1025.7 339.2 1027.1 339.7 1029.2 340.2 1031.6 340.7 1026.0 341.2 1031.4 341.7 1024.3 342.2 1028.8 342.7 1026.6 343.2 1027.2 343.7 1031.6 344.2 1026.9 344.7 1028.3 345.2 1033.1 345.7 1028.8 346.2 1024.1 346.7 1025.0 347.2 1026.7 347.7 1028.9 348.2 1029.0 348.7 1023.3 349.2 1024.9 349.7 1024.5 350.2 1028.2 350.7 1029.4 351.2 1027.7 351.7 1029.8 352.2 1027.8 352.7 1028.7 353.2 1032.7 353.7 1030.8 354.2 1026.9 354.7 1027.5 355.2 1031.9 355.7 1028.5 356.2 1026.6 356.7 1029.9 357.2 1025.0 357.7 1029.3 358.2 1027.2 358.7 1029.7 359.2 1035.2 359.7 1029.5 360.2 1025.7 360.7 1023.8 361.2 1029.2 361.7 1028.0 362.2 1024.9 362.7 1027.2 363.2 1028.8 363.7 1025.6 364.2 1028.4 364.7 1030.3 365.2 1026.8 365.7 1032.8 366.1 1026.4 366.6 1025.7 367.1 1032.1 367.6 1027.7 368.1 1026.9 368.6 1026.3 369.1 1030.3 369.6 1027.1 370.1 1027.6 370.6 1023.8 371.1 1025.0 371.6 1027.9 372.1 1025.0 372.6 1027.7 373.1 1032.3 373.6 1029.4 374.1 1032.3 374.6 1026.3 375.1 1030.9 375.6 1027.9 376.1 1031.4 376.6 1025.9 377.1 1029.5 377.6 1032.0 378.1 1029.8 378.6 1030.1 379.1 1028.4 379.6 1022.3 380.1 1026.8 380.6 1027.1 381.1 1032.0 381.6 1029.7 382.1 1026.4 382.6 1032.1 383.1 1030.6 383.6 1024.6 384.1 1033.2 384.6 1030.6 385.1 1037.6 385.6 1032.5 386.1 1024.9 386.6 1032.8 387.1 1030.1 387.6 1028.3 388.1 1030.4 388.6 1031.4 389.1 1028.5 389.6 1026.8 390.1 1031.4 390.6 1030.6 391.1 1026.1 391.6 1033.4 392.1 1028.8 392.6 1035.1 393.1 1033.9 393.6 1029.2 394.1 1032.0 394.6 1026.6 395.1 1030.2 395.6 1024.1 396.1 1026.3 396.6 1029.5 397.1 1031.5 397.6 1032.2 398.0 1033.0 398.5 1032.7 399.0 1028.3 399.5 1029.4 400.0 1027.8 400.5 1029.8 401.0 1024.5 401.5 1027.3 402.0 1033.9 402.5 1030.2 403.0 1027.7 403.5 1031.7 404.0 1030.6 404.5 1029.6 405.0 1028.7 405.5 1026.8 406.0 1029.7 406.5 1030.1 407.0 1029.9 407.5 1034.2 408.0 1029.9 408.5 1030.8 409.0 1033.6 409.5 1032.3 410.0 1023.8 410.5 1029.6 411.0 1026.8 411.5 1027.6 412.0 1032.7 412.5 1034.6 413.0 1031.2 413.5 1023.0 414.0 1028.5 414.5 1029.0 415.0 1028.4 415.5 1034.6 416.0 1031.3 416.5 1031.9 417.0 1030.1 417.5 1032.6 418.0 1029.4 418.5 1026.1 419.0 1029.9 419.5 1027.9 420.0 1025.4 420.5 1024.1 421.0 1028.2 421.5 1029.1 422.0 1035.3 422.5 1028.1 423.0 1027.8 423.5 1029.7 424.0 1032.3 424.5 1026.2 425.0 1029.2 425.5 1033.7 426.0 1034.8 426.5 1027.7 427.0 1024.9 427.5 1029.5 428.0 1029.3 428.5 1033.1 429.0 1032.6 429.5 1030.1 429.9 1027.4 430.4 1030.9 430.9 1027.4 431.4 1027.2 431.9 1029.8 432.4 1035.8 432.9 1035.2 433.4 1034.3 433.9 1025.2 434.4 1031.8 434.9 1027.7 435.4 1031.4 435.9 1032.6 436.4 1032.1 436.9 1028.0 437.4 1027.0 437.9 1032.1 438.4 1033.7 438.9 1027.8 439.4 1027.4 439.9 1029.6 440.4 1028.3 440.9 1032.8 441.4 1033.1 441.9 1032.4 442.4 1028.2 442.9 1027.4 443.4 1029.0 443.9 1030.4 444.4 1032.5 444.9 1031.3 445.4 1029.0 445.9 1031.7 446.4 1032.4 446.9 1029.7 447.4 1027.1 447.9 1031.4 448.4 1032.9 448.9 1032.1 449.4 1027.0 449.9 1031.3 450.4 1030.3 450.9 1029.3 451.4 1029.6 451.9 1028.4 452.4 1028.0 452.9 1030.8 453.4 1029.9 453.9 1030.3 454.4 1026.5 454.9 1030.5 455.4 1034.5 455.9 1026.7 456.4 1030.1 456.9 1029.8 457.4 1030.6 457.9 1031.9 458.4 1028.0 458.9 1032.3 459.4 1031.7 459.9 1028.8 460.4 1031.6 460.9 1033.3 461.4 1033.9 461.8 1029.1 462.3 1032.1 462.8 1029.6 463.3 1027.4 463.8 1036.7 464.3 1032.7 464.8 1031.9 465.3 1028.9 465.8 1030.3 466.3 1028.3 466.8 1035.2 467.3 1027.9 467.8 1029.7 468.3 1032.1 468.8 1029.1 469.3 1032.1 469.8 1030.1 470.3 1029.1 470.8 1029.3 471.3 1023.4 471.8 1031.9 472.3 1030.9 472.8 1030.1 473.3 1029.5 473.8 1025.9 474.3 1029.1 474.8 1026.1 475.3 1027.0 475.8 1025.2 476.3 1027.5 476.8 1031.5 477.3 1029.7 477.8 1025.6 478.3 1025.7 478.8 1031.4 479.3 1027.4 479.8 1030.6 480.3 1032.8 480.8 1030.9 481.3 1024.7 481.8 1021.1 482.3 1032.3 482.8 1023.6 483.3 1023.3 483.8 1025.8 484.3 1026.2 484.8 1028.9 485.3 1025.1 485.8 1024.4 486.3 1029.3 486.8 1023.9 487.3 1034.6 487.8 1022.4 488.3 1026.6 488.8 1029.7 489.3 1026.2 489.8 1021.3 490.3 1025.8 490.8 1028.9 491.3 1023.5 491.8 1020.7 492.3 1025.1 492.8 1018.9 493.2 1026.4 493.7 1026.9 494.2 1025.0 494.7 1021.0 495.2 1027.4 495.7 1028.0 496.2 1027.3 496.7 1022.4 497.2 1024.9 497.7 1021.1 498.2 1026.5 498.7 1021.4 499.2 1018.9 499.7 1021.5 500.2 1023.5 500.7 1021.3 501.2 1020.8 501.7 1018.2 502.2 1020.9 502.7 1020.1 503.2 1020.2 503.7 1019.2 504.2 1019.1 504.7 1016.5 505.2 1023.8 505.7 1013.4 506.2 1018.4 506.7 1020.7 507.2 1011.8 507.7 1011.5 508.2 1018.0 508.7 1023.0 509.2 1018.1 509.7 1013.2 510.2 1012.3 510.7 1011.6 511.2 1008.9 511.7 1010.2 512.2 1014.1 512.7 1009.9 513.2 1011.3 513.7 1011.9 514.2 1006.9 514.7 1007.0 515.2 1007.9 515.7 1004.2 516.2 1006.1 516.7 1006.9 517.2 1004.3 517.7 998.5 518.2 1003.2 518.7 1001.0 519.2 1000.5 519.7 996.2 520.2 998.8 520.7 997.3 521.2 995.0 521.7 993.3 522.2 994.0 522.7 987.9 523.2 993.0 523.7 989.7 524.2 993.0 524.7 983.5 525.1 986.2 525.6 987.3 526.1 986.0 526.6 982.7 527.1 985.5 527.6 980.1 528.1 981.7 528.6 978.8 529.1 976.9 529.6 974.2 530.1 973.2 530.6 972.3 531.1 973.6 531.6 969.7 532.1 967.2 532.6 970.7 533.1 968.2 533.6 968.3 534.1 965.8 534.6 969.3 535.1 965.6 535.6 963.4 536.1 962.9 536.6 963.5 537.1 960.2 537.6 961.1 538.1 957.7 538.6 962.1 539.1 956.5 539.6 947.1 540.1 957.9 540.6 954.7 541.1 954.9 541.6 957.1 542.1 947.0 542.6 949.7 543.1 954.4 543.6 951.1 544.1 956.9 544.6 956.8 545.1 954.4 545.6 958.4 546.1 950.9 546.6 956.8 547.1 960.2 547.6 962.3 548.1 960.7 548.6 964.2 549.1 961.9 549.6 961.2 550.1 963.5 550.6 970.6 551.1 970.9 551.6 966.8 552.1 968.3 552.6 969.4 553.1 964.9 553.6 968.8 554.1 972.0 554.6 970.5 555.1 973.4 555.6 971.7 556.1 976.2 556.6 980.6 557.0 979.2 557.5 982.6 558.0 981.0 558.5 980.5 559.0 984.4 559.5 980.1 560.0 984.3 560.5 986.7 561.0 987.2 561.5 991.1 562.0 988.9 562.5 994.9 563.0 995.8 563.5 994.8 564.0 993.7 564.5 993.3 565.0 999.4 565.5 997.9 566.0 1007.4 566.5 1003.0 567.0 1005.5 567.5 999.8 568.0 1003.1 568.5 1002.7 569.0 998.0 569.5 1006.4 570.0 1005.3 570.5 1006.4 571.0 1009.1 571.5 1011.7 572.0 1011.1 572.5 1015.1 573.0 1008.9 573.5 1013.8 574.0 1009.9 574.5 1011.9 575.0 1016.4 575.5 1015.3 576.0 1015.0 576.5 1015.5 577.0 1017.3 577.5 1019.5 578.0 1018.1 578.5 1015.6 579.0 1019.6 579.5 1017.6 580.0 1018.9 580.5 1018.9 581.0 1021.6 581.5 1019.9 582.0 1018.6 582.5 1015.9 583.0 1016.5 583.5 1021.6 584.0 1019.1 584.5 1023.7 585.0 1021.7 585.5 1022.6 586.0 1022.0 586.5 1029.6 587.0 1025.4 587.5 1024.4 588.0 1025.1 588.5 1016.5 588.9 1021.0 589.4 1027.2 589.9 1027.6 590.4 1022.0 590.9 1018.4 591.4 1020.8 591.9 1026.2 592.4 1024.3 592.9 1028.2 593.4 1024.5 593.9 1026.1 594.4 1027.0 594.9 1025.3 595.4 1024.5 595.9 1024.1 596.4 1025.5 596.9 1026.3 597.4 1029.2 597.9 1026.6 598.4 1025.0 598.9 1023.6 599.4 1024.6 599.9 1028.0 600.4 1027.3 600.9 1030.9 601.4 1026.8 601.9 1026.1 602.4 1031.4 602.9 1030.3 603.4 1031.0 603.9 1024.1 604.4 1027.6 604.9 1028.5 605.4 1028.5 605.9 1021.3 606.4 1028.2 606.9 1028.1 607.4 1031.3 607.9 1027.6 608.4 1028.5 608.9 1027.9 609.4 1025.3 609.9 1030.3 610.4 1034.0 610.9 1025.9 611.4 1033.1 611.9 1033.6 612.4 1024.8 612.9 1025.1 613.4 1026.6 613.9 1026.2 614.4 1026.9 614.9 1026.0 615.4 1028.0 615.9 1030.4 616.4 1031.4 616.9 1028.6 617.4 1026.3 617.9 1030.8 618.4 1031.0 618.9 1027.0 619.4 1030.5 619.9 1026.2 620.4 1027.3 620.8 1029.7 621.3 1028.7 621.8 1032.6 622.3 1029.0 622.8 1030.2 623.3 1032.8 623.8 1025.1 624.3 1031.4 624.8 1033.0 625.3 1029.0 625.8 1032.8 626.3 1026.5 626.8 1027.2 627.3 1025.8 627.8 1034.3 628.3 1027.3 628.8 1031.3 629.3 1024.9 629.8 1032.5 630.3 1025.9 630.8 1027.7 631.3 1022.4 631.8 1026.1 632.3 1032.6 632.8 1025.8 633.3 1034.5 633.8 1036.3 634.3 1029.4 634.8 1025.9 635.3 1028.8 635.8 1030.7 636.3 1024.0 636.8 1028.0 637.3 1030.4 637.8 1031.2 638.3 1024.5 638.8 1029.9 639.3 1030.3 639.8 1033.3 640.3 1030.9 640.8 1033.2 641.3 1031.7 641.8 1027.6 642.3 1038.2 642.8 1032.1 643.3 1030.9 643.8 1029.0 644.3 1034.8 644.8 1030.4 645.3 1031.9 645.8 1030.8 646.3 1029.8 646.8 1025.5 647.3 1028.5 647.8 1035.3 648.3 1030.9 648.8 1028.2 649.3 1027.5 649.8 1027.7 650.3 1028.9 650.8 1029.7 651.3 1034.5 651.8 1031.2 652.3 1035.2 652.7 1025.2 653.2 1029.6 653.7 1024.5 654.2 1023.7 654.7 1030.8 655.2 1024.8 655.7 1030.3 656.2 1027.5 656.7 1033.6 657.2 1033.7 657.7 1025.5 658.2 1032.4 658.7 1030.1 659.2 1031.7 659.7 1028.6 660.2 1033.8 660.7 1033.1 661.2 1030.0 661.7 1025.4 662.2 1023.0 662.7 1033.1 663.2 1030.7 663.7 1025.9 664.2 1027.3 664.7 1037.9 665.2 1026.8 665.7 1031.1 666.2 1034.0 666.7 1037.1 667.2 1031.1 667.7 1031.6 668.2 1026.6 668.7 1031.5 669.2 1030.0 669.7 1026.9 670.2 1026.7 670.7 1033.9 671.2 1033.3 671.7 1038.1 672.2 1029.1 672.7 1024.0 673.2 1036.2 673.7 1032.0 674.2 1035.3 674.7 1028.1 675.2 1028.9 675.7 1034.7 676.2 1027.8 676.7 1030.0 677.2 1030.1 677.7 1032.8 678.2 1033.3 678.7 1027.8 679.2 1033.0 679.7 1029.5 680.2 1029.8 680.7 1030.6 681.2 1033.0 681.7 1029.9 682.2 1031.6 682.7 1027.9 683.2 1025.9 683.7 1026.8 684.1 1031.0 684.6 1030.4 685.1 1030.7 685.6 1026.2 686.1 1027.9 686.6 1030.3 687.1 1032.3 687.6 1031.7 688.1 1029.2 688.6 1028.0 689.1 1025.6 689.6 1028.5 690.1 1033.5 690.6 1029.4 691.1 1028.4 691.6 1030.9 692.1 1038.2 692.6 1028.6 693.1 1027.1 693.6 1024.9 694.1 1023.9 694.6 1031.2 695.1 1030.9 695.6 1028.1 696.1 1031.1 696.6 1031.7 697.1 1027.6 697.6 1030.7 698.1 1032.4 698.6 1025.4 699.1 1029.4 699.6 1030.0 700.1 1024.4 700.6 1037.0 701.1 1033.0 701.6 1035.5 702.1 1025.4 702.6 1029.6 703.1 1033.2 703.6 1028.2 704.1 1036.0 704.6 1026.4 705.1 1029.6 705.6 1028.5 706.1 1024.7 706.6 1028.9 707.1 1029.6 707.6 1026.3 708.1 1028.1 708.6 1032.4 709.1 1032.1 709.6 1030.9 710.1 1031.6 710.6 1033.4 711.1 1028.9 711.6 1027.3 712.1 1029.7 712.6 1029.8 713.1 1027.4 713.6 1030.0 714.1 1030.2 714.6 1032.5 715.1 1026.4 715.6 1033.0 716.0 1028.6 716.5 1025.0 717.0 1032.4 717.5 1030.7 718.0 1029.5 718.5 1025.6 719.0 1031.6 719.5 1025.9 720.0 1025.7 720.5 1028.7 721.0 1031.7 721.5 1028.9 722.0 1029.1 722.5 1026.0 723.0 1031.4 723.5 1027.5 724.0 1030.4 724.5 1037.0 725.0 1029.2 725.5 1025.4 726.0 1024.1 726.5 1025.4 727.0 1025.3 727.5 1029.0 728.0 1032.1 728.5 1028.1 729.0 1027.1 729.5 1029.9 730.0 1025.4 730.5 1027.1 731.0 1030.5 731.5 1031.3 732.0 1026.5 732.5 1026.4 733.0 1026.0 733.5 1028.3 734.0 1031.9 734.5 1027.5 735.0 1023.7 735.5 1030.3 736.0 1030.3 736.5 1030.4 737.0 1029.3 737.5 1025.6 738.0 1023.5 738.5 1028.2 739.0 1025.5 739.5 1026.6 740.0 1030.1 740.5 1020.6 741.0 1020.8 741.5 1021.4 742.0 1023.5 742.5 1025.1 743.0 1026.3 743.5 1022.8 744.0 1028.4 744.5 1023.9 745.0 1026.9 745.5 1029.4 746.0 1027.7 746.5 1023.3 747.0 1023.8 747.5 1025.3 747.9 1026.1 748.4 1019.9 748.9 1019.9 749.4 1021.2 749.9 1025.9 750.4 1023.1 750.9 1021.9 751.4 1017.7 751.9 1017.5 752.4 1022.5 752.9 1017.9 753.4 1023.7 753.9 1017.9 754.4 1020.7 754.9 1022.0 755.4 1021.2 755.9 1019.1 756.4 1025.2 756.9 1018.1 757.4 1019.3 757.9 1016.6 758.4 1020.2 758.9 1020.3 759.4 1019.8 759.9 1016.6 760.4 1018.1 760.9 1011.7 761.4 1013.1 761.9 1015.7 762.4 1006.5 762.9 1007.7 763.4 1014.0 763.9 1011.8 764.4 1009.8 764.9 1009.3 765.4 1013.7 765.9 1009.8 766.4 1006.6 766.9 1002.5 767.4 1006.5 767.9 1001.9 768.4 1003.8 768.9 1001.3 769.4 1006.4 769.9 999.5 770.4 1000.6 770.9 1003.9 771.4 992.0 771.9 996.0 772.4 991.7 772.9 1000.1 773.4 995.5 773.9 992.8 774.4 992.3 774.9 992.9 775.4 991.0 775.9 988.4 776.4 989.5 776.9 986.5 777.4 989.9 777.9 979.3 778.4 980.1 778.9 982.0 779.4 980.7 779.8 975.2 780.3 979.3 780.8 976.6 781.3 977.5 781.8 970.0 782.3 973.0 782.8 967.6 783.3 967.5 783.8 967.2 784.3 962.2 784.8 961.1 785.3 965.9 785.8 956.4 786.3 959.7 786.8 960.8 787.3 960.0 787.8 953.8 788.3 950.2 788.8 955.5 789.3 949.5 789.8 950.2 790.3 947.2 790.8 944.4 791.3 946.1 791.8 946.5 792.3 941.5 792.8 950.7 793.3 945.3 793.8 950.8 794.3 949.3 794.8 944.1 795.3 945.8 795.8 944.7 796.3 946.3 796.8 947.0 797.3 948.4 797.8 949.1 798.3 949.0 798.8 947.4 799.3 945.4 799.8 951.6 800.3 951.3 800.8 954.9 801.3 952.2 801.8 956.0 802.3 953.6 802.8 958.9 803.3 958.2 803.8 961.6 804.3 969.5 804.8 965.6 805.3 964.3 805.8 966.9 806.3 967.7 806.8 968.9 807.3 970.7 807.8 972.0 808.3 973.5 808.8 978.0 809.3 979.4 809.8 983.1 810.3 980.8 810.8 982.1 811.3 989.3 811.7 979.4 812.2 985.6 812.7 987.7 813.2 989.5 813.7 987.0 814.2 989.0 814.7 987.2 815.2 991.1 815.7 988.2 816.2 997.3 816.7 995.5 817.2 994.1 817.7 1002.3 818.2 999.2 818.7 997.3 819.2 1002.5 819.7 1000.7 820.2 997.3 820.7 1004.1 821.2 1009.2 821.7 1000.5 822.2 1005.1 822.7 1009.2 823.2 1008.7 823.7 1011.3 824.2 1008.6 824.7 1013.8 825.2 1010.7 825.7 1011.0 826.2 1013.0 826.7 1011.6 827.2 1012.1 827.7 1012.2 828.2 1011.6 828.7 1012.4 829.2 1011.1 829.7 1017.1 830.2 1016.9 830.7 1010.6 831.2 1015.5 831.7 1017.3 832.2 1014.6 832.7 1019.2 833.2 1016.6 833.7 1018.7 834.2 1016.2 834.7 1019.9 835.2 1020.1 835.7 1026.6 836.2 1024.8 836.7 1021.0 837.2 1020.9 837.7 1021.2 838.2 1022.0 838.7 1015.2 839.2 1021.6 839.7 1023.8 840.2 1022.2 840.7 1018.8 841.2 1018.1 841.7 1017.4 842.2 1027.6 842.7 1025.2 843.1 1027.2 843.6 1022.5 844.1 1021.4 844.6 1019.1 845.1 1024.9 845.6 1019.8 846.1 1021.8 846.6 1027.7 847.1 1028.7 847.6 1023.7 848.1 1027.1 848.6 1025.1 849.1 1026.2 849.6 1021.1 850.1 1025.9 850.6 1025.8 851.1 1026.4 851.6 1026.4 852.1 1025.7 852.6 1027.1 853.1 1023.3 853.6 1026.7 854.1 1023.1 854.6 1026.1 855.1 1024.5 855.6 1023.8 856.1 1024.2 856.6 1024.4 857.1 1028.4 857.6 1024.0 858.1 1027.3 858.6 1027.7 859.1 1032.7 859.6 1029.1 860.1 1023.6 860.6 1022.9 861.1 1026.7 861.6 1027.9 862.1 1024.6 862.6 1029.3 863.1 1021.0 863.6 1020.6 864.1 1024.4 864.6 1028.4 865.1 1029.3 865.6 1026.9 866.1 1030.9 866.6 1028.1 867.1 1026.3 867.6 1031.2 868.1 1027.7 868.6 1024.4 869.1 1027.7 869.6 1023.7 870.1 1030.0 870.6 1026.1 871.1 1021.6 871.6 1030.5 872.1 1027.9 872.6 1025.3 873.1 1027.2 873.6 1028.7 874.1 1026.6 874.6 1027.4 875.0 1029.8 875.5 1025.5 876.0 1026.6 876.5 1031.9 877.0 1025.8 877.5 1024.6 878.0 1026.8 878.5 1029.4 879.0 1024.2 879.5 1025.8 880.0 1024.7 880.5 1031.5 881.0 1030.0 881.5 1027.4 882.0 1029.6 882.5 1022.3 883.0 1024.0 883.5 1027.0 884.0 1030.0 884.5 1021.7 885.0 1027.0 885.5 1025.1 886.0 1025.0 886.5 1026.1 887.0 1022.6 887.5 1029.9 888.0 1024.0 888.5 1026.5 889.0 1022.2 889.5 1023.3 890.0 1020.1 890.5 1029.5 891.0 1032.8 891.5 1025.2 892.0 1026.0 892.5 1030.7 893.0 1022.9 893.5 1025.4 894.0 1022.5 894.5 1026.8 895.0 1025.6 895.5 1027.3 896.0 1027.0 896.5 1020.8 897.0 1022.0 897.5 1024.2 898.0 1025.2 898.5 1023.0 899.0 1025.0 899.5 1025.3 900.0 1021.5 900.5 1022.7 901.0 1021.2 901.5 1018.8 902.0 1025.0 902.5 1027.2 903.0 1021.1 903.5 1026.4 904.0 1025.8 904.5 1019.2 905.0 1019.6 905.5 1018.8 906.0 1022.9 906.5 1023.7 906.9 1018.0 907.4 1014.7 907.9 1019.0 908.4 1022.2 908.9 1019.3 909.4 1017.8 909.9 1012.6 910.4 1018.8 910.9 1015.7 911.4 1016.3 911.9 1016.1 912.4 1014.0 912.9 1012.1 913.4 1014.7 913.9 1015.5 914.4 1018.3 914.9 1012.0 915.4 1009.2 915.9 1017.1 916.4 1014.2 916.9 1008.3 917.4 1009.1 917.9 1009.4 918.4 1012.7 918.9 1007.8 919.4 1011.3 919.9 1007.1 920.4 1003.5 920.9 1005.5 921.4 999.2 921.9 1001.4 922.4 1004.1 922.9 999.1 923.4 999.7 923.9 996.0 924.4 998.8 924.9 992.9 925.4 995.8 925.9 998.1 926.4 993.3 926.9 996.5 927.4 994.0 927.9 993.6 928.4 988.6 928.9 989.4 929.4 985.5 929.9 985.3 930.4 984.9 930.9 986.8 931.4 988.7 931.9 979.1 932.4 986.3 932.9 974.2 933.4 973.8 933.9 983.8 934.4 981.3 934.9 977.2 935.4 976.3 935.9 974.8 936.4 967.4 936.9 974.8 937.4 970.5 937.9 964.9 938.4 971.7 938.8 971.6 939.3 972.7 939.8 971.2 940.3 966.7 940.8 968.9 941.3 966.3 941.8 966.3 942.3 970.9 942.8 964.1 943.3 957.4 943.8 963.1 944.3 959.7 944.8 961.0 945.3 968.0 945.8 965.0 946.3 961.4 946.8 963.2 947.3 966.6 947.8 964.3 948.3 968.8 948.8 961.0 949.3 964.8 949.8 964.6 950.3 961.8 950.8 965.6 951.3 966.9 951.8 968.5 952.3 959.5 952.8 965.9 953.3 967.6 953.8 969.5 954.3 967.4 954.8 966.6 955.3 964.7 955.8 971.2 956.3 966.9 956.8 971.8 957.3 967.9 957.8 968.6 958.3 965.5 958.8 964.2 959.3 969.0 959.8 967.8 960.3 972.4 960.8 964.6 961.3 964.9 961.8 972.0 962.3 966.4 962.8 965.9 963.3 963.1 963.8 966.7 964.3 971.2 964.8 972.4 965.3 964.4 965.8 971.1 966.3 967.5 966.8 968.5 967.3 972.6 967.8 970.6 968.3 972.3 968.8 973.7 969.3 974.1 969.8 973.7 970.3 975.8 970.7 972.3 971.2 971.7 971.7 972.5 972.2 975.7 972.7 974.0 973.2 977.6 973.7 977.3 974.2 983.0 974.7 976.6 975.2 983.7 975.7 983.2 976.2 988.7 976.7 981.1 977.2 985.5 977.7 983.2 978.2 984.7 978.7 987.6 979.2 990.5 979.7 993.0 980.2 988.7 980.7 988.7 981.2 992.1 981.7 996.0 982.2 995.5 982.7 996.7 983.2 998.4 983.7 996.8 984.2 999.4 984.7 1004.5 985.2 1001.1 985.7 998.5 986.2 1000.1 986.7 1001.4 987.2 1003.8 987.7 1005.6 988.2 1000.1 988.7 1003.2 989.2 1004.9 989.7 1003.9 990.2 1001.7 990.7 1004.6 991.2 1011.9 991.7 1005.7 992.2 1014.8 992.7 1010.9 993.2 1011.8 993.7 1017.4 994.2 1018.2 994.7 1009.6 995.2 1016.5 995.7 1015.9 996.2 1012.5 996.7 1014.1 997.2 1012.8 997.7 1020.8 998.2 1024.0 998.7 1012.6 999.2 1014.8 999.7 1017.0 1000.2 1015.1 1000.7 1021.3 1001.2 1019.3 1001.7 1018.2 1002.2 1014.3 1002.6 1014.8 1003.1 1019.8 1003.6 1014.4 1004.1 1022.7 1004.6 1019.2 1005.1 1023.8 1005.6 1022.0 1006.1 1023.0 1006.6 1022.7 1007.1 1019.8 1007.6 1020.2 1008.1 1021.0 1008.6 1022.7 1009.1 1024.8 1009.6 1022.1 1010.1 1026.8 1010.6 1021.8 1011.1 1019.8 1011.6 1021.2 1012.1 1021.6 1012.6 1027.8 1013.1 1026.2 1013.6 1025.1 1014.1 1023.8 1014.6 1025.0 1015.1 1020.7 1015.6 1031.5 1016.1 1026.2 1016.6 1027.6 1017.1 1028.2 1017.6 1024.7 1018.1 1024.5 1018.6 1022.2 1019.1 1024.8 1019.6 1024.6 1020.1 1019.8 1020.6 1026.0 1021.1 1021.8 1021.6 1024.8 1022.1 1032.1 1022.6 1030.5 1023.1 1021.3 1023.6 1026.2 1024.1 1026.8 1024.6 1030.4 1025.1 1031.7 1025.6 1026.0 1026.1 1024.4 1026.6 1027.1 1027.1 1027.5 1027.6 1020.8 1028.1 1027.0 1028.6 1025.0 1029.1 1031.1 1029.6 1028.1 1030.1 1027.0 1030.6 1028.8 1031.1 1025.9 1031.6 1026.9 1032.1 1027.4 1032.6 1021.2 1033.1 1029.1 1033.6 1029.5 1034.0 1028.7 1034.5 1029.8 1035.0 1023.2 1035.5 1027.2 1036.0 1026.1 1036.5 1026.0 1037.0 1023.2 1037.5 1024.0 1038.0 1026.4 1038.5 1023.6 1039.0 1025.7 1039.5 1023.4 1040.0 1028.1 1040.5 1032.7 1041.0 1028.0 1041.5 1026.5 1042.0 1022.8 1042.5 1024.7 1043.0 1028.7 1043.5 1027.3 1044.0 1026.1 1044.5 1021.4 1045.0 1023.6 1045.5 1027.9 1046.0 1023.9 1046.5 1029.2 1047.0 1027.2 1047.5 1024.0 1048.0 1032.2 1048.5 1019.5 1049.0 1025.6 1049.5 1022.5 1050.0 1025.8 1050.5 1028.5 1051.0 1030.8 1051.5 1028.1 1052.0 1026.3 1052.5 1027.6 1053.0 1023.3 1053.5 1026.5 1054.0 1029.2 1054.5 1027.8 1055.0 1029.0 1055.5 1025.6 1056.0 1028.7 1056.5 1026.6 1057.0 1024.3 1057.5 1022.4 1058.0 1020.1 1058.5 1024.3 1059.0 1025.5 1059.5 1027.4 1060.0 1024.6 1060.5 1023.4 1061.0 1027.9 1061.5 1028.2 1062.0 1028.3 1062.5 1027.9 1063.0 1025.0 1063.5 1027.9 1064.0 1028.0 1064.5 1029.3 1065.0 1025.8 1065.5 1023.4 1065.9 1029.4 1066.4 1029.1 1066.9 1025.8 1067.4 1019.8 1067.9 1023.7 1068.4 1029.0 1068.9 1024.0 1069.4 1024.4 1069.9 1029.1 1070.4 1026.3 1070.9 1026.0 1071.4 1023.9 1071.9 1026.9 1072.4 1026.5 1072.9 1027.9 1073.4 1020.8 1073.9 1029.5 1074.4 1031.4 1074.9 1027.5 1075.4 1024.9 1075.9 1029.5 1076.4 1029.7 1076.9 1024.0 1077.4 1025.8 1077.9 1026.6 1078.4 1023.4 1078.9 1025.6 1079.4 1028.7 1079.9 1032.0 1080.4 1020.7 1080.9 1027.8 1081.4 1021.7 1081.9 1024.2 1082.4 1027.8 1082.9 1022.9 1083.4 1027.0 1083.9 1024.6 1084.4 1028.0 1084.9 1021.9 1085.4 1031.7 1085.9 1023.1 1086.4 1023.9 1086.9 1022.2 1087.4 1029.6 1087.9 1027.0 1088.4 1026.0 1088.9 1030.1 1089.4 1022.3 1089.9 1023.1 1090.4 1026.5 1090.9 1023.3 1091.4 1024.7 1091.9 1025.1 1092.4 1024.8 1092.9 1026.3 1093.4 1022.3 1093.9 1028.5 1094.4 1025.5 1094.9 1023.3 1095.4 1023.8 1095.9 1026.1 1096.4 1025.0 1096.9 1026.8 1097.4 1029.4 1097.8 1025.1 1098.3 1020.5 1098.8 1026.0 1099.3 1025.4 1099.8 1025.4 1100.3 1024.4 1100.8 1020.2 1101.3 1024.0 1101.8 1025.2 1102.3 1024.2 1102.8 1029.1 1103.3 1029.5 1103.8 1018.8 1104.3 1030.1 1104.8 1020.9 1105.3 1022.9 1105.8 1032.2 1106.3 1028.7 1106.8 1026.7 1107.3 1020.8 1107.8 1024.1 1108.3 1025.2 1108.8 1020.9 1109.3 1024.6 1109.8 1019.5 1110.3 1027.3 1110.8 1023.0 1111.3 1020.6 1111.8 1026.9 1112.3 1025.2 1112.8 1026.9 1113.3 1018.4 1113.8 1020.5 1114.3 1021.8 1114.8 1017.2 1115.3 1022.1 1115.8 1021.8 1116.3 1020.7 1116.8 1020.9 1117.3 1016.6 1117.8 1022.5 1118.3 1024.6 1118.8 1016.5 1119.3 1016.7 1119.8 1019.8 1120.3 1016.2 1120.8 1016.7 1121.3 1017.9 1121.8 1014.7 1122.3 1013.6 1122.8 1020.9 1123.3 1014.7 1123.8 1019.9 1124.3 1014.7 1124.8 1018.7 1125.3 1015.0 1125.8 1011.6 1126.3 1017.0 1126.8 1014.7 1127.3 1012.6 1127.8 1020.6 1128.3 1018.9 1128.8 1010.0 1129.3 1012.5 1129.7 1011.2 1130.2 1009.3 1130.7 1012.7 1131.2 1013.0 1131.7 1013.3 1132.2 1006.1 1132.7 1010.5 1133.2 1011.9 1133.7 1001.6 1134.2 1005.9 1134.7 1003.9 1135.2 1007.6 1135.7 1000.5 1136.2 1003.8 1136.7 1002.6 1137.2 1000.1 1137.7 1001.5 1138.2 996.2 1138.7 996.5 1139.2 996.3 1139.7 1000.4 1140.2 1001.3 1140.7 995.7 1141.2 994.2 1141.7 989.8 1142.2 989.4 1142.7 993.0 1143.2 994.8 1143.7 989.4 1144.2 987.6 1144.7 987.0 1145.2 989.5 1145.7 990.4 1146.2 985.8 1146.7 983.8 1147.2 984.7 1147.7 981.4 1148.2 982.0 1148.7 984.6 1149.2 981.9 1149.7 975.2 1150.2 984.7 1150.7 986.5 1151.2 973.2 1151.7 975.5 1152.2 978.0 1152.7 979.3 1153.2 969.8 1153.7 979.6 1154.2 977.9 1154.7 976.0 1155.2 973.5 1155.7 968.0 1156.2 973.8 1156.7 970.9 1157.2 974.3 1157.7 972.0 1158.2 969.8 1158.7 979.6 1159.2 981.3 1159.7 969.7 1160.2 975.2 1160.7 971.7 1161.2 977.5 1161.6 973.2 1162.1 977.8 1162.6 975.5 1163.1 979.6 1163.6 973.1 1164.1 980.5 1164.6 980.7 1165.1 982.1 1165.6 982.2 1166.1 986.6 1166.6 987.2 1167.1 982.6 1167.6 985.4 1168.1 983.9 1168.6 985.8 1169.1 993.4 1169.6 986.3 1170.1 992.8 1170.6 995.9 1171.1 994.3 1171.6 996.4 1172.1 991.1 1172.6 993.9 1173.1 993.6 1173.6 1001.2 1174.1 997.6 1174.6 996.6 1175.1 999.5 1175.6 1003.9 1176.1 997.7 1176.6 1004.7 1177.1 1003.6 1177.6 1003.5 1178.1 1005.8 1178.6 1003.6 1179.1 1003.3 1179.6 1002.8 1180.1 1008.8 1180.6 1004.1 1181.1 1007.4 1181.6 1007.4 1182.1 1013.1 1182.6 1003.3 1183.1 1010.5 1183.6 1012.2 1184.1 1013.4 1184.6 1013.1 1185.1 1016.4 1185.6 1013.9 1186.1 1013.5 1186.6 1015.9 1187.1 1016.7 1187.6 1016.9 1188.1 1017.8 1188.6 1020.3 1189.1 1021.5 1189.6 1014.7 1190.1 1015.9 1190.6 1024.6 1191.1 1017.8 1191.6 1013.1 1192.1 1019.1 1192.6 1021.0 1193.1 1023.6 1193.5 1021.6 1194.0 1022.5 1194.5 1021.7 1195.0 1024.5 1195.5 1017.0 1196.0 1022.0 1196.5 1022.9 1197.0 1022.9 1197.5 1025.9 1198.0 1019.1 1198.5 1026.6 1199.0 1025.5 1199.5 1020.0 1200.0 1023.0 1200.5 1023.5 1201.0 1017.5 1201.5 1024.0 1202.0 1022.4 1202.5 1022.6 1203.0 1018.8 1203.5 1025.5 1204.0 1028.7 1204.5 1028.7 1205.0 1028.5 1205.5 1026.4 1206.0 1027.9 1206.5 1021.4 1207.0 1024.0 1207.5 1025.1 1208.0 1025.8 1208.5 1024.3 1209.0 1025.6 1209.5 1028.5 1210.0 1022.3 1210.5 1027.9 1211.0 1026.1 1211.5 1027.5 1212.0 1027.0 1212.5 1027.4 1213.0 1025.6 1213.5 1029.5 1214.0 1029.8 1214.5 1028.8 1215.0 1024.6 1215.5 1026.3 1216.0 1027.7 1216.5 1032.7 1217.0 1029.3 1217.5 1028.7 1218.0 1030.6 1218.5 1023.6 1219.0 1029.1 1219.5 1019.0 1220.0 1026.0 1220.5 1028.0 1221.0 1023.3 1221.5 1020.8 1222.0 1023.5 1222.5 1028.9 1223.0 1028.8 1223.5 1028.7 1224.0 1027.2 1224.5 1030.7 1224.9 1029.4 1225.4 1026.2 1225.9 1027.9 1226.4 1033.6 1226.9 1026.5 1227.4 1024.6 1227.9 1024.1 1228.4 1022.4 1228.9 1024.3 1229.4 1031.9 1229.9 1030.0 1230.4 1029.7 1230.9 1030.5 1231.4 1026.3 1231.9 1027.1 1232.4 1028.6 1232.9 1032.5 1233.4 1027.0 1233.9 1024.5 1234.4 1025.8 1234.9 1032.7 1235.4 1028.2 1235.9 1024.9 1236.4 1029.4 1236.9 1030.7 1237.4 1026.3 1237.9 1026.7 1238.4 1025.7 1238.9 1023.8 1239.4 1027.4 1239.9 1030.7 1240.4 1030.4 1240.9 1028.4 1241.4 1024.6 1241.9 1029.0 1242.4 1031.6 1242.9 1031.8 1243.4 1027.1 1243.9 1026.1 1244.4 1031.5 1244.9 1029.1 1245.4 1033.0 1245.9 1031.5 1246.4 1032.1 1246.9 1029.0 1247.4 1025.4 1247.9 1030.2 1248.4 1028.2 1248.9 1030.7 1249.4 1028.4 1249.9 1030.8 1250.4 1027.2 1250.9 1029.2 1251.4 1031.9 1251.9 1033.1 1252.4 1025.4 1252.9 1029.9 1253.4 1029.8 1253.9 1029.6 1254.4 1029.0 1254.9 1029.5 1255.4 1027.7 1255.9 1030.4 1256.4 1033.1 1256.8 1024.3 1257.3 1033.0 1257.8 1025.2 1258.3 1027.8 1258.8 1026.3 1259.3 1030.8 1259.8 1028.2 1260.3 1030.5 1260.8 1023.2 1261.3 1028.7 1261.8 1031.2 1262.3 1028.8 1262.8 1025.8 1263.3 1029.0 1263.8 1033.4 1264.3 1031.5 1264.8 1032.2 1265.3 1026.1 1265.8 1028.6 1266.3 1027.0 1266.8 1028.1 1267.3 1025.8 1267.8 1026.5 1268.3 1032.3 1268.8 1025.0 1269.3 1030.4 1269.8 1027.9 1270.3 1026.7 1270.8 1030.4 1271.3 1028.8 1271.8 1032.1 1272.3 1034.2 1272.8 1030.1 1273.3 1027.1 1273.8 1026.3 1274.3 1023.2 1274.8 1028.1 1275.3 1026.1 1275.8 1034.1 1276.3 1026.1 1276.8 1025.8 1277.3 1024.8 1277.8 1027.2 1278.3 1025.8 1278.8 1022.3 1279.3 1030.5 1279.8 1028.5 1280.3 1031.9 1280.8 1029.0 1281.3 1026.9 1281.8 1029.5 1282.3 1026.6 1282.8 1029.8 1283.3 1026.4 1283.8 1027.1 1284.3 1021.0 1284.8 1024.8 1285.3 1026.8 1285.8 1026.1 1286.3 1025.3 1286.8 1028.7 1287.3 1028.6 1287.8 1021.3 1288.3 1024.9 1288.7 1025.9 1289.2 1030.4 1289.7 1024.9 1290.2 1022.5 1290.7 1023.3 1291.2 1026.8 1291.7 1016.0 1292.2 1025.5 1292.7 1025.7 1293.2 1021.5 1293.7 1025.0 1294.2 1019.2 1294.7 1017.8 1295.2 1015.9 1295.7 1019.7 1296.2 1020.9 1296.7 1019.8 1297.2 1014.9 1297.7 1018.6 1298.2 1019.6 1298.7 1018.8 1299.2 1021.1 1299.7 1013.4 1300.2 1017.0 1300.7 1015.0 1301.2 1015.2 1301.7 1012.7 1302.2 1013.9 1302.7 1009.3 1303.2 1011.0 1303.7 1015.0 1304.2 1010.0 1304.7 1010.2 1305.2 1011.7 1305.7 1011.7 1306.2 1013.2 1306.7 1006.9 1307.2 1008.1 1307.7 1004.6 1308.2 1009.2 1308.7 1007.8 1309.2 1007.8 1309.7 1003.9 1310.2 1008.7 1310.7 1003.1 1311.2 1002.7 1311.7 1004.6 1312.2 1003.5 1312.7 1007.6 1313.2 1006.3 1313.7 1003.9 1314.2 1008.9 1314.7 1008.1 1315.2 1005.6 1315.7 1004.1 1316.2 1003.6 1316.7 1007.5 1317.2 1006.9 1317.7 1008.1 1318.2 1008.5 1318.7 1008.6 1319.2 1006.1 1319.7 1009.3 1320.2 1008.4 1320.6 1002.5 1321.1 1007.6 1321.6 1012.6 1322.1 1010.7 1322.6 1008.6 1323.1 1008.6 1323.6 1011.4 1324.1 1009.4 1324.6 1006.2 1325.1 1007.0 1325.6 1017.7 1326.1 1010.2 1326.6 1011.3 1327.1 1011.8 1327.6 1012.4 1328.1 1013.4 1328.6 1011.7 1329.1 1010.3 1329.6 1010.9 1330.1 1011.2 1330.6 1016.1 1331.1 1016.2 1331.6 1013.4 1332.1 1016.1 1332.6 1009.6 1333.1 1008.7 1333.6 1004.4 1334.1 1013.1 1334.6 1011.7 1335.1 1006.8 1335.6 1011.7 1336.1 1009.2 1336.6 1010.5 1337.1 1012.6 1337.6 1011.3 1338.1 1009.2 1338.6 1008.0 1339.1 1011.8 1339.6 1005.6 1340.1 1009.6 1340.6 1011.2 1341.1 1012.4 1341.6 1003.9 1342.1 1009.7 1342.6 1007.4 1343.1 1007.4 1343.6 1010.5 1344.1 1008.5 1344.6 1000.3 1345.1 1009.9 1345.6 1004.8 1346.1 1009.4 1346.6 1006.3 1347.1 1005.9 1347.6 1008.1 1348.1 1009.7 1348.6 1005.6 1349.1 1012.0 1349.6 1007.0 1350.1 1010.0 1350.6 1014.1 1351.1 1008.2 1351.6 1010.3 1352.1 1011.7 1352.5 1012.5 1353.0 1013.2 1353.5 1011.1 1354.0 1011.2 1354.5 1011.9 1355.0 1010.3 1355.5 1006.9 1356.0 1013.3 1356.5 1012.8 1357.0 1020.6 1357.5 1012.1 1358.0 1010.4 1358.5 1012.4 1359.0 1013.0 1359.5 1016.4 1360.0 1013.9 1360.5 1017.2 1361.0 1014.4 1361.5 1014.9 1362.0 1017.2 1362.5 1017.4 1363.0 1013.5 1363.5 1019.1 1364.0 1017.5 1364.5 1023.9 1365.0 1018.2 1365.5 1020.0 1366.0 1016.7 1366.5 1021.2 1367.0 1018.4 1367.5 1020.8 1368.0 1023.0 1368.5 1017.0 1369.0 1015.2 1369.5 1020.6 1370.0 1021.9 1370.5 1023.4 1371.0 1025.7 1371.5 1021.1 1372.0 1021.6 1372.5 1019.9 1373.0 1024.3 1373.5 1026.3 1374.0 1023.2 1374.5 1026.2 1375.0 1022.3 1375.5 1022.6 1376.0 1027.8 1376.5 1027.8 1377.0 1024.7 1377.5 1021.7 1378.0 1025.4 1378.5 1021.5 1379.0 1026.5 1379.5 1024.0 1380.0 1022.6 1380.5 1025.1 1381.0 1032.5 1381.5 1027.1 1382.0 1027.3 1382.5 1022.5 1383.0 1027.8 1383.5 1021.5 1384.0 1024.4 1384.4 1026.8 1384.9 1032.4 1385.4 1024.3 1385.9 1027.9 1386.4 1025.7 1386.9 1021.2 1387.4 1028.4 1387.9 1033.6 1388.4 1029.0 1388.9 1024.6 1389.4 1026.6 1389.9 1028.5 1390.4 1024.1 1390.9 1027.6 1391.4 1025.3 1391.9 1027.2 1392.4 1026.0 1392.9 1027.4 1393.4 1028.3 1393.9 1025.3 1394.4 1031.8 1394.9 1024.4 1395.4 1028.9 1395.9 1033.1 1396.4 1031.7 1396.9 1027.1 1397.4 1029.0 1397.9 1025.1 1398.4 1028.7 1398.9 1024.9 1399.4 1031.0 1399.9 1028.7 1400.4 1025.8 1400.9 1029.9 1401.4 1026.1 1401.9 1028.4 1402.4 1025.4 1402.9 1026.1 1403.4 1030.3 1403.9 1033.2 1404.4 1032.6 1404.9 1030.8 1405.4 1028.3 1405.9 1030.2 1406.4 1027.5 1406.9 1027.6 1407.4 1027.1 1407.9 1030.4 1408.4 1028.7 1408.9 1023.9 1409.4 1028.6 1409.9 1031.3 1410.4 1029.3 1410.9 1025.9 1411.4 1027.8 1411.9 1027.7 1412.4 1030.2 1412.9 1029.3 1413.4 1026.8 1413.9 1030.2 1414.4 1022.3 1414.9 1022.2 1415.4 1029.6 1415.8 1022.0 1416.3 1031.8 1416.8 1028.2 1417.3 1027.7 1417.8 1030.8 1418.3 1033.0 1418.8 1027.5 1419.3 1028.5 1419.8 1024.5 1420.3 1023.6 1420.8 1023.4 1421.3 1030.9 1421.8 1025.9 1422.3 1031.4 1422.8 1023.6 1423.3 1024.3 1423.8 1027.2 1424.3 1029.5 1424.8 1024.0 1425.3 1025.1 1425.8 1024.3 1426.3 1031.5 1426.8 1027.4 1427.3 1027.5 1427.8 1024.0 1428.3 1025.5 1428.8 1023.6 1429.3 1032.3 1429.8 1025.2 1430.3 1019.6 1430.8 1021.9 1431.3 1018.7 1431.8 1021.3 1432.3 1019.8 1432.8 1028.1 1433.3 1023.9 1433.8 1021.0 1434.3 1030.3 1434.8 1023.0 1435.3 1029.2 1435.8 1023.3 1436.3 1024.0 1436.8 1025.5 1437.3 1028.2 1437.8 1023.4 1438.3 1027.9 1438.8 1020.6 1439.3 1029.3 1439.8 1023.8 1440.3 1022.9 1440.8 1021.7 1441.3 1022.9 1441.8 1023.6 1442.3 1022.3 1442.8 1017.3 1443.3 1026.7 1443.8 1019.0 1444.3 1018.1 1444.8 1017.4 1445.3 1022.1 1445.8 1017.5 1446.3 1018.6 1446.8 1023.6 1447.3 1021.4 1447.7 1018.5 1448.2 1015.2 1448.7 1017.6 1449.2 1018.9 1449.7 1014.2 1450.2 1014.6 1450.7 1018.1 1451.2 1015.1 1451.7 1019.8 1452.2 1011.4 1452.7 1013.3 1453.2 1012.1 1453.7 1014.9 1454.2 1011.6 1454.7 1015.9 1455.2 1018.1 1455.7 1012.2 1456.2 1013.2 1456.7 1009.9 1457.2 1014.3 1457.7 1008.2 1458.2 1009.8 1458.7 1011.0 1459.2 1006.4 1459.7 1010.9 1460.2 1007.9 1460.7 1009.0 1461.2 1006.6 1461.7 1003.7 1462.2 1008.8 1462.7 1007.0 1463.2 1006.6 1463.7 1004.7 1464.2 1007.0 1464.7 1003.9 1465.2 1005.3 1465.7 1009.2 1466.2 1003.2 1466.7 1005.3 1467.2 1002.6 1467.7 1004.5 1468.2 1002.8 1468.7 1005.5 1469.2 1001.4 1469.7 1002.0 1470.2 1007.6 1470.7 1003.5 1471.2 1008.0 1471.7 1002.4 1472.2 999.9 1472.7 1002.9 1473.2 1004.3 1473.7 1002.7 1474.2 999.4 1474.7 998.7 1475.2 1008.8 1475.7 1001.6 1476.2 1005.5 1476.7 1007.1 1477.2 1007.2 1477.7 995.9 1478.2 1000.7 1478.7 1001.7 1479.2 1007.6 1479.6 1004.8 1480.1 1002.9 1480.6 1008.7 1481.1 1009.6 1481.6 1007.9 1482.1 1004.3 1482.6 1009.5 1483.1 1006.5 1483.6 1009.0 1484.1 1010.6 1484.6 1010.9 1485.1 1010.1 1485.6 1010.9 1486.1 1013.5 1486.6 1012.4 1487.1 1005.3 1487.6 1010.6 1488.1 1013.3 1488.6 1016.7 1489.1 1012.6 1489.6 1012.8 1490.1 1016.2 1490.6 1012.2 1491.1 1017.5 1491.6 1014.2 1492.1 1017.0 1492.6 1017.8 1493.1 1018.3 1493.6 1020.7 1494.1 1017.2 1494.6 1016.0 1495.1 1018.5 1495.6 1024.9 1496.1 1022.2 1496.6 1016.6 1497.1 1016.1 1497.6 1019.4 1498.1 1016.1 1498.6 1016.8 1499.1 1024.0 1499.6 1024.1 1500.1 1024.0 1500.6 1026.2 1501.1 1015.9 1501.6 1022.4 1502.1 1020.3 1502.6 1025.3 1503.1 1019.7 1503.6 1024.0 1504.1 1025.4 1504.6 1026.0 1505.1 1027.9 1505.6 1027.8 1506.1 1024.0 1506.6 1019.4 1507.1 1025.2 1507.6 1028.4 1508.1 1027.7 1508.6 1018.6 1509.1 1021.8 1509.6 1026.5 1510.1 1026.4 1510.6 1025.2 1511.1 1025.4 1511.5 1022.8 1512.0 1026.7 1512.5 1030.4 1513.0 1025.7 1513.5 1020.7 1514.0 1023.6 1514.5 1027.2 1515.0 1027.4 1515.5 1023.7 1516.0 1023.5 1516.5 1026.5 1517.0 1026.9 1517.5 1026.6 1518.0 1026.2 1518.5 1026.2 1519.0 1024.3 1519.5 1020.9 1520.0 1022.9 1520.5 1025.4 1521.0 1028.8 1521.5 1024.1 1522.0 1032.6 1522.5 1026.3 1523.0 1024.5 1523.5 1029.0 1524.0 1030.4 1524.5 1031.2 1525.0 1029.5 1525.5 1028.6 1526.0 1026.1 1526.5 1027.6 1527.0 1028.0 1527.5 1025.2 1528.0 1028.5 1528.5 1022.0 1529.0 1025.3 1529.5 1026.0 1530.0 1027.5 1530.5 1028.7 1531.0 1028.5 1531.5 1028.3 1532.0 1023.2 1532.5 1033.7 1533.0 1026.0 1533.5 1031.0 1534.0 1028.3 1534.5 1028.0 1535.0 1026.8 1535.5 1027.4 1536.0 1023.0 1536.5 1026.6 1537.0 1034.0 1537.5 1029.6 1538.0 1026.0 1538.5 1026.5 1539.0 1026.3 1539.5 1027.2 1540.0 1031.5 1540.5 1029.2 1541.0 1026.2 1541.5 1021.5 1542.0 1032.6 1542.5 1031.0 1543.0 1027.7 1543.4 1028.8 1543.9 1026.7 1544.4 1025.9 1544.9 1034.9 1545.4 1021.0 1545.9 1027.0 1546.4 1029.1 1546.9 1029.4 1547.4 1028.0 1547.9 1027.2 1548.4 1028.8 1548.9 1024.7 1549.4 1024.7 1549.9 1029.6 1550.4 1025.7 1550.9 1030.0 1551.4 1031.2 1551.9 1032.0 1552.4 1031.3 1552.9 1025.0 1553.4 1028.1 1553.9 1027.9 1554.4 1031.0 1554.9 1027.1 1555.4 1031.9 1555.9 1028.5 1556.4 1031.9 1556.9 1028.4 1557.4 1028.3 1557.9 1024.9 1558.4 1026.9 1558.9 1032.6 1559.4 1032.4 1559.9 1021.3 1560.4 1034.9 1560.9 1033.0 1561.4 1026.0 1561.9 1030.2 1562.4 1030.7 1562.9 1020.8 1563.4 1027.6 1563.9 1028.4 1564.4 1027.5 1564.9 1024.0 1565.4 1027.6 1565.9 1029.6 1566.4 1029.2 1566.9 1024.9 1567.4 1034.7 1567.9 1024.9 1568.4 1026.2 1568.9 1029.5 1569.4 1026.5 1569.9 1026.4 1570.4 1026.5 1570.9 1027.7 1571.4 1034.9 1571.9 1027.2 1572.4 1026.4 1572.9 1024.7 1573.4 1028.6 1573.9 1029.7 1574.4 1025.6 1574.9 1026.7 1575.3 1029.1 1575.8 1026.3 1576.3 1025.6 1576.8 1030.1 1577.3 1031.7 1577.8 1027.0 1578.3 1022.1 1578.8 1029.3 1579.3 1023.5 1579.8 1033.4 1580.3 1028.8 1580.8 1029.8 1581.3 1028.8 1581.8 1030.9 1582.3 1030.0 1582.8 1029.2 1583.3 1028.6 1583.8 1023.5 1584.3 1029.9 1584.8 1027.2 1585.3 1028.7 1585.8 1030.7 1586.3 1025.6 1586.8 1025.7 1587.3 1030.4 1587.8 1025.9 1588.3 1026.6 1588.8 1026.7 1589.3 1029.8 1589.8 1027.1 1590.3 1028.5 1590.8 1031.9" stroke="#ac74de" stroke-width="7"/>
</g>
<g stroke="#000" stroke-width="3.5" fill="none">
<rect x="95.3" y="13.2" width="1495.7" height="1085.1"/>
<line x1="95.5" y1="1098.3" x2="95.5" y2="1118.5"/><line x1="220.1" y1="1098.3" x2="220.1" y2="1108"/><line x1="344.7" y1="1098.3" x2="344.7" y2="1118.5"/><line x1="469.3" y1="1098.3" x2="469.3" y2="1108"/><line x1="593.9" y1="1098.3" x2="593.9" y2="1118.5"/><line x1="718.5" y1="1098.3" x2="718.5" y2="1108"/><line x1="843.1" y1="1098.3" x2="843.1" y2="1118.5"/><line x1="967.8" y1="1098.3" x2="967.8" y2="1108"/><line x1="1092.4" y1="1098.3" x2="1092.4" y2="1118.5"/><line x1="1217.0" y1="1098.3" x2="1217.0" y2="1108"/><line x1="1341.6" y1="1098.3" x2="1341.6" y2="1118.5"/><line x1="1466.2" y1="1098.3" x2="1466.2" y2="1108"/><line x1="1590.8" y1="1098.3" x2="1590.8" y2="1118.5"/>
</g>
<g font-family="'Liberation Serif', 'Times New Roman', serif" font-weight="bold" fill="#000">
<g font-size="67"><text x="95.5" y="1183.5" text-anchor="middle">20</text><text x="344.7" y="1183.5" text-anchor="middle">30</text><text x="593.9" y="1183.5" text-anchor="middle">40</text><text x="843.1" y="1183.5" text-anchor="middle">50</text><text x="1092.4" y="1183.5" text-anchor="middle">60</text><text x="1341.6" y="1183.5" text-anchor="middle">70</text><text x="1590.8" y="1183.5" text-anchor="middle">80</text></g>
<g font-size="48"><text transform="translate(245.5,50.1) rotate(-90)" text-anchor="middle">101</text><text transform="translate(503.0,755.0) rotate(-90)" text-anchor="middle">103</text><text transform="translate(557.7,680.2) rotate(-90)" text-anchor="middle">004</text><text transform="translate(594.5,758.2) rotate(-90)" text-anchor="middle">112</text><text transform="translate(805.5,645.4) rotate(-90)" text-anchor="middle">200</text><text transform="translate(942.0,700.4) rotate(-90)" text-anchor="middle">105</text><text transform="translate(994.0,697.5) rotate(-90)" text-anchor="middle">211</text><text transform="translate(1179.5,747.0) rotate(-90)" text-anchor="middle">204</text><text transform="translate(1316.0,798.4) rotate(-90)" text-anchor="middle">116</text><text transform="translate(1368.0,796.8) rotate(-90)" text-anchor="middle">220</text><text transform="translate(1429.7,814.4) rotate(-90)" text-anchor="middle">107</text><text transform="translate(1475.9,747.6) rotate(-90)" text-anchor="middle">215</text><text transform="translate(1523.7,820.9) rotate(-90)" text-anchor="middle">301</text></g>
<line x1="1158" y1="65.8" x2="1308" y2="65.8" stroke="#4f4f4f" stroke-width="6.5" stroke-linecap="round"/><text x="1327" y="90.0" font-size="67">TEB</text><line x1="1158" y1="149.9" x2="1308" y2="149.9" stroke="#ef3b3e" stroke-width="6.5" stroke-linecap="round"/><text x="1327" y="174.1" font-size="67">TPB</text><line x1="1158" y1="234.0" x2="1308" y2="234.0" stroke="#1a6ddf" stroke-width="6.5" stroke-linecap="round"/><text x="1327" y="258.2" font-size="67">TBB</text><line x1="1158" y1="318.1" x2="1308" y2="318.1" stroke="#33ac69" stroke-width="6.5" stroke-linecap="round"/><text x="1327" y="342.3" font-size="67">TBCb</text><line x1="1158" y1="402.2" x2="1308" y2="402.2" stroke="#ac74de" stroke-width="6.5" stroke-linecap="round"/><text x="1327" y="426.4" font-size="67">TBS</text>
<text x="0" y="0" font-size="87.5" transform="translate(68.7,556) rotate(-90)" text-anchor="middle">Intensity, a.u.</text>
<text x="653" y="1261.3" font-size="87">2 theta,</text>
<text x="950.4" y="1261.3" font-size="83" font-weight="normal" stroke="#000" stroke-width="1.4">(</text>
<text x="977.9" y="1226.5" font-size="47" font-weight="normal" stroke="#000" stroke-width="0.5">o</text>
<text x="1001.8" y="1261.3" font-size="83" font-weight="normal" stroke="#000" stroke-width="1.4">)</text>
<text x="276.5" y="826" font-size="52">*<tspan dx="3" dy="4">rutil</tspan></text>
</g>
<text x="0" y="0" font-family="'DejaVu Sans', sans-serif" font-weight="bold" font-size="72" transform="translate(279,946) scale(0.91,1.06)" text-anchor="middle">*</text>
<rect x="0" y="1291" width="1638" height="1" fill="#ebebeb"/>
</svg>
</body></html>
